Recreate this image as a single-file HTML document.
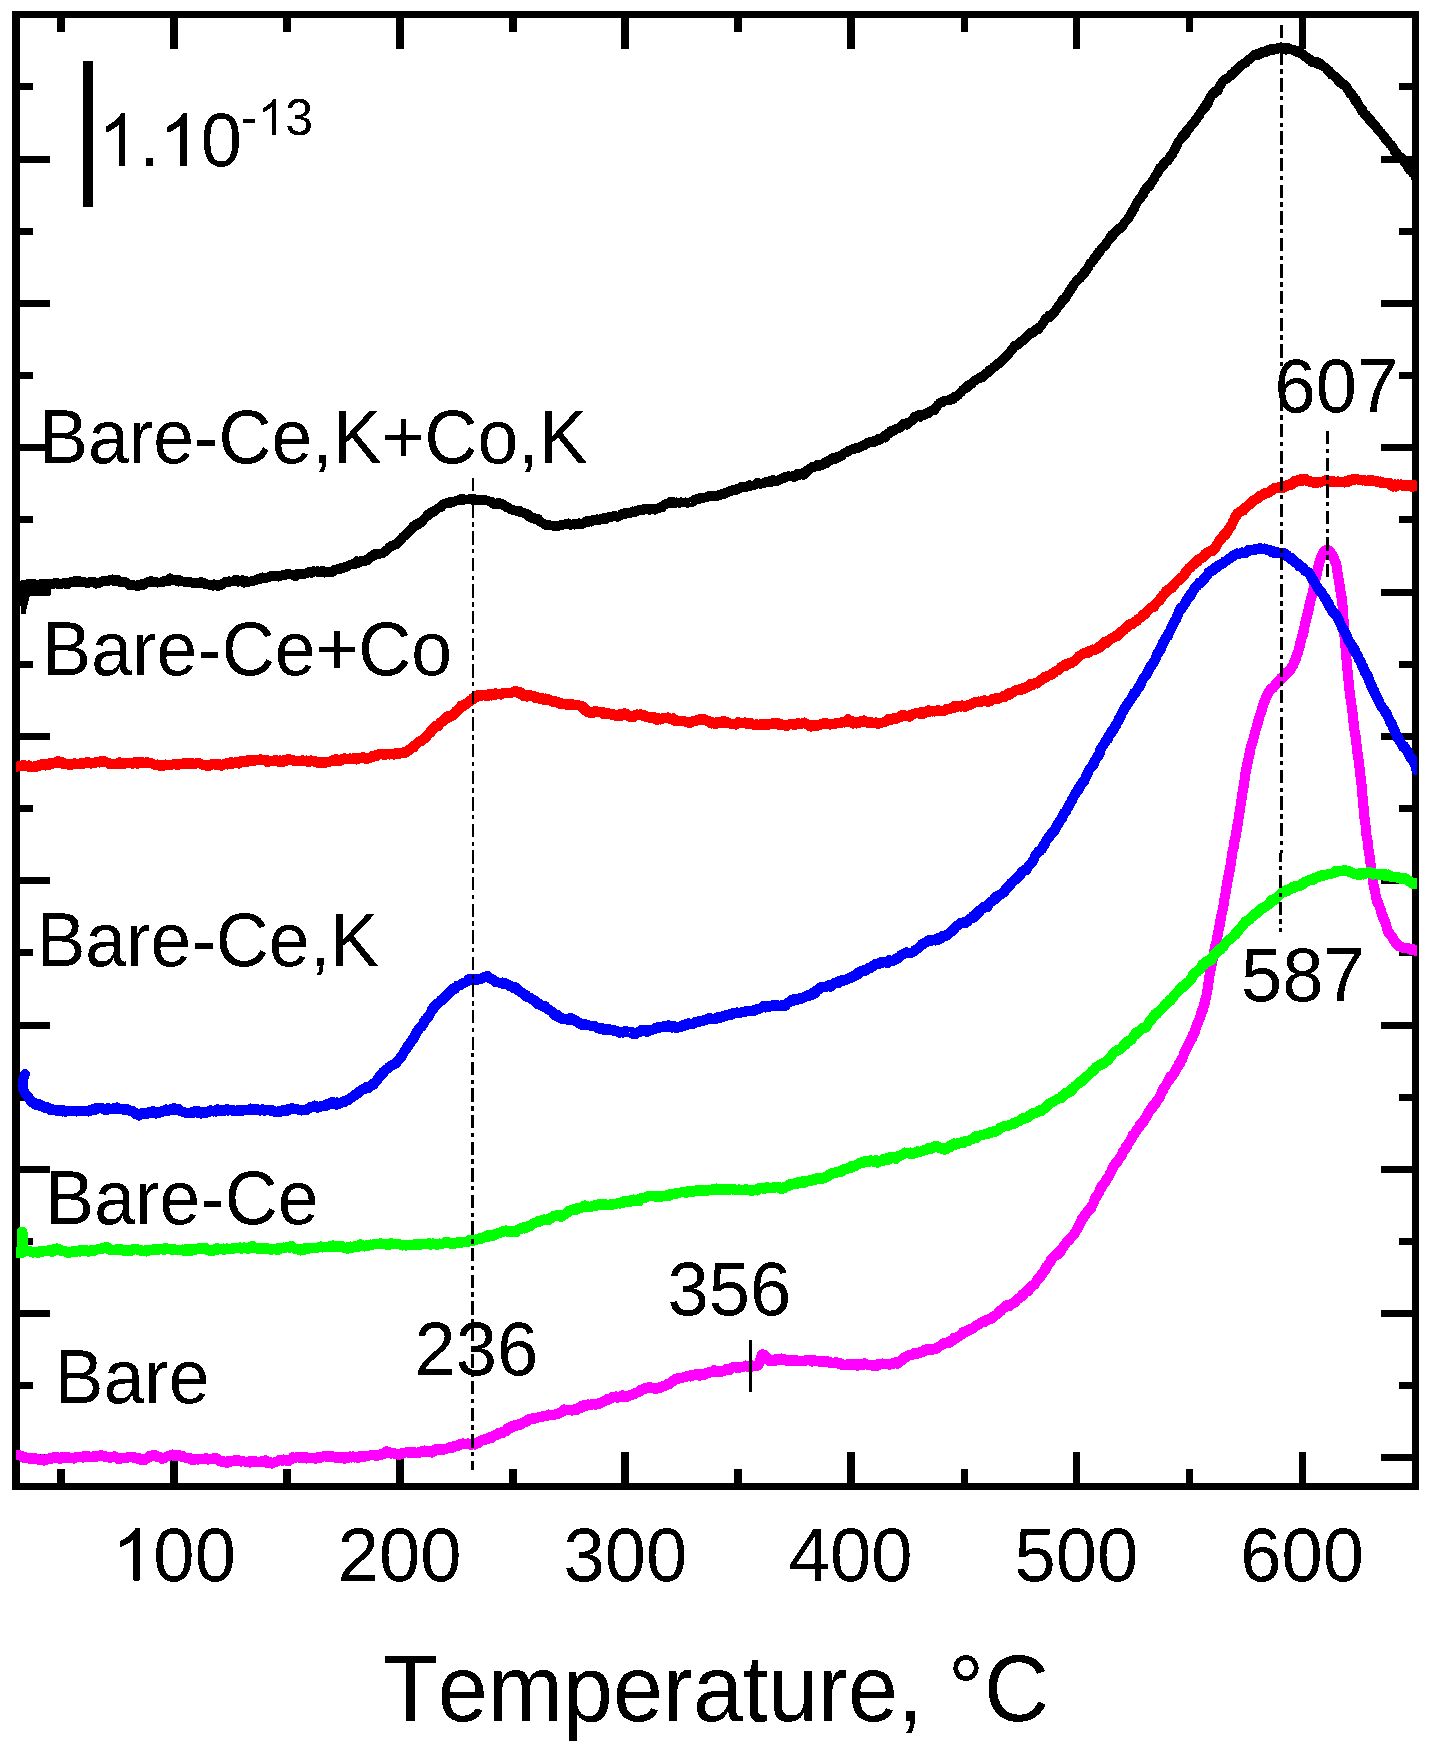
<!DOCTYPE html>
<html>
<head>
<meta charset="utf-8">
<title>TPD profiles</title>
<style>
html,body{margin:0;padding:0;background:#fff;}
body{width:1433px;height:1753px;overflow:hidden;font-family:"Liberation Sans",sans-serif;}
svg{display:block;}
svg text{font-family:"Liberation Sans",sans-serif;fill:#000;font-kerning:none;font-variant-ligatures:none;white-space:pre;}
</style>
</head>
<body>
<svg width="1433" height="1753" viewBox="0 0 1433 1753">
<rect x="0" y="0" width="1433" height="1753" fill="#fff"/>
<g fill="#000" shape-rendering="crispEdges">
<rect x="12" y="11" width="1407" height="7"/>
<rect x="12" y="1483" width="1407" height="7"/>
<rect x="12" y="11" width="8" height="1479"/>
<rect x="1412" y="11" width="7" height="1479"/>
<rect x="57" y="18" width="8" height="14"/>
<rect x="57" y="1469" width="8" height="14"/>
<rect x="170" y="18" width="8" height="31"/>
<rect x="170" y="1452" width="8" height="31"/>
<rect x="283" y="18" width="8" height="14"/>
<rect x="283" y="1469" width="8" height="14"/>
<rect x="396" y="18" width="8" height="31"/>
<rect x="396" y="1452" width="8" height="31"/>
<rect x="509" y="18" width="8" height="14"/>
<rect x="509" y="1469" width="8" height="14"/>
<rect x="621" y="18" width="8" height="31"/>
<rect x="621" y="1452" width="8" height="31"/>
<rect x="734" y="18" width="8" height="14"/>
<rect x="734" y="1469" width="8" height="14"/>
<rect x="847" y="18" width="8" height="31"/>
<rect x="847" y="1452" width="8" height="31"/>
<rect x="961" y="18" width="7" height="14"/>
<rect x="961" y="1469" width="7" height="14"/>
<rect x="1073" y="18" width="7" height="31"/>
<rect x="1073" y="1452" width="7" height="31"/>
<rect x="1186" y="18" width="7" height="14"/>
<rect x="1186" y="1469" width="7" height="14"/>
<rect x="1299" y="18" width="7" height="31"/>
<rect x="1299" y="1452" width="7" height="31"/>
<rect x="20" y="83" width="13" height="7"/>
<rect x="1399" y="83" width="13" height="7"/>
<rect x="20" y="156" width="30" height="7"/>
<rect x="1381" y="156" width="31" height="7"/>
<rect x="20" y="228" width="13" height="7"/>
<rect x="1399" y="228" width="13" height="7"/>
<rect x="20" y="300" width="30" height="7"/>
<rect x="1381" y="300" width="31" height="7"/>
<rect x="20" y="372" width="13" height="7"/>
<rect x="1399" y="372" width="13" height="7"/>
<rect x="20" y="444" width="30" height="7"/>
<rect x="1381" y="444" width="31" height="7"/>
<rect x="20" y="516" width="13" height="7"/>
<rect x="1399" y="516" width="13" height="7"/>
<rect x="20" y="589" width="30" height="7"/>
<rect x="1381" y="589" width="31" height="7"/>
<rect x="20" y="661" width="13" height="7"/>
<rect x="1399" y="661" width="13" height="7"/>
<rect x="20" y="733" width="30" height="7"/>
<rect x="1381" y="733" width="31" height="7"/>
<rect x="20" y="805" width="13" height="7"/>
<rect x="1399" y="805" width="13" height="7"/>
<rect x="20" y="877" width="30" height="7"/>
<rect x="1381" y="877" width="31" height="7"/>
<rect x="20" y="949" width="13" height="7"/>
<rect x="1399" y="949" width="13" height="7"/>
<rect x="20" y="1022" width="30" height="7"/>
<rect x="1381" y="1022" width="31" height="7"/>
<rect x="20" y="1094" width="13" height="7"/>
<rect x="1399" y="1094" width="13" height="7"/>
<rect x="20" y="1166" width="30" height="7"/>
<rect x="1381" y="1166" width="31" height="7"/>
<rect x="20" y="1238" width="13" height="7"/>
<rect x="1399" y="1238" width="13" height="7"/>
<rect x="20" y="1310" width="30" height="7"/>
<rect x="1381" y="1310" width="31" height="7"/>
<rect x="20" y="1382" width="13" height="7"/>
<rect x="1399" y="1382" width="13" height="7"/>
<rect x="20" y="1454" width="30" height="7"/>
<rect x="1381" y="1454" width="31" height="7"/>
</g>
<filter id="th" x="0" y="0" width="100%" height="100%" filterUnits="userSpaceOnUse" color-interpolation-filters="sRGB"><feComponentTransfer><feFuncA type="discrete" tableValues="0 1"/></feComponentTransfer></filter>
<g filter="url(#th)" fill="#000">
<path transform="translate(112.10 1580.6) scale(0.03623 -0.03569)" d="M763 0H583V1147Q518 1085 412.5 1023T223 930V1104Q374 1175 487 1276T647 1472H763Z"/>
<text transform="translate(153.37 1580.6) scale(1 1.025)" font-size="74.2">00</text>
<text transform="translate(337.84 1580.6) scale(1 1.025)" font-size="74.2">200</text>
<text transform="translate(563.58 1580.6) scale(1 1.025)" font-size="74.2">300</text>
<text transform="translate(788.82 1580.6) scale(1 1.025)" font-size="74.2">400</text>
<text transform="translate(1014.56 1580.6) scale(1 1.025)" font-size="74.2">500</text>
<text transform="translate(1240.30 1580.6) scale(1 1.025)" font-size="74.2">600</text>
<text transform="translate(39.10 463) scale(1 1.036)" font-size="73.4">Bare-Ce,K+Co,K</text>
<text transform="translate(42.20 674.5) scale(1 1.036)" font-size="73.4">Bare-Ce+Co</text>
<text transform="translate(36.40 965.5) scale(1 1.036)" font-size="73.4">Bare-Ce,K</text>
<text transform="translate(45.20 1223.5) scale(1 1.036)" font-size="73.4">Bare-Ce</text>
<text transform="translate(54.60 1403) scale(1 1.036)" font-size="73.4">Bare</text>
<text transform="translate(414.50 1374.5) scale(1 1.025)" font-size="74.2">236</text>
<text transform="translate(667.50 1314.5) scale(1 1.025)" font-size="74.2">356</text>
<text transform="translate(1274.50 412.5) scale(1 1.025)" font-size="74.2">607</text>
<text transform="translate(1241.00 1001) scale(1 1.025)" font-size="74.2">587</text>
<path transform="translate(97.50 166) scale(0.03623 -0.03569)" d="M763 0H583V1147Q518 1085 412.5 1023T223 930V1104Q374 1175 487 1276T647 1472H763Z"/>
<text transform="translate(138.77 166) scale(1 1.025)" font-size="74.2">.</text>
<path transform="translate(159.38 166) scale(0.03623 -0.03569)" d="M763 0H583V1147Q518 1085 412.5 1023T223 930V1104Q374 1175 487 1276T647 1472H763Z"/>
<text transform="translate(200.65 166) scale(1 1.025)" font-size="74.2">0</text>
<text transform="translate(240.91 134.5) scale(1 1.025)" font-size="50">-</text>
<path transform="translate(257.57 134.5) scale(0.02441 -0.02405)" d="M763 0H583V1147Q518 1085 412.5 1023T223 930V1104Q374 1175 487 1276T647 1472H763Z"/>
<text transform="translate(285.37 134.5) scale(1 1.025)" font-size="50">3</text>
<text transform="translate(382.89 1720.5) scale(1 1.055)" font-size="90">Temperature, °C</text>
</g>
<clipPath id="cp"><rect x="16" y="18" width="1401" height="1465"/></clipPath>
<g shape-rendering="crispEdges" clip-path="url(#cp)">
<path d="M16.2 1454.7L17.2 1455.1L18.2 1455.1L19.2 1455.1L20.2 1455.7L21.2 1455.8L22.2 1456.7L23.2 1457.7L24.2 1457.0L25.2 1457.2L26.2 1458.0L27.1 1458.1L28.1 1458.2L29.1 1457.9L30.1 1458.7L31.1 1459.3L32.1 1458.3L33.1 1458.9L34.1 1458.2L35.1 1458.6L36.1 1458.4L37.1 1459.4L38.1 1459.0L39.1 1460.1L40.1 1460.2L41.1 1460.3L42.1 1459.2L43.1 1460.3L44.1 1460.6L45.1 1460.5L46.1 1459.3L47.1 1459.6L48.1 1458.9L49.1 1458.5L50.1 1459.0L51.1 1457.5L52.1 1457.6L53.1 1457.8L54.1 1456.9L55.1 1457.3L56.1 1457.7L57.1 1458.0L58.1 1457.4L59.1 1458.2L60.1 1458.9L61.1 1457.2L62.1 1458.3L63.1 1457.7L64.1 1457.1L65.1 1458.3L66.1 1457.6L67.1 1456.5L68.1 1457.3L69.1 1457.7L70.1 1457.5L71.1 1458.1L72.1 1457.8L73.1 1458.2L74.1 1458.6L75.1 1457.3L76.1 1457.6L77.1 1457.1L78.1 1457.3L79.1 1456.5L80.1 1456.8L81.1 1456.9L82.1 1457.5L83.1 1457.6L84.1 1456.2L85.1 1456.5L86.1 1457.2L87.1 1455.8L88.1 1456.7L89.1 1456.9L90.1 1457.5L91.1 1457.1L92.0 1456.5L93.0 1456.4L94.0 1456.4L95.0 1457.3L96.0 1456.1L97.0 1456.0L98.0 1456.3L99.0 1455.9L100.0 1455.7L101.1 1455.2L102.1 1455.8L103.1 1455.7L104.1 1456.7L105.1 1456.6L106.1 1456.4L107.1 1457.0L108.1 1456.7L109.1 1457.7L110.1 1457.2L111.1 1457.6L112.1 1456.6L113.1 1457.5L114.1 1456.4L115.1 1456.3L116.1 1457.4L117.1 1457.3L118.1 1458.1L119.1 1459.4L120.1 1457.8L121.1 1457.9L122.1 1458.4L123.1 1458.5L124.1 1458.0L125.1 1457.8L126.1 1458.2L127.1 1457.9L128.1 1456.9L129.1 1457.3L130.1 1457.2L131.1 1456.6L132.1 1457.4L133.1 1456.9L134.1 1458.1L135.1 1457.9L136.1 1458.1L137.1 1458.1L138.1 1458.8L139.1 1458.2L140.1 1459.0L141.1 1460.0L142.1 1458.8L143.1 1460.4L144.1 1458.8L145.1 1459.8L146.1 1458.4L147.1 1458.6L148.1 1457.6L149.1 1456.0L150.1 1457.0L151.1 1456.5L152.1 1455.4L153.1 1455.1L154.1 1455.2L155.1 1455.0L156.1 1456.5L157.1 1456.1L158.1 1456.9L159.1 1457.0L160.1 1457.5L161.1 1457.4L162.1 1458.9L163.1 1458.1L164.1 1458.5L165.1 1457.7L166.1 1456.9L167.1 1456.6L168.1 1456.0L169.1 1456.0L170.1 1455.5L171.1 1455.3L172.1 1454.5L173.1 1454.7L174.1 1456.1L175.1 1454.8L176.1 1454.8L177.1 1455.7L178.1 1456.4L179.1 1455.1L180.1 1456.0L181.0 1456.0L182.0 1455.7L183.0 1457.4L184.0 1457.3L185.0 1457.7L186.0 1457.5L187.0 1458.5L188.0 1458.1L189.0 1458.6L190.0 1458.3L191.0 1458.4L192.0 1460.0L193.0 1459.2L194.0 1459.7L195.0 1459.6L196.0 1459.4L197.0 1459.2L198.0 1459.7L199.0 1459.0L200.0 1458.9L201.0 1458.8L202.0 1459.3L203.0 1459.0L204.0 1458.8L205.0 1458.4L206.0 1458.1L207.0 1459.5L208.0 1459.6L209.0 1459.0L210.0 1459.3L211.0 1459.3L212.0 1459.2L213.0 1459.1L214.0 1458.3L215.0 1459.3L216.0 1457.9L217.0 1459.4L218.0 1459.5L219.0 1460.2L220.0 1461.3L221.0 1461.6L221.9 1460.7L222.9 1460.8L223.9 1462.5L224.9 1461.7L225.9 1462.3L226.9 1462.8L227.9 1461.3L228.9 1461.0L229.9 1462.1L230.9 1461.7L231.9 1461.3L232.9 1461.3L233.9 1460.6L234.9 1460.1L235.9 1460.8L236.9 1460.3L237.9 1460.0L238.9 1461.3L239.9 1461.1L240.9 1461.6L241.9 1461.0L242.9 1461.4L243.9 1461.3L244.9 1461.5L245.9 1462.1L246.9 1461.5L247.9 1462.0L248.9 1461.9L249.9 1462.7L250.9 1460.8L251.9 1462.0L252.9 1461.5L253.9 1461.6L254.9 1460.8L255.9 1461.4L256.9 1462.2L257.9 1461.8L258.9 1461.9L259.9 1461.6L260.9 1462.4L261.9 1461.7L262.9 1460.5L263.9 1461.4L264.9 1460.8L265.9 1460.2L266.9 1461.9L267.9 1463.1L268.9 1462.7L269.9 1462.2L270.9 1462.4L271.9 1463.6L272.9 1462.9L273.9 1462.6L274.9 1462.2L275.8 1461.8L276.8 1461.8L277.8 1461.2L278.8 1460.7L279.8 1459.7L280.8 1460.4L281.8 1459.7L282.8 1460.8L283.8 1459.5L284.8 1460.3L285.8 1460.4L286.8 1459.7L287.8 1461.3L288.8 1460.9L289.8 1459.5L290.8 1459.8L291.8 1459.2L292.8 1457.2L293.8 1458.4L294.8 1457.9L295.8 1457.7L296.8 1456.9L297.8 1457.2L298.8 1457.2L299.8 1457.9L300.8 1457.5L301.7 1457.4L302.7 1458.3L303.7 1457.2L304.7 1457.4L305.7 1456.6L306.7 1458.5L307.7 1458.3L308.7 1458.3L309.7 1458.2L310.7 1457.9L311.7 1458.0L312.7 1457.8L313.7 1457.9L314.7 1458.0L315.7 1458.7L316.7 1458.0L317.7 1457.5L318.7 1457.0L319.7 1456.8L320.7 1457.8L321.7 1457.0L322.7 1456.6L323.7 1456.3L324.7 1455.9L325.7 1456.5L326.7 1457.0L327.7 1456.3L328.7 1456.4L329.7 1456.5L330.7 1456.8L331.7 1455.9L332.7 1456.8L333.7 1456.5L334.7 1457.5L335.7 1456.7L336.7 1457.5L337.7 1458.0L338.7 1457.1L339.7 1457.0L340.7 1457.6L341.7 1457.6L342.7 1457.1L343.7 1457.9L344.7 1458.8L345.7 1457.5L346.7 1457.5L347.7 1457.0L348.7 1457.6L349.7 1456.5L350.7 1456.4L351.7 1457.6L352.7 1456.3L353.7 1457.4L354.7 1457.6L355.7 1457.0L356.7 1457.2L357.7 1457.9L358.7 1456.7L359.7 1456.4L360.7 1455.9L361.7 1456.6L362.7 1457.3L363.7 1457.0L364.7 1455.8L365.7 1455.7L366.7 1455.8L367.7 1456.0L368.7 1455.5L369.7 1455.5L370.7 1455.3L371.7 1454.7L372.7 1454.7L373.7 1454.8L374.7 1454.7L375.7 1455.2L376.7 1456.1L377.7 1455.6L378.7 1455.3L379.7 1454.3L380.7 1455.3L381.7 1453.7L382.7 1453.5L383.7 1454.2L384.7 1453.5L385.7 1452.5L386.7 1451.2L387.7 1451.8L388.7 1451.6L389.7 1452.5L390.7 1453.7L391.7 1452.9L392.7 1452.8L393.7 1452.9L394.7 1453.9L395.7 1454.2L396.7 1453.8L397.7 1454.5L398.7 1453.7L399.7 1454.7L400.7 1454.4L401.7 1454.1L402.7 1452.9L403.7 1453.2L404.7 1452.7L405.7 1452.4L406.7 1452.3L407.7 1451.7L408.7 1451.6L409.7 1452.9L410.7 1452.4L411.7 1452.7L412.7 1453.2L413.7 1451.8L414.7 1452.3L415.7 1452.8L416.7 1452.9L417.7 1452.4L418.7 1453.1L419.7 1452.4L420.7 1451.5L421.7 1451.4L422.7 1452.2L423.7 1451.9L424.7 1450.5L425.7 1452.3L426.7 1451.9L427.7 1452.4L428.7 1451.5L429.7 1451.5L430.7 1450.8L431.7 1452.6L432.7 1450.8L433.7 1451.4L434.7 1449.8L435.6 1450.0L436.6 1448.7L437.6 1449.3L438.6 1450.0L439.6 1448.8L440.6 1450.2L441.6 1450.0L442.6 1449.3L443.5 1449.6L444.5 1449.5L445.5 1449.4L446.5 1448.8L447.5 1448.3L448.5 1448.3L449.5 1447.6L450.4 1447.1L451.4 1447.6L452.4 1447.8L453.4 1446.2L454.4 1446.8L455.4 1446.1L456.3 1445.5L457.3 1446.1L458.3 1444.9L459.3 1445.5L460.2 1443.9L461.2 1444.2L462.2 1443.7L463.2 1443.4L464.1 1444.1L465.1 1443.7L466.1 1444.2L467.0 1443.9L468.0 1443.4L469.0 1444.1L469.9 1444.3L470.9 1445.0L471.8 1444.0L472.8 1444.5L473.7 1443.6L474.7 1444.7L475.7 1443.5L476.6 1442.7L477.6 1443.2L478.5 1443.3L479.4 1441.3L480.4 1441.0L481.3 1440.7L482.3 1440.0L483.2 1440.4L484.2 1439.4L485.1 1439.1L486.0 1439.6L487.0 1438.6L487.9 1439.0L488.9 1437.9L489.8 1437.4L490.7 1436.6L491.7 1438.1L492.6 1436.3L493.5 1436.0L494.5 1435.3L495.4 1434.8L496.3 1434.3L497.3 1435.0L498.2 1433.1L499.1 1432.6L500.1 1432.7L501.0 1432.4L501.9 1433.3L502.9 1433.1L503.8 1431.7L504.7 1431.0L505.7 1431.0L506.6 1431.3L507.5 1428.2L508.4 1429.3L509.4 1427.8L510.3 1428.3L511.2 1426.6L512.2 1426.5L513.1 1425.4L514.0 1425.4L514.9 1426.5L515.8 1426.1L516.8 1425.4L517.7 1425.0L518.6 1424.3L519.5 1424.9L520.5 1424.6L521.4 1424.1L522.3 1423.5L523.2 1422.3L524.1 1422.3L525.1 1421.7L526.0 1421.8L526.9 1421.5L527.8 1419.8L528.8 1419.1L529.7 1419.2L530.6 1418.7L531.6 1418.5L532.5 1418.8L533.5 1418.2L534.4 1418.9L535.3 1418.3L536.3 1418.3L537.2 1417.9L538.2 1417.4L539.1 1417.1L540.1 1417.3L541.1 1416.8L542.0 1417.1L543.0 1416.7L543.9 1415.8L544.9 1416.4L545.9 1415.5L546.8 1415.7L547.8 1415.6L548.8 1414.4L549.8 1415.4L550.7 1415.2L551.7 1414.9L552.7 1414.7L553.7 1414.7L554.6 1414.4L555.6 1414.6L556.6 1414.3L557.6 1414.3L558.6 1413.2L559.5 1413.5L560.5 1412.8L561.5 1412.0L562.5 1411.2L563.4 1411.2L564.4 1409.4L565.4 1410.2L566.4 1409.9L567.3 1409.9L568.3 1410.0L569.3 1409.6L570.3 1410.0L571.2 1410.6L572.2 1410.6L573.2 1410.4L574.1 1409.3L575.1 1410.2L576.1 1410.3L577.1 1409.8L578.0 1408.9L579.0 1407.5L580.0 1408.4L580.9 1407.3L581.9 1405.6L582.9 1406.8L583.9 1405.3L584.8 1405.0L585.8 1404.9L586.8 1405.6L587.7 1404.4L588.7 1404.5L589.7 1405.2L590.7 1405.1L591.6 1404.2L592.6 1404.2L593.6 1403.7L594.5 1404.1L595.5 1404.7L596.5 1404.5L597.4 1404.1L598.4 1404.3L599.4 1402.8L600.3 1402.8L601.3 1402.7L602.3 1402.1L603.2 1401.9L604.2 1401.1L605.1 1400.4L606.1 1400.4L607.1 1399.3L608.0 1398.6L609.0 1399.5L609.9 1398.8L610.9 1398.7L611.8 1397.3L612.8 1397.8L613.8 1397.5L614.7 1397.2L615.7 1396.3L616.6 1397.2L617.6 1397.7L618.5 1397.3L619.5 1396.6L620.4 1396.8L621.4 1397.1L622.4 1395.1L623.3 1396.4L624.3 1396.7L625.2 1396.7L626.2 1397.2L627.2 1396.7L628.1 1396.1L629.1 1395.8L630.0 1395.7L631.0 1394.5L632.0 1394.4L632.9 1394.5L633.9 1394.6L634.9 1393.1L635.8 1392.7L636.8 1392.4L637.8 1392.6L638.8 1391.3L639.7 1391.6L640.7 1389.7L641.7 1389.7L642.6 1389.3L643.6 1389.5L644.6 1389.3L645.6 1387.6L646.5 1387.7L647.5 1388.2L648.5 1387.5L649.5 1386.9L650.4 1388.3L651.4 1388.0L652.4 1388.1L653.4 1387.7L654.3 1388.6L655.3 1388.0L656.3 1388.8L657.2 1387.6L658.2 1387.6L659.2 1388.0L660.1 1387.2L661.1 1387.6L662.1 1387.0L663.0 1386.0L664.0 1386.1L665.0 1385.4L665.9 1385.7L666.9 1384.4L667.8 1383.9L668.8 1384.2L669.8 1384.1L670.7 1383.2L671.7 1381.5L672.6 1380.9L673.6 1381.1L674.5 1379.7L675.5 1378.9L676.4 1379.2L677.4 1379.2L678.3 1378.3L679.3 1377.6L680.2 1377.6L681.2 1378.5L682.2 1377.4L683.1 1377.4L684.1 1377.2L685.0 1377.1L686.0 1376.3L686.9 1376.6L687.9 1375.7L688.9 1375.9L689.8 1375.4L690.8 1376.6L691.7 1375.8L692.7 1375.3L693.7 1375.3L694.6 1375.2L695.6 1375.4L696.6 1374.0L697.6 1374.1L698.5 1374.3L699.5 1375.8L700.5 1374.9L701.5 1374.2L702.4 1374.6L703.4 1375.2L704.4 1373.7L705.4 1373.4L706.4 1373.9L707.4 1373.1L708.3 1372.8L709.3 1371.7L710.3 1372.6L711.3 1372.2L712.3 1371.4L713.3 1371.5L714.2 1370.0L715.2 1371.7L716.2 1371.4L717.2 1371.9L718.2 1372.1L719.2 1371.6L720.2 1370.9L721.1 1371.9L722.1 1371.1L723.1 1371.1L724.1 1370.7L725.1 1370.5L726.1 1369.0L727.1 1370.5L728.0 1369.6L729.0 1369.8L730.0 1369.9L731.0 1368.5L732.0 1367.3L733.0 1367.6L734.0 1367.2L735.0 1367.4L736.0 1367.7L737.0 1366.5L737.9 1367.7L738.9 1366.7L739.9 1367.6L740.9 1367.4L741.9 1367.2L742.9 1367.2L743.9 1366.7L744.9 1366.5L745.8 1365.6L746.8 1366.3L747.8 1367.1L748.8 1367.0L749.8 1366.5L750.8 1366.1L751.8 1365.3L752.8 1366.6L753.9 1365.8L755.0 1365.9L755.9 1365.8L756.8 1366.0L757.5 1365.5L758.2 1365.2L758.7 1363.9L759.2 1363.1L759.6 1363.3L760.0 1360.5L760.4 1359.0L760.9 1357.9L761.3 1356.7L761.8 1354.6L762.3 1354.4L762.9 1354.7L763.6 1354.5L764.4 1354.9L765.2 1356.5L766.1 1356.3L767.0 1357.9L768.0 1358.7L768.9 1360.8L769.9 1359.5L770.8 1360.5L771.8 1360.6L772.7 1361.1L773.7 1360.8L774.6 1361.0L775.6 1359.2L776.6 1360.3L777.6 1359.6L778.6 1359.3L779.6 1360.0L780.6 1359.2L781.6 1358.6L782.6 1359.6L783.6 1359.0L784.6 1359.5L785.6 1360.1L786.7 1360.3L787.7 1361.3L788.7 1360.5L789.7 1360.0L790.8 1360.6L791.8 1360.6L792.8 1360.5L793.8 1361.3L794.8 1360.6L795.8 1359.8L796.8 1361.1L797.8 1360.6L798.8 1360.8L799.8 1360.6L800.8 1361.0L801.8 1360.7L802.8 1361.4L803.8 1360.9L804.8 1360.9L805.8 1360.8L806.8 1359.8L807.8 1360.5L808.8 1360.4L809.8 1360.6L810.8 1359.8L811.8 1361.6L812.8 1360.9L813.8 1360.3L814.8 1360.3L815.8 1361.3L816.8 1361.5L817.8 1361.2L818.8 1361.6L819.8 1361.0L820.8 1361.6L821.8 1360.7L822.8 1361.0L823.8 1361.5L824.8 1362.4L825.8 1360.6L826.8 1361.2L827.8 1361.3L828.8 1362.6L829.8 1361.9L830.8 1362.6L831.7 1363.1L832.7 1362.7L833.7 1362.7L834.7 1363.0L835.7 1362.1L836.7 1362.5L837.7 1363.2L838.7 1363.8L839.7 1363.9L840.6 1363.4L841.6 1364.4L842.6 1365.3L843.6 1365.4L844.6 1365.1L845.6 1364.6L846.6 1365.3L847.6 1364.5L848.6 1364.0L849.6 1364.1L850.6 1365.2L851.6 1364.5L852.6 1365.0L853.6 1364.0L854.6 1364.8L855.6 1364.0L856.6 1364.3L857.6 1365.8L858.6 1364.9L859.6 1364.1L860.6 1364.3L861.6 1364.5L862.6 1364.9L863.6 1363.9L864.6 1363.2L865.6 1364.0L866.6 1364.3L867.6 1364.4L868.6 1365.2L869.6 1364.9L870.7 1365.3L871.7 1364.5L872.7 1365.7L873.7 1366.4L874.7 1365.7L875.7 1365.3L876.7 1365.0L877.7 1365.6L878.7 1363.9L879.7 1364.1L880.7 1364.2L881.7 1364.2L882.7 1363.5L883.7 1363.9L884.7 1363.7L885.6 1364.0L886.6 1364.0L887.6 1363.6L888.6 1364.3L889.6 1364.8L890.5 1363.7L891.5 1363.9L892.5 1364.1L893.4 1362.9L894.4 1363.3L895.4 1362.3L896.3 1363.3L897.3 1363.7L898.3 1363.2L899.2 1361.5L900.2 1361.5L901.1 1360.6L902.1 1359.9L903.0 1359.9L904.0 1357.5L905.0 1358.1L905.9 1356.9L906.9 1357.1L907.8 1356.0L908.8 1355.2L909.7 1355.4L910.7 1355.4L911.7 1354.8L912.6 1354.8L913.6 1354.1L914.6 1353.0L915.5 1354.4L916.5 1354.1L917.5 1353.6L918.4 1353.2L919.4 1353.4L920.4 1352.2L921.3 1351.6L922.3 1351.5L923.2 1351.9L924.2 1350.1L925.2 1351.1L926.1 1349.8L927.1 1349.2L928.0 1350.3L929.0 1349.4L929.9 1348.6L930.8 1349.0L931.8 1349.7L932.7 1349.7L933.6 1348.8L934.6 1349.1L935.5 1349.1L936.4 1348.1L937.3 1348.3L938.2 1347.5L939.1 1346.6L940.0 1345.9L940.9 1345.5L941.8 1344.8L942.7 1343.9L943.6 1343.4L944.5 1343.8L945.4 1343.0L946.3 1343.1L947.2 1343.1L948.1 1342.5L949.0 1343.1L949.8 1341.0L950.7 1341.4L951.6 1340.3L952.5 1340.9L953.4 1340.3L954.2 1337.8L955.1 1337.8L956.0 1338.2L956.9 1337.8L957.7 1337.3L958.6 1336.3L959.5 1336.0L960.4 1335.5L961.3 1334.4L962.1 1334.3L963.0 1331.9L963.9 1332.9L964.8 1331.5L965.7 1332.1L966.5 1331.1L967.4 1330.4L968.3 1330.8L969.2 1329.9L970.1 1329.5L971.0 1328.7L971.9 1329.0L972.7 1328.6L973.6 1328.1L974.5 1326.8L975.4 1326.7L976.3 1325.6L977.2 1325.0L978.1 1324.8L978.9 1324.6L979.8 1323.4L980.7 1323.0L981.6 1322.7L982.4 1322.5L983.3 1321.5L984.2 1322.2L985.0 1320.9L985.9 1320.9L986.8 1319.8L987.6 1320.0L988.5 1319.5L989.3 1318.6L990.2 1319.5L991.0 1318.2L991.8 1318.4L992.7 1317.5L993.5 1316.1L994.4 1315.7L995.2 1315.7L996.0 1315.0L996.9 1314.5L997.7 1313.7L998.5 1312.2L999.3 1312.4L1000.2 1310.5L1001.0 1311.1L1001.8 1309.7L1002.6 1308.9L1003.4 1308.4L1004.2 1308.0L1005.0 1306.5L1005.9 1305.8L1006.7 1305.8L1007.5 1304.9L1008.3 1305.2L1009.1 1306.3L1009.9 1304.5L1010.7 1305.1L1011.5 1303.5L1012.2 1303.9L1013.0 1302.9L1013.8 1302.4L1014.6 1302.1L1015.4 1302.1L1016.2 1300.6L1016.9 1299.9L1017.7 1298.7L1018.5 1298.9L1019.2 1297.8L1020.0 1297.8L1020.8 1296.6L1021.5 1296.9L1022.3 1294.3L1023.0 1294.6L1023.8 1294.6L1024.5 1293.4L1025.3 1292.5L1026.0 1292.1L1026.8 1290.8L1027.5 1290.9L1028.2 1291.4L1029.0 1289.9L1029.7 1287.9L1030.4 1287.2L1031.1 1286.8L1031.8 1286.9L1032.5 1285.3L1033.2 1284.9L1033.8 1285.2L1034.5 1284.6L1035.1 1283.3L1035.8 1282.1L1036.4 1281.0L1037.0 1280.5L1037.7 1278.7L1038.3 1279.3L1038.9 1277.6L1039.5 1277.3L1040.1 1277.3L1040.7 1276.1L1041.3 1274.1L1042.0 1274.5L1042.6 1273.9L1043.2 1272.1L1043.8 1271.3L1044.4 1270.9L1045.0 1269.2L1045.6 1269.9L1046.2 1266.8L1046.8 1266.5L1047.5 1265.9L1048.1 1264.8L1048.7 1264.0L1049.3 1263.0L1050.0 1261.8L1050.6 1261.6L1051.2 1258.8L1051.8 1259.2L1052.4 1258.0L1053.1 1257.7L1053.7 1257.1L1054.3 1255.9L1054.9 1255.5L1055.6 1255.7L1056.2 1254.9L1056.8 1253.8L1057.4 1254.8L1058.1 1254.5L1058.7 1251.9L1059.3 1252.3L1060.0 1252.8L1060.6 1251.2L1061.2 1250.0L1061.9 1248.9L1062.5 1247.8L1063.2 1247.0L1063.8 1245.9L1064.5 1245.6L1065.1 1244.1L1065.8 1243.2L1066.5 1241.9L1067.1 1241.8L1067.8 1240.6L1068.5 1240.3L1069.1 1240.2L1069.8 1239.2L1070.4 1238.6L1071.1 1237.8L1071.7 1236.9L1072.3 1236.1L1072.9 1235.3L1073.5 1235.1L1074.1 1233.4L1074.7 1233.9L1075.2 1232.4L1075.8 1231.2L1076.3 1230.6L1076.8 1229.7L1077.3 1229.4L1077.8 1228.0L1078.2 1228.1L1078.7 1226.1L1079.2 1224.3L1079.6 1224.1L1080.1 1222.4L1080.6 1222.4L1081.1 1222.0L1081.5 1220.7L1082.0 1218.6L1082.5 1218.0L1083.1 1218.5L1083.6 1216.8L1084.1 1215.8L1084.6 1215.6L1085.1 1215.6L1085.7 1214.3L1086.2 1213.1L1086.7 1212.6L1087.3 1212.2L1087.8 1211.0L1088.3 1210.2L1088.9 1210.3L1089.4 1209.2L1090.0 1209.1L1090.5 1208.5L1091.0 1208.9L1091.6 1206.2L1092.1 1205.5L1092.7 1204.3L1093.2 1203.4L1093.8 1202.5L1094.3 1200.5L1094.8 1199.1L1095.4 1197.6L1095.9 1197.1L1096.4 1197.0L1096.9 1196.0L1097.5 1194.6L1098.0 1194.1L1098.5 1193.4L1099.0 1192.6L1099.5 1190.9L1100.0 1189.9L1100.6 1187.9L1101.1 1187.3L1101.6 1187.9L1102.1 1185.0L1102.6 1185.3L1103.1 1184.9L1103.6 1184.1L1104.1 1183.3L1104.6 1183.1L1105.1 1182.4L1105.6 1181.7L1106.1 1179.9L1106.6 1180.0L1107.1 1178.7L1107.6 1178.1L1108.1 1177.6L1108.6 1177.0L1109.1 1176.1L1109.6 1174.3L1110.1 1174.0L1110.6 1173.0L1111.1 1171.9L1111.6 1170.9L1112.1 1169.0L1112.6 1168.0L1113.2 1167.6L1113.7 1165.5L1114.2 1165.6L1114.7 1164.6L1115.2 1164.1L1115.8 1162.8L1116.3 1162.6L1116.8 1162.4L1117.3 1162.2L1117.9 1161.5L1118.4 1160.1L1118.9 1159.2L1119.4 1158.1L1120.0 1157.9L1120.5 1156.6L1121.0 1156.2L1121.6 1155.8L1122.1 1153.9L1122.6 1152.2L1123.1 1151.7L1123.7 1150.5L1124.2 1149.8L1124.7 1150.2L1125.3 1148.7L1125.8 1146.8L1126.3 1147.2L1126.9 1146.7L1127.4 1145.0L1127.9 1143.9L1128.5 1143.2L1129.0 1142.6L1129.5 1141.8L1130.1 1141.1L1130.6 1140.2L1131.1 1139.3L1131.7 1138.6L1132.2 1137.3L1132.7 1135.3L1133.3 1135.3L1133.8 1134.8L1134.4 1133.6L1134.9 1133.5L1135.4 1132.0L1136.0 1130.8L1136.5 1131.2L1137.0 1130.0L1137.6 1129.0L1138.1 1128.7L1138.7 1128.0L1139.2 1126.9L1139.7 1124.7L1140.3 1125.0L1140.8 1124.5L1141.4 1123.5L1141.9 1123.4L1142.4 1123.2L1143.0 1121.5L1143.5 1120.4L1144.1 1121.3L1144.6 1119.2L1145.2 1118.1L1145.7 1118.1L1146.3 1117.4L1146.8 1115.8L1147.3 1115.6L1147.9 1113.8L1148.4 1112.5L1149.0 1112.1L1149.5 1111.4L1150.1 1109.7L1150.7 1109.3L1151.2 1108.2L1151.8 1109.1L1152.3 1106.4L1152.9 1106.9L1153.4 1105.5L1154.0 1104.8L1154.5 1104.7L1155.1 1104.2L1155.6 1103.7L1156.2 1102.5L1156.7 1101.2L1157.2 1100.4L1157.8 1100.1L1158.3 1099.3L1158.9 1098.7L1159.4 1097.2L1160.0 1096.5L1160.5 1095.6L1161.1 1093.8L1161.6 1091.7L1162.2 1090.8L1162.7 1089.5L1163.3 1090.1L1163.8 1087.7L1164.4 1087.8L1165.0 1086.5L1165.5 1086.2L1166.1 1084.9L1166.6 1083.5L1167.2 1082.5L1167.7 1081.8L1168.3 1081.0L1168.8 1079.7L1169.3 1079.1L1169.9 1079.2L1170.4 1076.5L1170.9 1076.9L1171.5 1075.7L1172.0 1075.8L1172.5 1075.7L1173.0 1074.7L1173.5 1074.6L1174.0 1072.7L1174.5 1073.5L1175.0 1071.8L1175.5 1071.6L1175.9 1070.4L1176.4 1067.8L1176.9 1067.8L1177.3 1067.4L1177.8 1067.1L1178.3 1065.5L1178.7 1064.6L1179.2 1062.9L1179.6 1063.8L1180.1 1063.3L1180.5 1061.6L1181.0 1060.7L1181.4 1059.1L1181.9 1059.6L1182.3 1059.7L1182.8 1057.6L1183.2 1056.8L1183.6 1055.2L1184.0 1053.2L1184.5 1053.4L1184.9 1050.9L1185.3 1050.4L1185.7 1049.8L1186.2 1049.3L1186.6 1048.3L1187.0 1047.6L1187.4 1046.2L1187.8 1045.2L1188.2 1045.3L1188.7 1044.1L1189.1 1043.1L1189.5 1042.3L1189.9 1041.9L1190.3 1040.3L1190.7 1039.6L1191.1 1038.5L1191.5 1038.6L1191.9 1037.7L1192.3 1037.7L1192.7 1035.0L1193.2 1034.6L1193.6 1034.7L1194.0 1033.3L1194.4 1032.3L1194.8 1032.4L1195.2 1030.2L1195.6 1028.5L1196.0 1027.1L1196.4 1026.7L1196.8 1025.5L1197.2 1023.4L1197.6 1022.6L1198.0 1022.5L1198.4 1021.7L1198.8 1020.2L1199.1 1020.1L1199.5 1019.2L1199.9 1017.0L1200.2 1016.8L1200.6 1016.2L1200.9 1014.6L1201.2 1012.8L1201.5 1012.8L1201.8 1012.5L1202.1 1012.1L1202.4 1009.2L1202.7 1011.0L1203.0 1008.0L1203.2 1008.2L1203.5 1007.3L1203.7 1006.1L1204.0 1004.7L1204.2 1003.0L1204.4 1003.2L1204.7 1001.7L1204.9 1000.0L1205.1 1002.2L1205.3 1000.4L1205.5 1000.2L1205.7 997.9L1206.0 998.3L1206.2 997.6L1206.3 996.7L1206.5 995.0L1206.7 993.5L1206.9 993.1L1207.1 991.1L1207.3 990.4L1207.5 990.3L1207.7 988.6L1207.8 987.8L1208.0 986.5L1208.2 986.3L1208.4 984.5L1208.5 982.4L1208.7 981.8L1208.9 979.4L1209.1 978.5L1209.2 978.2L1209.4 975.9L1209.6 975.4L1209.8 973.8L1210.0 973.6L1210.1 973.3L1210.3 970.9L1210.5 970.4L1210.7 968.7L1210.9 967.5L1211.0 966.5L1211.2 967.0L1211.4 966.5L1211.6 964.6L1211.8 963.1L1212.0 963.0L1212.2 961.7L1212.4 961.4L1212.6 960.2L1212.8 959.2L1213.0 958.4L1213.2 956.7L1213.4 955.8L1213.6 954.1L1213.8 953.7L1214.0 952.0L1214.2 951.6L1214.4 950.0L1214.6 949.5L1214.8 948.7L1215.0 946.7L1215.2 946.1L1215.4 945.2L1215.6 945.3L1215.8 945.1L1216.0 943.9L1216.2 942.4L1216.4 942.6L1216.6 940.1L1216.8 940.7L1217.0 938.4L1217.2 936.2L1217.4 938.1L1217.6 936.4L1217.8 934.0L1218.0 933.6L1218.2 932.4L1218.4 931.6L1218.5 929.8L1218.7 929.2L1218.9 928.8L1219.1 927.6L1219.3 927.1L1219.5 925.5L1219.7 925.7L1219.9 923.1L1220.1 922.7L1220.3 920.5L1220.4 919.8L1220.6 920.2L1220.8 917.9L1221.0 917.7L1221.2 916.4L1221.4 915.0L1221.5 914.6L1221.7 913.8L1221.9 913.0L1222.1 912.9L1222.3 912.1L1222.4 910.7L1222.6 909.6L1222.8 909.4L1223.0 908.2L1223.1 907.8L1223.3 907.7L1223.5 905.6L1223.7 904.1L1223.8 903.0L1224.0 901.6L1224.2 900.6L1224.3 899.5L1224.5 898.8L1224.7 897.7L1224.9 897.4L1225.0 895.8L1225.2 895.0L1225.4 893.4L1225.5 893.9L1225.7 892.2L1225.9 891.9L1226.0 890.2L1226.2 889.4L1226.4 887.2L1226.6 886.6L1226.7 886.5L1226.9 883.3L1227.1 883.6L1227.2 883.0L1227.4 881.5L1227.6 880.9L1227.7 880.4L1227.9 878.6L1228.1 878.5L1228.3 877.1L1228.4 876.4L1228.6 875.5L1228.8 874.8L1228.9 873.9L1229.1 873.0L1229.3 871.0L1229.5 872.0L1229.6 870.7L1229.8 869.5L1230.0 868.0L1230.2 867.3L1230.3 866.7L1230.5 865.6L1230.7 863.4L1230.9 863.5L1231.0 863.4L1231.2 859.3L1231.4 859.4L1231.6 857.5L1231.7 855.8L1231.9 855.4L1232.1 852.9L1232.3 852.7L1232.4 852.7L1232.6 851.1L1232.8 850.4L1232.9 850.2L1233.1 849.4L1233.3 849.9L1233.5 847.8L1233.6 847.8L1233.8 845.6L1234.0 845.5L1234.2 843.8L1234.3 841.2L1234.5 841.5L1234.7 839.9L1234.9 839.3L1235.0 839.7L1235.2 837.4L1235.4 836.7L1235.5 837.4L1235.7 835.8L1235.9 835.7L1236.0 834.0L1236.2 832.2L1236.4 831.5L1236.6 831.1L1236.7 829.8L1236.9 828.3L1237.1 827.4L1237.2 826.3L1237.4 825.2L1237.6 825.6L1237.7 823.6L1237.9 821.9L1238.1 821.2L1238.2 820.8L1238.4 819.7L1238.6 818.2L1238.7 816.9L1238.9 816.2L1239.1 814.2L1239.2 813.5L1239.4 813.6L1239.6 811.9L1239.7 811.4L1239.9 810.9L1240.0 809.5L1240.2 808.1L1240.4 808.2L1240.5 806.3L1240.7 804.7L1240.9 804.2L1241.0 802.9L1241.2 801.2L1241.3 800.7L1241.5 799.5L1241.7 797.4L1241.8 797.4L1242.0 796.2L1242.2 795.1L1242.3 793.4L1242.5 793.0L1242.6 792.2L1242.8 791.2L1242.9 789.6L1243.1 789.8L1243.2 788.0L1243.4 787.8L1243.5 787.9L1243.7 786.0L1243.8 785.3L1244.0 785.3L1244.1 783.5L1244.2 782.5L1244.4 781.6L1244.5 780.8L1244.7 777.8L1244.8 777.3L1245.0 776.1L1245.1 775.0L1245.2 774.1L1245.4 773.2L1245.6 772.9L1245.7 771.3L1245.9 771.0L1246.0 770.4L1246.2 768.9L1246.4 768.6L1246.5 768.5L1246.7 766.9L1246.9 765.4L1247.1 764.8L1247.3 763.4L1247.5 763.2L1247.7 762.6L1247.9 760.7L1248.1 760.1L1248.3 759.9L1248.5 758.0L1248.7 757.4L1249.0 755.7L1249.2 754.7L1249.5 753.7L1249.7 754.0L1249.9 751.3L1250.2 749.9L1250.4 748.6L1250.7 747.6L1250.9 747.0L1251.2 745.7L1251.5 745.8L1251.7 744.0L1252.0 744.0L1252.2 742.7L1252.5 742.3L1252.8 740.4L1253.0 740.4L1253.3 739.6L1253.5 738.6L1253.8 736.5L1254.1 737.1L1254.3 735.3L1254.6 734.3L1254.8 733.4L1255.1 732.4L1255.4 731.9L1255.6 730.1L1255.9 729.4L1256.1 729.2L1256.4 728.2L1256.7 727.0L1256.9 725.9L1257.2 724.7L1257.5 724.0L1257.7 723.5L1258.0 721.3L1258.3 721.7L1258.6 720.4L1258.9 718.9L1259.1 718.7L1259.4 716.6L1259.7 715.6L1260.0 714.9L1260.3 714.5L1260.6 713.6L1261.0 712.6L1261.3 712.0L1261.6 709.7L1261.9 710.1L1262.3 707.9L1262.6 707.2L1263.0 706.2L1263.3 704.7L1263.7 703.5L1264.0 702.6L1264.4 702.1L1264.8 701.4L1265.2 700.4L1265.5 698.6L1265.9 697.7L1266.4 696.7L1266.8 696.5L1267.2 694.2L1267.6 695.0L1268.1 693.0L1268.6 691.8L1269.0 691.4L1269.5 691.0L1270.0 689.9L1270.6 689.8L1271.1 688.8L1271.7 688.9L1272.4 688.5L1273.0 687.2L1273.7 687.4L1274.4 686.1L1275.1 685.3L1275.8 684.0L1276.5 683.5L1277.2 683.2L1278.0 681.3L1278.7 681.6L1279.4 680.8L1280.1 680.1L1280.8 678.1L1281.5 678.6L1282.2 678.3L1282.9 676.8L1283.6 676.5L1284.3 674.4L1285.0 675.4L1285.7 673.9L1286.4 674.0L1287.1 671.8L1287.8 672.5L1288.4 671.4L1289.0 671.3L1289.6 669.7L1290.2 669.2L1290.7 670.1L1291.2 667.7L1291.6 667.1L1292.1 666.5L1292.6 665.3L1293.0 665.7L1293.5 665.0L1293.9 662.6L1294.3 661.0L1294.7 661.6L1295.1 660.6L1295.5 659.5L1295.9 658.8L1296.3 656.8L1296.6 656.3L1297.0 654.7L1297.3 653.6L1297.7 653.9L1298.0 651.9L1298.3 652.5L1298.6 650.2L1298.9 648.6L1299.2 648.2L1299.5 647.6L1299.7 645.7L1300.0 643.6L1300.2 643.3L1300.5 642.8L1300.7 640.8L1301.0 639.8L1301.2 640.0L1301.4 638.8L1301.7 637.4L1301.9 637.1L1302.1 636.2L1302.3 636.1L1302.6 635.2L1302.8 635.0L1303.0 633.9L1303.2 631.9L1303.4 632.1L1303.7 631.4L1303.9 630.1L1304.1 629.3L1304.4 627.3L1304.6 625.9L1304.8 625.7L1305.1 623.5L1305.3 621.7L1305.5 622.4L1305.8 620.5L1306.0 619.9L1306.2 618.6L1306.4 617.8L1306.7 617.1L1306.9 616.7L1307.1 616.2L1307.3 613.8L1307.6 614.4L1307.8 612.3L1308.0 611.3L1308.2 611.2L1308.5 609.7L1308.7 607.8L1308.9 608.6L1309.1 606.1L1309.4 605.6L1309.6 604.5L1309.8 604.1L1310.1 602.1L1310.3 601.9L1310.5 600.1L1310.7 600.3L1311.0 598.5L1311.2 598.0L1311.4 598.5L1311.7 596.9L1311.9 595.9L1312.1 596.2L1312.4 594.2L1312.6 592.5L1312.8 592.2L1313.0 590.0L1313.3 590.1L1313.5 588.9L1313.7 586.7L1314.0 585.4L1314.2 584.7L1314.5 583.6L1314.7 582.0L1314.9 581.8L1315.2 579.5L1315.4 579.4L1315.6 578.5L1315.9 577.7L1316.1 577.0L1316.3 575.2L1316.6 575.2L1316.8 573.8L1317.0 572.5L1317.3 571.0L1317.5 569.8L1317.8 569.4L1318.0 567.4L1318.3 566.7L1318.5 566.0L1318.8 564.9L1319.1 564.2L1319.3 562.2L1319.6 560.8L1319.9 561.0L1320.1 559.8L1320.4 559.4L1320.7 558.0L1321.0 557.9L1321.3 556.8L1321.6 555.9L1322.0 555.0L1322.3 554.2L1322.7 553.4L1323.2 552.8L1323.7 552.5L1324.4 550.9L1325.1 551.5L1325.8 549.9L1326.6 550.2L1327.3 549.6L1328.0 549.8L1328.8 551.7L1329.6 551.2L1330.4 551.6L1331.1 552.9L1331.8 554.1L1332.3 556.3L1332.7 556.1L1333.1 557.3L1333.5 557.1L1333.9 558.7L1334.3 559.7L1334.6 561.1L1334.9 560.4L1335.2 561.8L1335.5 562.3L1335.7 562.3L1336.0 563.6L1336.2 564.3L1336.4 564.1L1336.6 566.6L1336.8 567.6L1337.0 568.2L1337.1 568.8L1337.3 571.5L1337.5 571.9L1337.6 573.5L1337.7 574.7L1337.9 574.6L1338.0 576.1L1338.2 576.2L1338.3 577.0L1338.4 577.7L1338.6 578.5L1338.7 580.0L1338.8 580.4L1339.0 581.3L1339.2 582.5L1339.3 584.1L1339.5 584.6L1339.7 586.1L1339.9 587.5L1340.0 588.3L1340.2 589.6L1340.4 590.2L1340.6 592.5L1340.7 593.0L1340.9 593.4L1341.1 594.1L1341.2 596.2L1341.4 596.0L1341.5 596.5L1341.6 597.4L1341.8 598.0L1341.9 599.3L1342.0 599.2L1342.1 601.2L1342.2 600.5L1342.3 602.5L1342.4 602.7L1342.4 605.5L1342.5 605.6L1342.6 607.0L1342.7 608.7L1342.8 610.0L1342.9 609.6L1342.9 610.8L1343.0 611.0L1343.1 612.6L1343.1 613.4L1343.2 614.2L1343.3 615.0L1343.4 616.3L1343.4 617.3L1343.5 619.1L1343.6 620.8L1343.6 620.1L1343.7 622.2L1343.7 623.2L1343.8 624.9L1343.9 625.3L1343.9 627.0L1344.0 627.7L1344.1 629.8L1344.1 630.5L1344.2 631.4L1344.2 632.8L1344.3 633.4L1344.4 633.7L1344.4 635.8L1344.5 636.7L1344.6 637.4L1344.7 639.1L1344.7 640.3L1344.8 640.1L1344.9 641.3L1344.9 643.6L1345.0 644.4L1345.1 644.0L1345.2 644.5L1345.3 645.6L1345.4 646.4L1345.4 646.5L1345.5 648.2L1345.6 648.3L1345.7 649.2L1345.8 651.3L1345.9 651.4L1346.0 652.8L1346.1 654.3L1346.2 655.4L1346.3 655.8L1346.3 657.0L1346.4 657.6L1346.5 660.0L1346.6 660.4L1346.7 660.6L1346.8 662.3L1346.9 663.9L1347.0 665.0L1347.1 667.0L1347.2 668.1L1347.3 668.3L1347.4 669.7L1347.5 670.2L1347.6 672.2L1347.7 673.2L1347.8 675.5L1347.9 675.1L1348.0 674.8L1348.1 676.4L1348.2 677.8L1348.3 677.9L1348.4 679.0L1348.5 680.2L1348.6 681.6L1348.7 682.3L1348.8 682.9L1348.9 684.9L1349.0 685.3L1349.2 686.5L1349.3 687.2L1349.4 688.8L1349.5 690.7L1349.6 690.5L1349.7 692.3L1349.8 693.7L1349.9 693.9L1350.0 695.1L1350.2 695.2L1350.3 697.3L1350.4 698.1L1350.5 698.4L1350.6 698.2L1350.7 699.4L1350.9 701.3L1351.0 702.5L1351.1 702.5L1351.2 703.8L1351.4 703.7L1351.5 704.8L1351.6 705.7L1351.7 706.8L1351.9 706.7L1352.0 709.0L1352.1 710.3L1352.3 710.1L1352.4 711.1L1352.5 713.2L1352.6 713.8L1352.8 714.1L1352.9 717.1L1353.0 718.0L1353.2 718.9L1353.3 721.6L1353.4 721.7L1353.6 722.3L1353.7 723.9L1353.8 724.3L1354.0 725.5L1354.1 727.1L1354.2 727.5L1354.4 728.5L1354.5 730.6L1354.6 731.0L1354.7 731.8L1354.9 732.4L1355.0 733.2L1355.1 734.5L1355.3 734.4L1355.4 736.1L1355.5 735.2L1355.6 736.3L1355.8 736.5L1355.9 738.0L1356.0 739.5L1356.1 741.3L1356.3 741.4L1356.4 743.2L1356.5 744.5L1356.7 745.7L1356.8 746.8L1356.9 748.8L1357.0 749.0L1357.2 751.1L1357.3 752.1L1357.4 752.6L1357.6 753.3L1357.7 754.0L1357.8 756.6L1357.9 755.6L1358.1 758.0L1358.2 758.3L1358.3 758.6L1358.5 758.9L1358.6 761.0L1358.7 762.2L1358.8 761.7L1359.0 763.0L1359.1 764.7L1359.2 765.3L1359.3 767.2L1359.5 766.7L1359.6 768.3L1359.7 768.3L1359.8 771.1L1359.9 770.6L1360.1 770.9L1360.2 773.2L1360.3 774.3L1360.4 776.5L1360.5 776.3L1360.7 777.5L1360.8 778.8L1360.9 780.3L1361.0 780.2L1361.1 781.6L1361.2 782.1L1361.3 782.4L1361.4 783.5L1361.5 784.4L1361.6 784.9L1361.7 787.2L1361.8 786.9L1361.9 789.6L1362.0 790.7L1362.1 791.3L1362.2 792.2L1362.3 793.7L1362.4 795.2L1362.5 796.6L1362.6 797.5L1362.7 799.0L1362.8 799.2L1362.9 800.8L1363.0 801.0L1363.1 803.4L1363.2 804.1L1363.3 804.8L1363.4 806.6L1363.4 807.3L1363.5 806.3L1363.6 808.8L1363.7 809.0L1363.8 811.4L1363.9 813.2L1364.0 812.5L1364.1 813.9L1364.2 814.7L1364.3 816.0L1364.4 817.1L1364.5 818.3L1364.6 817.8L1364.7 819.8L1364.8 819.0L1364.9 820.3L1365.0 821.4L1365.1 821.8L1365.2 821.6L1365.3 822.5L1365.4 823.6L1365.5 824.8L1365.6 826.7L1365.7 826.6L1365.8 828.9L1366.0 830.3L1366.1 831.4L1366.2 832.5L1366.3 834.2L1366.4 834.6L1366.6 835.8L1366.7 836.4L1366.8 837.9L1366.9 836.6L1367.1 839.1L1367.2 839.0L1367.3 839.8L1367.5 840.2L1367.6 840.7L1367.7 842.5L1367.9 843.4L1368.0 845.2L1368.1 845.3L1368.3 848.2L1368.4 848.8L1368.5 849.7L1368.7 850.5L1368.8 851.4L1369.0 852.1L1369.1 853.3L1369.2 854.5L1369.4 855.2L1369.5 855.4L1369.7 857.0L1369.8 857.7L1370.0 859.5L1370.1 861.8L1370.3 862.4L1370.4 863.1L1370.6 863.6L1370.7 864.8L1370.8 865.7L1371.0 867.9L1371.1 868.0L1371.3 869.2L1371.4 869.6L1371.6 870.8L1371.7 872.5L1371.8 872.3L1372.0 873.6L1372.1 874.6L1372.3 876.8L1372.4 876.9L1372.6 877.9L1372.7 878.8L1372.9 879.8L1373.0 881.8L1373.2 883.9L1373.4 882.8L1373.5 884.8L1373.7 885.3L1373.9 885.4L1374.0 886.8L1374.2 887.8L1374.4 888.5L1374.6 890.8L1374.8 889.6L1375.0 891.8L1375.2 892.7L1375.4 893.2L1375.6 894.7L1375.8 896.2L1376.0 897.0L1376.3 898.3L1376.5 899.4L1376.8 898.8L1377.0 901.5L1377.3 902.7L1377.6 902.6L1377.9 903.3L1378.2 902.6L1378.6 904.0L1378.9 904.4L1379.2 905.4L1379.6 907.2L1379.9 907.3L1380.3 908.9L1380.7 909.2L1381.0 911.4L1381.4 912.7L1381.8 913.3L1382.1 914.3L1382.5 916.7L1382.9 915.9L1383.2 916.8L1383.6 917.7L1384.0 919.6L1384.3 920.9L1384.7 920.8L1385.0 921.2L1385.4 922.5L1385.8 924.4L1386.1 924.5L1386.5 927.0L1386.9 928.2L1387.2 928.7L1387.6 930.1L1388.0 931.2L1388.4 932.6L1388.8 932.0L1389.2 933.9L1389.7 933.7L1390.1 934.1L1390.6 935.2L1391.1 935.6L1391.6 935.8L1392.1 936.2L1392.7 937.3L1393.2 939.4L1393.8 940.6L1394.4 940.8L1395.0 942.1L1395.7 942.2L1396.3 943.4L1397.0 944.5L1397.7 944.5L1398.4 945.2L1399.1 946.3L1399.9 946.5L1400.7 946.4L1401.5 947.4L1402.3 947.3L1403.2 948.1L1404.2 947.7L1405.1 947.7L1406.1 948.1L1407.1 948.2L1408.1 948.3L1409.0 948.8L1410.0 949.8L1411.0 949.9L1412.0 950.5L1413.0 949.0L1414.0 950.0L1415.0 950.3L1416.0 950.9L1417.0 950.8" stroke="#ff00ff" stroke-width="10" fill="none" stroke-linejoin="round" stroke-linecap="round"/>
<path d="M17.0 1252.8L18.0 1252.1L19.0 1251.7L20.0 1253.5L21.0 1252.9L22.0 1251.8L23.0 1252.6L24.0 1251.3L25.0 1250.9L26.0 1251.4L27.0 1251.2L28.0 1250.9L29.0 1251.4L30.0 1251.2L31.0 1252.0L32.0 1252.2L33.0 1252.7L34.0 1252.1L35.0 1251.6L36.0 1251.5L37.0 1252.0L38.0 1252.8L39.0 1252.2L40.0 1251.2L41.0 1251.8L42.0 1250.5L43.0 1251.6L44.0 1250.8L45.0 1251.4L46.0 1251.3L47.0 1250.7L48.0 1250.9L49.0 1250.0L50.0 1250.3L51.0 1250.7L52.0 1252.1L53.0 1250.0L54.0 1249.5L55.0 1248.8L56.0 1249.9L57.0 1248.5L58.0 1249.1L59.0 1250.0L60.0 1249.4L61.0 1251.2L62.0 1251.4L63.0 1250.8L64.0 1251.2L65.0 1251.2L66.0 1251.4L67.0 1252.7L68.0 1252.9L69.0 1252.8L70.0 1252.7L71.0 1252.1L72.0 1252.4L73.0 1251.2L74.0 1251.7L75.0 1252.3L76.0 1252.0L77.0 1250.8L78.0 1250.7L79.0 1251.5L80.0 1251.6L81.0 1249.6L82.0 1250.1L83.0 1250.4L84.0 1250.9L85.0 1249.8L86.0 1250.7L87.0 1250.3L88.0 1251.8L89.0 1250.7L90.0 1250.4L91.0 1250.3L92.1 1251.0L93.1 1250.8L94.1 1249.8L95.1 1250.5L96.1 1249.5L97.1 1249.7L98.1 1249.2L99.1 1248.9L100.1 1248.9L101.1 1248.4L102.1 1248.8L103.1 1248.6L104.1 1247.8L105.1 1247.3L106.1 1248.4L107.1 1247.1L108.1 1247.6L109.1 1249.5L110.1 1249.9L111.1 1250.4L112.1 1250.0L113.1 1249.5L114.1 1249.9L115.1 1250.4L116.1 1249.5L117.1 1249.3L118.1 1248.8L119.1 1248.8L120.1 1250.0L121.1 1249.9L122.1 1249.3L123.1 1249.7L124.1 1250.3L125.1 1251.3L126.1 1250.6L127.1 1251.2L128.1 1250.1L129.1 1250.5L130.1 1251.1L131.1 1251.0L132.1 1249.4L133.1 1249.1L134.1 1249.6L135.1 1248.8L136.1 1248.7L137.1 1249.4L138.1 1249.5L139.1 1250.4L140.1 1250.6L141.1 1250.2L142.1 1250.8L143.1 1251.1L144.1 1250.5L145.1 1250.7L146.1 1251.6L147.1 1249.9L148.1 1251.0L149.1 1250.2L150.1 1249.7L151.1 1249.8L152.1 1249.6L153.1 1250.0L154.1 1249.0L155.1 1249.1L156.1 1249.2L157.1 1250.4L158.1 1249.9L159.1 1248.9L160.1 1249.1L161.1 1248.8L162.1 1249.1L163.1 1249.1L164.1 1250.1L165.1 1247.8L166.1 1249.4L167.1 1249.2L168.1 1248.7L169.1 1249.2L170.1 1249.1L171.1 1249.5L172.1 1250.1L173.1 1248.8L174.1 1250.3L175.1 1249.4L176.1 1250.4L177.1 1249.8L178.1 1250.3L179.1 1250.0L180.1 1250.4L181.1 1249.9L182.1 1249.5L183.1 1250.4L184.1 1250.5L185.1 1251.3L186.1 1249.0L187.1 1250.0L188.1 1250.7L189.1 1249.3L190.1 1249.8L191.1 1251.0L192.1 1250.5L193.1 1249.1L194.1 1250.2L195.1 1249.9L196.1 1249.5L197.2 1249.1L198.2 1248.9L199.2 1248.1L200.2 1248.1L201.2 1248.7L202.2 1248.4L203.2 1249.5L204.2 1248.6L205.2 1247.7L206.2 1249.3L207.2 1250.0L208.2 1250.4L209.2 1250.5L210.2 1250.1L211.2 1251.5L212.2 1250.2L213.2 1250.7L214.2 1249.9L215.2 1249.1L216.2 1250.4L217.2 1248.0L218.2 1248.8L219.2 1249.4L220.2 1248.8L221.2 1249.3L222.2 1248.7L223.2 1248.5L224.2 1250.0L225.2 1248.8L226.2 1248.9L227.2 1248.4L228.2 1248.6L229.2 1249.4L230.2 1249.3L231.2 1249.0L232.2 1248.5L233.2 1249.1L234.2 1247.6L235.2 1248.1L236.2 1248.0L237.2 1247.6L238.2 1248.1L239.2 1247.6L240.2 1247.4L241.2 1248.7L242.2 1248.0L243.2 1248.1L244.2 1247.4L245.2 1247.8L246.2 1247.7L247.2 1248.0L248.2 1248.8L249.2 1247.4L250.2 1247.8L251.2 1247.7L252.2 1245.9L253.2 1247.1L254.2 1248.0L255.2 1248.4L256.2 1247.8L257.2 1248.8L258.2 1248.9L259.2 1248.0L260.2 1249.0L261.2 1249.1L262.2 1248.5L263.2 1247.7L264.2 1249.1L265.2 1248.2L266.2 1248.2L267.2 1248.6L268.2 1248.4L269.2 1249.5L270.2 1249.5L271.2 1249.9L272.2 1249.5L273.2 1248.7L274.2 1248.9L275.2 1249.3L276.2 1248.5L277.2 1250.2L278.2 1248.3L279.2 1248.0L280.2 1248.8L281.2 1248.4L282.2 1247.7L283.2 1247.5L284.2 1247.6L285.2 1247.7L286.2 1247.5L287.2 1246.9L288.2 1247.3L289.2 1247.6L290.2 1247.7L291.2 1245.8L292.2 1247.3L293.2 1247.6L294.2 1248.2L295.2 1248.7L296.2 1249.4L297.2 1249.5L298.2 1249.3L299.2 1249.6L300.2 1250.6L301.2 1249.4L302.2 1249.8L303.2 1250.4L304.2 1249.6L305.2 1248.0L306.2 1249.0L307.3 1248.3L308.3 1248.1L309.3 1248.6L310.3 1248.2L311.3 1247.8L312.3 1248.4L313.3 1248.2L314.3 1248.0L315.3 1248.1L316.3 1248.0L317.3 1247.6L318.3 1247.4L319.3 1247.5L320.3 1246.7L321.3 1246.4L322.3 1247.6L323.3 1246.7L324.3 1246.7L325.3 1246.6L326.3 1246.7L327.3 1246.7L328.3 1246.7L329.3 1246.2L330.3 1247.1L331.3 1246.2L332.3 1247.1L333.3 1245.4L334.3 1245.8L335.3 1246.9L336.3 1246.3L337.3 1246.1L338.3 1246.8L339.3 1246.2L340.3 1247.0L341.3 1245.9L342.3 1247.1L343.3 1247.2L344.3 1248.0L345.3 1248.4L346.3 1247.5L347.3 1248.9L348.3 1247.7L349.3 1246.8L350.3 1246.5L351.3 1248.4L352.3 1247.4L353.3 1246.8L354.3 1246.5L355.3 1246.0L356.3 1247.1L357.3 1246.0L358.3 1246.8L359.3 1245.6L360.3 1244.3L361.3 1246.1L362.2 1245.4L363.2 1245.6L364.2 1246.6L365.2 1245.6L366.2 1246.3L367.2 1245.6L368.2 1245.0L369.2 1245.5L370.2 1244.6L371.2 1245.4L372.2 1245.0L373.2 1244.3L374.2 1244.4L375.2 1244.3L376.2 1243.8L377.2 1244.4L378.2 1243.8L379.2 1244.2L380.2 1243.3L381.2 1243.9L382.2 1244.1L383.2 1243.6L384.2 1243.9L385.2 1244.0L386.2 1244.7L387.2 1243.9L388.2 1244.4L389.2 1244.9L390.2 1244.2L391.2 1243.0L392.2 1243.9L393.2 1244.4L394.2 1243.7L395.2 1244.5L396.2 1244.3L397.2 1244.3L398.2 1244.2L399.2 1244.3L400.2 1244.6L401.2 1245.0L402.2 1245.5L403.2 1245.5L404.2 1245.2L405.2 1245.5L406.2 1245.7L407.2 1244.6L408.2 1245.1L409.2 1245.0L410.2 1245.2L411.2 1245.0L412.2 1244.9L413.2 1244.5L414.2 1245.2L415.2 1244.9L416.2 1243.8L417.2 1244.7L418.2 1244.0L419.2 1245.5L420.2 1244.1L421.2 1244.0L422.2 1244.1L423.2 1243.7L424.2 1243.7L425.2 1244.4L426.2 1243.6L427.2 1244.0L428.2 1244.2L429.2 1243.1L430.2 1244.7L431.2 1244.2L432.2 1244.4L433.2 1243.5L434.2 1244.4L435.2 1244.1L436.2 1243.5L437.2 1245.0L438.2 1244.0L439.2 1243.5L440.2 1243.6L441.2 1243.9L442.2 1243.8L443.1 1243.3L444.1 1243.4L445.1 1243.3L446.1 1241.7L447.1 1242.2L448.1 1242.0L449.1 1242.7L450.1 1243.7L451.1 1243.5L452.1 1242.8L453.1 1243.3L454.1 1244.0L455.1 1243.0L456.1 1243.1L457.1 1243.1L458.1 1241.8L459.0 1243.1L460.0 1242.8L461.0 1242.9L462.0 1242.0L463.0 1242.0L464.0 1241.9L465.0 1242.1L466.0 1241.6L467.0 1241.3L468.0 1241.8L469.0 1241.2L469.9 1239.8L470.9 1239.7L471.9 1240.9L472.9 1239.7L473.9 1240.6L474.9 1240.6L475.9 1239.3L476.9 1239.3L477.8 1239.3L478.8 1238.6L479.8 1238.3L480.8 1238.3L481.8 1238.7L482.8 1237.6L483.8 1237.4L484.8 1236.9L485.7 1236.1L486.7 1237.5L487.7 1235.2L488.7 1235.9L489.7 1236.3L490.7 1235.1L491.6 1236.0L492.6 1236.1L493.6 1234.7L494.6 1234.9L495.6 1233.8L496.6 1234.2L497.5 1233.4L498.5 1233.1L499.5 1233.3L500.5 1232.4L501.4 1232.6L502.4 1231.9L503.4 1230.6L504.4 1231.3L505.3 1231.3L506.3 1230.3L507.3 1231.9L508.2 1231.3L509.2 1231.7L510.2 1231.2L511.1 1231.8L512.1 1232.1L513.1 1231.8L514.0 1232.0L515.0 1230.6L516.0 1232.2L516.9 1230.4L517.9 1229.3L518.9 1229.5L519.8 1229.0L520.8 1229.2L521.7 1227.9L522.7 1228.1L523.7 1227.1L524.6 1228.6L525.6 1227.4L526.5 1228.0L527.5 1226.2L528.4 1226.9L529.4 1225.6L530.3 1226.1L531.3 1225.7L532.2 1223.9L533.2 1223.7L534.1 1223.2L535.0 1222.6L536.0 1222.5L536.9 1222.0L537.9 1221.3L538.8 1221.8L539.7 1221.7L540.6 1220.4L541.6 1220.4L542.5 1220.4L543.4 1220.0L544.3 1219.4L545.2 1220.0L546.2 1219.8L547.1 1219.6L548.0 1218.9L548.9 1219.8L549.8 1219.3L550.8 1217.6L551.7 1217.2L552.6 1217.4L553.5 1215.8L554.5 1216.1L555.4 1215.7L556.3 1215.2L557.3 1215.4L558.2 1214.8L559.1 1215.4L560.1 1214.7L561.0 1217.0L562.0 1216.4L562.9 1215.9L563.9 1214.9L564.9 1214.6L565.8 1214.0L566.8 1213.1L567.8 1212.4L568.7 1210.9L569.7 1211.2L570.7 1210.3L571.6 1209.6L572.6 1209.4L573.6 1210.0L574.6 1210.1L575.5 1208.5L576.5 1209.9L577.5 1209.4L578.5 1208.0L579.5 1207.6L580.5 1207.5L581.4 1207.8L582.4 1206.7L583.4 1206.1L584.4 1206.8L585.4 1205.4L586.4 1206.6L587.4 1207.2L588.3 1206.7L589.3 1207.0L590.3 1206.7L591.3 1206.7L592.3 1206.2L593.3 1205.5L594.3 1205.6L595.2 1205.3L596.2 1205.7L597.2 1205.6L598.2 1204.7L599.2 1203.8L600.2 1203.8L601.2 1204.1L602.2 1205.0L603.2 1204.5L604.2 1204.4L605.2 1204.1L606.2 1205.1L607.2 1204.7L608.2 1204.5L609.1 1204.5L610.1 1205.3L611.1 1204.1L612.1 1205.0L613.1 1204.7L614.1 1204.0L615.1 1204.4L616.1 1203.7L617.1 1203.3L618.1 1203.5L619.1 1203.0L620.0 1203.6L621.0 1203.2L622.0 1203.3L623.0 1203.2L624.0 1200.8L625.0 1202.5L626.0 1201.1L626.9 1201.9L627.9 1201.1L628.9 1201.4L629.9 1201.9L630.9 1200.1L631.9 1201.0L632.8 1200.7L633.8 1199.5L634.8 1200.8L635.8 1200.3L636.8 1199.8L637.8 1199.5L638.8 1201.4L639.7 1199.2L640.7 1198.1L641.7 1198.3L642.7 1198.3L643.7 1198.0L644.7 1197.8L645.7 1197.0L646.6 1197.5L647.6 1196.5L648.6 1195.7L649.6 1195.6L650.6 1195.6L651.6 1196.1L652.6 1195.9L653.6 1195.6L654.6 1196.0L655.5 1196.3L656.5 1197.5L657.5 1196.3L658.5 1197.0L659.5 1197.1L660.5 1196.2L661.5 1196.7L662.5 1196.4L663.5 1195.8L664.5 1196.1L665.4 1196.1L666.4 1195.9L667.4 1195.0L668.4 1195.0L669.4 1196.0L670.4 1193.9L671.4 1194.4L672.4 1194.6L673.4 1193.9L674.4 1193.9L675.4 1193.4L676.4 1193.5L677.3 1193.6L678.3 1192.7L679.3 1192.8L680.3 1192.5L681.3 1192.2L682.3 1192.3L683.3 1191.6L684.3 1192.4L685.3 1192.8L686.3 1192.7L687.3 1192.3L688.3 1191.0L689.3 1192.2L690.3 1190.9L691.2 1191.3L692.2 1192.3L693.2 1190.6L694.2 1191.6L695.2 1191.1L696.2 1190.8L697.2 1190.2L698.2 1190.9L699.2 1190.4L700.2 1191.2L701.2 1191.4L702.2 1190.0L703.2 1190.6L704.2 1190.8L705.2 1190.3L706.2 1190.4L707.2 1190.9L708.2 1190.6L709.2 1189.6L710.2 1190.0L711.2 1190.3L712.2 1189.2L713.2 1189.1L714.2 1190.4L715.2 1190.1L716.2 1188.5L717.2 1188.8L718.2 1189.9L719.2 1189.2L720.2 1189.8L721.2 1189.8L722.2 1190.4L723.2 1188.8L724.2 1188.9L725.2 1189.4L726.2 1190.5L727.2 1189.7L728.2 1188.7L729.2 1189.8L730.2 1189.7L731.2 1189.1L732.2 1189.0L733.2 1189.4L734.2 1189.9L735.2 1189.4L736.2 1189.7L737.2 1189.5L738.2 1189.5L739.2 1189.4L740.2 1190.1L741.2 1189.9L742.2 1189.9L743.3 1190.5L744.3 1190.2L745.3 1190.4L746.3 1189.0L747.3 1190.2L748.3 1189.7L749.3 1189.7L750.3 1189.9L751.3 1191.1L752.3 1191.0L753.3 1190.2L754.3 1189.9L755.3 1190.3L756.3 1189.8L757.2 1190.6L758.2 1188.5L759.2 1187.8L760.2 1188.3L761.2 1188.1L762.2 1188.0L763.2 1188.2L764.2 1188.9L765.2 1187.7L766.2 1187.6L767.2 1187.0L768.2 1188.1L769.2 1188.4L770.2 1187.7L771.2 1188.4L772.2 1187.6L773.2 1188.3L774.2 1187.5L775.1 1186.7L776.1 1186.9L777.1 1186.5L778.1 1186.6L779.1 1187.9L780.1 1188.5L781.1 1189.2L782.1 1188.1L783.1 1187.9L784.0 1187.1L785.0 1187.9L786.0 1187.1L787.0 1186.1L788.0 1186.2L789.0 1185.6L790.0 1183.8L790.9 1184.8L791.9 1184.1L792.9 1183.6L793.9 1183.4L794.9 1184.4L795.9 1184.1L796.8 1184.0L797.8 1182.2L798.8 1182.3L799.8 1182.9L800.8 1181.6L801.8 1181.7L802.7 1181.0L803.7 1182.9L804.7 1182.4L805.7 1181.9L806.7 1181.6L807.6 1181.0L808.6 1180.8L809.6 1181.1L810.6 1180.0L811.5 1180.8L812.5 1179.5L813.5 1179.1L814.5 1180.0L815.4 1179.0L816.4 1179.2L817.4 1178.5L818.3 1177.5L819.3 1179.0L820.2 1178.0L821.2 1179.3L822.2 1177.8L823.1 1177.5L824.1 1178.5L825.0 1178.1L826.0 1177.4L826.9 1176.0L827.8 1176.5L828.8 1174.5L829.7 1174.3L830.6 1173.5L831.6 1173.3L832.5 1173.7L833.4 1172.7L834.4 1173.2L835.3 1173.2L836.2 1171.8L837.2 1171.9L838.1 1172.1L839.0 1171.8L839.9 1172.0L840.9 1170.5L841.8 1171.6L842.7 1171.2L843.7 1170.2L844.6 1169.1L845.5 1169.4L846.5 1168.6L847.4 1168.8L848.4 1168.0L849.3 1168.1L850.3 1167.1L851.2 1167.9L852.2 1165.6L853.1 1166.0L854.1 1166.6L855.1 1165.2L856.0 1165.9L857.0 1164.3L858.0 1164.4L858.9 1163.2L859.9 1162.9L860.9 1162.8L861.8 1162.2L862.8 1161.7L863.8 1162.8L864.8 1161.4L865.7 1160.7L866.7 1161.6L867.7 1161.4L868.7 1161.5L869.7 1161.8L870.7 1160.2L871.6 1161.4L872.6 1161.6L873.6 1161.2L874.6 1161.6L875.6 1160.0L876.5 1161.4L877.5 1162.7L878.5 1160.6L879.5 1161.0L880.5 1161.1L881.4 1160.9L882.4 1161.2L883.4 1159.0L884.4 1159.7L885.3 1160.0L886.3 1158.5L887.3 1159.0L888.3 1159.8L889.2 1159.3L890.2 1158.6L891.2 1156.5L892.2 1157.7L893.1 1157.8L894.1 1157.3L895.1 1157.3L896.1 1158.9L897.0 1157.0L898.0 1156.3L899.0 1156.6L900.0 1155.8L900.9 1155.2L901.9 1154.7L902.9 1154.6L903.9 1153.7L904.8 1152.5L905.8 1152.9L906.8 1153.1L907.8 1152.6L908.7 1153.6L909.7 1153.5L910.7 1152.6L911.7 1153.3L912.7 1154.2L913.6 1153.8L914.6 1152.8L915.6 1153.1L916.6 1152.0L917.6 1151.4L918.6 1152.3L919.6 1151.8L920.5 1151.7L921.5 1151.1L922.5 1151.0L923.5 1150.2L924.5 1150.4L925.5 1150.3L926.5 1149.4L927.5 1149.6L928.5 1147.9L929.5 1148.1L930.5 1149.0L931.5 1148.8L932.4 1147.7L933.4 1147.2L934.4 1146.3L935.4 1147.1L936.4 1147.3L937.4 1146.2L938.4 1147.6L939.4 1148.0L940.3 1148.3L941.3 1147.9L942.3 1149.1L943.3 1148.2L944.2 1149.8L945.2 1148.9L946.2 1147.8L947.2 1148.7L948.1 1148.0L949.1 1146.4L950.1 1147.4L951.0 1145.1L952.0 1145.4L952.9 1145.6L953.9 1143.4L954.9 1144.9L955.8 1144.1L956.8 1143.9L957.7 1143.1L958.7 1143.7L959.7 1142.7L960.6 1142.5L961.6 1142.5L962.5 1141.9L963.5 1143.2L964.4 1141.3L965.4 1141.4L966.3 1141.3L967.3 1141.1L968.2 1141.2L969.2 1140.8L970.1 1139.8L971.1 1139.3L972.0 1139.1L973.0 1139.0L973.9 1138.5L974.9 1137.3L975.8 1136.0L976.8 1137.9L977.7 1136.9L978.7 1136.2L979.6 1135.9L980.6 1135.1L981.5 1134.6L982.5 1134.8L983.4 1134.7L984.4 1134.3L985.3 1133.7L986.2 1134.1L987.2 1134.3L988.1 1133.4L989.1 1133.3L990.0 1131.9L990.9 1132.7L991.9 1132.6L992.8 1131.7L993.8 1131.2L994.7 1132.1L995.6 1131.0L996.6 1131.3L997.5 1130.2L998.4 1130.2L999.4 1129.0L1000.3 1127.6L1001.2 1127.7L1002.2 1127.0L1003.1 1127.1L1004.0 1126.1L1005.0 1125.9L1005.9 1126.4L1006.8 1126.3L1007.8 1125.8L1008.7 1125.6L1009.6 1124.9L1010.6 1124.7L1011.5 1124.3L1012.4 1123.6L1013.4 1123.0L1014.3 1122.7L1015.2 1123.7L1016.2 1122.2L1017.1 1121.8L1018.0 1121.5L1019.0 1121.3L1019.9 1121.1L1020.8 1119.8L1021.7 1118.8L1022.7 1119.5L1023.6 1117.8L1024.5 1118.3L1025.4 1117.8L1026.4 1117.9L1027.3 1117.8L1028.2 1116.6L1029.1 1115.7L1030.0 1114.9L1030.9 1114.7L1031.8 1114.8L1032.7 1113.2L1033.6 1113.9L1034.5 1113.4L1035.4 1113.3L1036.2 1112.3L1037.1 1112.2L1038.0 1111.4L1038.9 1111.2L1039.7 1110.1L1040.6 1110.8L1041.5 1111.1L1042.3 1109.8L1043.2 1109.3L1044.1 1107.9L1044.9 1108.5L1045.8 1106.6L1046.6 1106.6L1047.5 1105.4L1048.3 1104.0L1049.2 1104.4L1050.0 1103.2L1050.9 1102.8L1051.7 1102.5L1052.5 1101.8L1053.4 1101.2L1054.2 1101.3L1055.0 1100.4L1055.9 1100.3L1056.7 1099.5L1057.5 1098.6L1058.3 1098.7L1059.2 1098.4L1060.0 1098.2L1060.8 1098.4L1061.6 1096.3L1062.4 1096.8L1063.2 1095.0L1064.1 1095.0L1064.9 1094.6L1065.7 1093.0L1066.5 1092.6L1067.3 1093.1L1068.1 1092.5L1068.9 1091.8L1069.6 1090.9L1070.4 1091.8L1071.2 1089.9L1072.0 1088.8L1072.8 1089.4L1073.6 1088.0L1074.3 1086.6L1075.1 1086.7L1075.9 1085.3L1076.6 1084.9L1077.4 1084.0L1078.2 1082.8L1078.9 1083.4L1079.7 1082.5L1080.4 1081.4L1081.2 1081.0L1082.0 1081.4L1082.7 1080.0L1083.5 1079.6L1084.2 1079.2L1085.0 1078.2L1085.7 1076.5L1086.5 1076.9L1087.2 1076.3L1088.0 1075.4L1088.7 1075.0L1089.5 1073.6L1090.2 1073.1L1091.0 1072.9L1091.7 1071.2L1092.5 1071.6L1093.3 1070.9L1094.0 1069.7L1094.8 1069.5L1095.5 1068.3L1096.3 1066.6L1097.0 1067.1L1097.8 1066.1L1098.6 1065.8L1099.3 1065.2L1100.1 1065.6L1100.9 1064.8L1101.6 1063.9L1102.4 1064.2L1103.2 1064.0L1103.9 1062.7L1104.7 1062.4L1105.5 1061.8L1106.2 1061.1L1107.0 1060.9L1107.8 1060.4L1108.5 1060.0L1109.3 1058.6L1110.1 1057.6L1110.8 1056.6L1111.6 1055.8L1112.4 1053.9L1113.2 1053.7L1113.9 1052.8L1114.7 1051.9L1115.4 1051.3L1116.2 1050.9L1117.0 1050.8L1117.7 1049.9L1118.5 1050.5L1119.3 1049.7L1120.0 1049.2L1120.8 1048.7L1121.5 1048.3L1122.3 1046.9L1123.1 1046.4L1123.8 1044.9L1124.6 1043.7L1125.3 1043.1L1126.1 1044.2L1126.8 1041.6L1127.6 1042.2L1128.3 1042.0L1129.1 1040.3L1129.8 1040.8L1130.5 1040.3L1131.3 1039.2L1132.0 1039.3L1132.8 1037.5L1133.5 1036.0L1134.2 1035.8L1135.0 1034.4L1135.7 1033.1L1136.5 1032.4L1137.2 1033.7L1137.9 1031.5L1138.7 1031.3L1139.4 1030.5L1140.1 1030.6L1140.9 1029.9L1141.6 1029.3L1142.3 1028.4L1143.0 1027.8L1143.8 1027.6L1144.5 1027.6L1145.2 1028.0L1145.9 1026.8L1146.7 1026.6L1147.4 1025.1L1148.1 1024.0L1148.8 1022.4L1149.6 1022.1L1150.3 1019.8L1151.0 1019.7L1151.7 1019.7L1152.4 1017.9L1153.1 1017.4L1153.9 1015.6L1154.6 1014.3L1155.3 1014.1L1156.0 1013.5L1156.7 1013.9L1157.4 1013.8L1158.1 1011.7L1158.8 1011.4L1159.5 1010.9L1160.3 1010.2L1161.0 1009.0L1161.7 1009.0L1162.4 1008.4L1163.1 1007.7L1163.8 1006.0L1164.5 1005.9L1165.2 1004.3L1165.9 1005.1L1166.5 1003.3L1167.2 1003.1L1167.9 1002.3L1168.6 1001.5L1169.3 1000.5L1170.0 999.3L1170.7 1000.4L1171.4 998.8L1172.1 998.0L1172.7 998.2L1173.4 996.2L1174.1 995.7L1174.8 994.6L1175.5 994.5L1176.2 993.4L1176.9 992.5L1177.5 991.5L1178.2 991.1L1178.9 990.9L1179.6 988.5L1180.3 989.0L1181.0 988.3L1181.6 987.8L1182.3 986.4L1183.0 987.4L1183.7 986.0L1184.4 985.8L1185.1 985.0L1185.8 983.8L1186.4 983.8L1187.1 982.3L1187.8 982.1L1188.5 981.6L1189.2 981.0L1189.9 980.2L1190.6 979.1L1191.3 979.3L1192.0 977.3L1192.6 975.3L1193.3 974.7L1194.0 973.9L1194.7 973.4L1195.4 972.4L1196.1 971.7L1196.8 972.4L1197.5 970.9L1198.2 970.1L1198.9 969.5L1199.5 968.9L1200.2 969.1L1200.9 967.9L1201.6 967.4L1202.3 964.2L1203.0 965.3L1203.7 964.9L1204.4 964.8L1205.1 963.2L1205.8 961.8L1206.5 962.7L1207.2 961.7L1207.9 960.7L1208.6 961.0L1209.2 961.6L1209.9 961.2L1210.6 960.3L1211.3 958.5L1212.0 959.5L1212.7 956.4L1213.4 955.9L1214.1 954.2L1214.8 954.8L1215.5 953.5L1216.3 953.0L1217.0 951.9L1217.7 951.2L1218.4 950.8L1219.1 949.2L1219.8 950.2L1220.5 949.6L1221.2 948.2L1221.9 947.7L1222.6 947.1L1223.3 947.0L1224.0 945.6L1224.8 944.5L1225.5 943.3L1226.2 941.9L1226.9 941.6L1227.6 941.1L1228.3 940.2L1229.0 939.7L1229.7 939.5L1230.4 938.8L1231.1 938.2L1231.8 937.9L1232.6 937.1L1233.3 936.4L1234.0 936.0L1234.7 934.1L1235.4 935.0L1236.1 932.7L1236.8 933.0L1237.5 931.7L1238.2 931.4L1238.9 929.9L1239.6 928.4L1240.3 928.7L1241.0 927.3L1241.7 926.3L1242.4 925.4L1243.1 925.1L1243.8 924.2L1244.5 923.1L1245.3 921.4L1246.0 921.4L1246.7 921.1L1247.4 921.5L1248.2 920.3L1248.9 919.5L1249.6 919.7L1250.4 918.4L1251.1 917.8L1251.8 917.2L1252.6 915.6L1253.3 916.3L1254.1 915.4L1254.8 914.4L1255.6 913.3L1256.3 913.5L1257.1 913.6L1257.8 911.9L1258.6 911.0L1259.3 911.2L1260.1 909.5L1260.8 908.6L1261.6 909.0L1262.4 908.4L1263.2 908.1L1263.9 907.5L1264.7 907.4L1265.5 906.6L1266.3 905.7L1267.1 905.1L1267.9 905.0L1268.7 904.5L1269.4 903.8L1270.2 903.0L1271.1 900.1L1271.9 900.8L1272.7 900.6L1273.5 900.4L1274.3 898.8L1275.1 899.9L1275.9 898.6L1276.8 897.4L1277.6 897.1L1278.4 896.1L1279.3 895.0L1280.1 895.0L1281.0 893.7L1281.8 892.5L1282.7 892.3L1283.6 892.0L1284.4 890.9L1285.3 891.8L1286.2 890.1L1287.1 891.3L1288.0 890.5L1288.9 889.1L1289.8 889.2L1290.7 889.3L1291.6 888.1L1292.5 887.1L1293.4 887.4L1294.3 888.0L1295.2 885.8L1296.2 886.7L1297.1 886.1L1298.0 885.8L1298.9 885.4L1299.8 885.2L1300.7 885.6L1301.6 884.9L1302.5 883.4L1303.4 884.3L1304.3 882.1L1305.2 882.5L1306.1 881.7L1307.0 881.8L1307.9 880.8L1308.8 880.8L1309.7 879.8L1310.6 880.1L1311.6 879.5L1312.5 880.3L1313.4 878.4L1314.3 879.2L1315.2 878.5L1316.2 878.0L1317.1 877.2L1318.0 877.4L1319.0 876.0L1319.9 875.7L1320.9 876.5L1321.8 875.0L1322.8 876.3L1323.7 875.1L1324.7 875.2L1325.7 874.8L1326.6 874.8L1327.6 874.2L1328.6 873.8L1329.6 873.7L1330.6 874.0L1331.6 873.8L1332.6 873.5L1333.5 872.7L1334.5 872.1L1335.5 870.9L1336.5 871.9L1337.5 871.8L1338.5 870.9L1339.5 871.4L1340.5 871.5L1341.5 870.8L1342.5 871.3L1343.5 870.9L1344.4 869.8L1345.4 870.6L1346.4 870.7L1347.4 871.5L1348.4 871.0L1349.4 871.6L1350.4 871.7L1351.4 872.6L1352.4 873.0L1353.4 873.9L1354.4 874.2L1355.4 874.2L1356.4 874.5L1357.4 874.6L1358.4 874.7L1359.3 875.5L1360.3 873.1L1361.3 874.2L1362.3 874.2L1363.3 874.5L1364.3 873.0L1365.3 873.6L1366.3 873.6L1367.3 872.7L1368.3 871.8L1369.3 872.7L1370.3 872.3L1371.4 873.5L1372.4 872.9L1373.4 874.6L1374.4 873.9L1375.4 873.5L1376.4 873.8L1377.4 873.6L1378.4 874.5L1379.4 875.2L1380.4 874.2L1381.4 874.9L1382.4 873.9L1383.3 874.7L1384.3 875.9L1385.3 874.1L1386.3 875.8L1387.3 876.0L1388.3 874.6L1389.3 875.2L1390.3 875.7L1391.3 877.0L1392.3 876.5L1393.3 876.9L1394.3 877.5L1395.2 877.4L1396.2 877.5L1397.2 877.3L1398.2 878.3L1399.2 877.3L1400.1 878.8L1401.1 877.8L1402.0 877.7L1403.0 878.7L1404.0 878.8L1404.9 877.8L1405.9 879.5L1406.8 879.1L1407.7 879.9L1408.7 881.3L1409.6 880.9L1410.6 882.0L1411.5 882.0L1412.4 883.7L1413.3 882.9L1414.3 882.6L1415.2 883.0L1416.1 883.5L1417.0 884.5" stroke="#00ff00" stroke-width="10" fill="none" stroke-linejoin="round" stroke-linecap="round"/>
<path d="M22 1232V1250" stroke="#00ff00" stroke-width="11" stroke-linecap="round" fill="none"/>
<path d="M25.0 1074.2L24.5 1075.3L24.1 1077.2L23.7 1077.4L23.4 1078.8L23.1 1080.2L22.9 1081.0L22.8 1082.3L22.6 1083.7L22.6 1084.3L22.5 1085.8L22.5 1085.5L22.5 1086.8L22.7 1086.7L22.9 1088.1L23.2 1088.6L23.6 1090.5L24.1 1091.2L24.6 1092.0L25.2 1093.8L25.8 1094.6L26.4 1095.2L27.0 1095.4L27.5 1095.8L28.1 1097.4L28.7 1098.0L29.3 1098.6L29.9 1099.6L30.6 1099.7L31.3 1102.1L32.1 1101.4L32.8 1102.3L33.6 1103.5L34.4 1102.8L35.2 1104.5L36.1 1104.8L36.9 1104.4L37.7 1104.2L38.6 1104.7L39.4 1104.2L40.3 1106.1L41.2 1105.8L42.2 1105.8L43.1 1106.1L44.1 1107.3L45.1 1108.2L46.1 1107.1L47.1 1107.8L48.1 1107.5L49.1 1109.0L50.2 1109.0L51.2 1110.4L52.2 1109.4L53.3 1109.5L54.3 1109.6L55.3 1110.6L56.3 1109.5L57.3 1110.9L58.3 1110.7L59.3 1110.3L60.3 1110.1L61.3 1111.1L62.3 1111.5L63.3 1110.4L64.3 1111.0L65.3 1111.7L66.3 1110.7L67.3 1111.0L68.3 1110.7L69.3 1111.3L70.3 1111.5L71.3 1111.3L72.3 1111.1L73.3 1110.6L74.3 1110.6L75.3 1110.7L76.3 1111.5L77.3 1110.9L78.3 1110.7L79.3 1111.5L80.3 1111.4L81.3 1110.7L82.3 1110.7L83.3 1111.3L84.3 1111.2L85.3 1110.6L86.3 1111.1L87.3 1110.9L88.3 1111.4L89.3 1110.1L90.3 1110.8L91.3 1110.4L92.3 1109.4L93.3 1110.1L94.3 1109.7L95.3 1108.2L96.3 1109.6L97.3 1107.7L98.3 1107.6L99.3 1107.8L100.3 1108.3L101.3 1108.3L102.3 1108.0L103.3 1108.9L104.2 1108.6L105.2 1109.3L106.2 1110.4L107.2 1109.3L108.2 1108.0L109.2 1109.2L110.2 1108.8L111.2 1109.3L112.2 1109.2L113.2 1108.3L114.2 1108.1L115.2 1108.5L116.2 1108.5L117.2 1107.4L118.2 1109.4L119.2 1109.1L120.2 1109.3L121.2 1109.5L122.2 1108.9L123.2 1109.4L124.2 1109.9L125.1 1109.9L126.1 1109.5L127.1 1109.2L128.1 1109.2L129.1 1110.7L130.1 1110.8L131.1 1111.0L132.1 1110.7L133.1 1112.1L134.1 1112.0L135.1 1114.1L136.1 1113.9L137.1 1113.6L138.0 1114.0L139.0 1115.6L140.0 1114.9L141.0 1113.5L142.0 1114.0L143.0 1113.3L144.0 1112.8L145.0 1113.5L146.0 1114.4L147.0 1113.7L148.0 1112.6L149.0 1112.1L150.0 1112.3L150.9 1112.7L151.9 1111.4L152.9 1111.3L153.9 1113.5L154.9 1112.8L155.9 1113.6L156.9 1112.8L157.9 1113.3L158.9 1111.9L159.9 1112.2L160.9 1112.4L161.9 1111.8L162.9 1110.7L163.9 1111.1L164.8 1110.1L165.8 1109.5L166.8 1110.6L167.8 1111.0L168.8 1110.7L169.8 1109.4L170.8 1110.4L171.8 1110.2L172.8 1109.4L173.8 1108.1L174.8 1109.9L175.8 1109.8L176.8 1109.6L177.8 1108.6L178.8 1109.0L179.8 1110.7L180.8 1111.0L181.8 1111.4L182.8 1111.6L183.8 1112.4L184.8 1112.3L185.7 1112.8L186.7 1112.7L187.7 1113.3L188.7 1112.9L189.7 1113.5L190.7 1113.2L191.7 1112.1L192.7 1113.3L193.7 1111.4L194.7 1112.1L195.7 1112.4L196.7 1112.6L197.7 1110.9L198.7 1112.9L199.7 1113.2L200.7 1113.6L201.7 1111.7L202.7 1112.5L203.7 1112.8L204.7 1112.4L205.7 1113.1L206.7 1111.6L207.7 1112.4L208.7 1111.7L209.7 1110.3L210.7 1110.4L211.7 1110.6L212.7 1110.9L213.7 1111.5L214.7 1110.9L215.7 1111.5L216.7 1110.1L217.7 1109.3L218.7 1110.7L219.7 1111.1L220.7 1110.5L221.7 1110.0L222.7 1110.6L223.7 1111.3L224.7 1110.0L225.7 1109.5L226.7 1109.3L227.7 1110.7L228.7 1109.6L229.7 1110.1L230.7 1110.5L231.7 1110.6L232.7 1109.6L233.7 1110.8L234.7 1110.8L235.7 1110.7L236.7 1111.0L237.7 1110.1L238.7 1110.4L239.7 1110.2L240.7 1110.9L241.7 1110.1L242.7 1110.7L243.7 1109.8L244.7 1110.3L245.7 1110.0L246.7 1110.0L247.7 1110.0L248.7 1109.6L249.7 1109.5L250.7 1108.4L251.7 1110.1L252.7 1109.1L253.7 1109.3L254.7 1109.0L255.7 1110.1L256.7 1109.1L257.7 1109.9L258.7 1110.3L259.7 1110.6L260.7 1110.4L261.7 1110.2L262.7 1109.2L263.7 1110.6L264.7 1110.6L265.7 1110.4L266.7 1110.4L267.7 1110.0L268.7 1109.6L269.7 1110.5L270.7 1110.8L271.7 1109.8L272.7 1111.1L273.7 1111.0L274.7 1111.7L275.7 1111.6L276.7 1112.2L277.7 1112.3L278.7 1112.2L279.7 1110.8L280.7 1111.8L281.7 1111.1L282.7 1110.2L283.7 1111.0L284.7 1109.6L285.7 1110.7L286.7 1110.9L287.7 1109.4L288.7 1109.9L289.7 1109.4L290.7 1109.3L291.7 1108.0L292.7 1109.0L293.7 1108.7L294.7 1109.0L295.7 1108.6L296.6 1109.3L297.6 1109.1L298.6 1109.6L299.6 1110.3L300.6 1109.9L301.6 1110.5L302.6 1110.2L303.6 1110.3L304.6 1109.6L305.6 1110.1L306.6 1110.0L307.6 1108.8L308.6 1108.7L309.6 1108.0L310.6 1106.7L311.6 1107.1L312.6 1107.4L313.6 1106.3L314.6 1105.6L315.6 1106.7L316.6 1106.3L317.6 1107.7L318.6 1106.7L319.6 1106.6L320.6 1106.2L321.6 1106.5L322.6 1105.9L323.6 1105.4L324.5 1105.6L325.5 1104.9L326.5 1105.7L327.5 1104.0L328.5 1104.2L329.4 1103.5L330.4 1102.8L331.4 1104.2L332.4 1102.0L333.3 1103.9L334.3 1102.4L335.2 1103.3L336.2 1104.7L337.1 1102.4L338.1 1102.8L339.0 1104.2L340.0 1103.4L340.9 1102.7L341.9 1102.6L342.8 1101.6L343.8 1101.6L344.7 1101.9L345.6 1100.4L346.6 1100.2L347.5 1100.3L348.4 1100.3L349.4 1098.6L350.3 1098.6L351.2 1097.7L352.1 1097.2L353.0 1096.8L353.9 1096.1L354.8 1094.9L355.7 1094.1L356.6 1094.1L357.5 1093.8L358.4 1093.5L359.2 1091.7L360.1 1091.1L360.9 1090.7L361.8 1090.1L362.6 1089.1L363.4 1088.8L364.2 1089.5L365.0 1088.0L365.8 1087.7L366.6 1086.8L367.4 1087.7L368.2 1087.1L369.0 1087.9L369.7 1086.2L370.5 1086.3L371.3 1085.8L372.0 1085.7L372.8 1083.6L373.5 1084.7L374.2 1083.4L375.0 1082.9L375.7 1082.1L376.5 1081.3L377.2 1080.4L377.9 1078.2L378.6 1078.5L379.4 1077.1L380.1 1075.4L380.8 1074.7L381.6 1074.9L382.3 1073.0L383.0 1071.9L383.8 1072.4L384.5 1070.6L385.2 1070.4L386.0 1069.6L386.7 1069.1L387.5 1068.9L388.2 1068.1L389.0 1066.8L389.7 1066.5L390.5 1066.1L391.2 1065.5L392.0 1065.3L392.7 1064.7L393.5 1064.4L394.2 1064.4L394.9 1063.4L395.7 1063.7L396.4 1062.7L397.1 1061.6L397.8 1060.9L398.4 1060.0L399.1 1059.3L399.8 1058.5L400.4 1057.4L401.0 1056.2L401.7 1056.5L402.3 1055.3L402.9 1053.9L403.5 1053.3L404.1 1051.9L404.7 1050.6L405.3 1049.7L405.8 1050.1L406.4 1048.3L407.0 1047.4L407.6 1045.7L408.1 1045.5L408.7 1045.6L409.2 1043.9L409.8 1043.5L410.3 1042.9L410.9 1041.9L411.4 1041.7L412.0 1040.2L412.5 1039.6L413.1 1038.2L413.6 1039.1L414.2 1037.0L414.7 1035.8L415.3 1035.5L415.8 1033.4L416.4 1032.7L416.9 1031.3L417.5 1030.9L418.0 1030.0L418.6 1029.8L419.2 1028.9L419.7 1028.0L420.3 1027.6L420.9 1027.1L421.5 1026.2L422.1 1026.1L422.7 1025.0L423.3 1023.7L423.8 1022.0L424.4 1022.0L425.0 1020.1L425.6 1020.1L426.2 1019.3L426.8 1018.3L427.4 1017.5L428.0 1016.8L428.6 1017.4L429.2 1015.1L429.8 1014.1L430.4 1013.5L431.0 1012.1L431.6 1011.3L432.2 1009.0L432.8 1008.1L433.4 1009.5L434.0 1007.0L434.6 1006.2L435.3 1005.8L435.9 1005.7L436.5 1004.0L437.2 1004.3L437.8 1003.6L438.4 1003.4L439.1 1002.6L439.8 1001.8L440.4 1001.1L441.1 999.7L441.8 1000.8L442.4 998.8L443.1 998.7L443.8 999.0L444.5 997.2L445.2 997.1L445.9 996.0L446.6 995.8L447.3 994.8L448.0 993.8L448.8 994.1L449.5 992.4L450.2 991.1L451.0 990.9L451.7 990.6L452.5 989.0L453.2 989.4L454.0 988.9L454.8 989.1L455.6 987.2L456.4 987.5L457.2 985.8L458.0 986.0L458.8 985.8L459.7 985.5L460.5 984.7L461.4 984.1L462.3 983.3L463.2 983.0L464.1 982.9L465.0 982.5L465.9 982.0L466.9 981.6L467.8 981.2L468.7 979.2L469.7 979.5L470.6 979.4L471.6 979.0L472.5 979.9L473.5 979.8L474.5 979.3L475.5 979.5L476.5 980.0L477.5 979.1L478.5 978.9L479.5 979.3L480.5 978.7L481.5 978.8L482.6 977.9L483.6 977.8L484.6 976.9L485.5 976.6L486.5 977.2L487.5 975.9L488.5 977.7L489.4 978.4L490.4 978.3L491.3 978.6L492.3 979.8L493.2 979.7L494.2 980.7L495.1 981.8L496.0 981.5L497.0 982.1L497.9 982.3L498.8 982.5L499.8 982.8L500.7 982.9L501.7 983.6L502.6 982.4L503.6 983.3L504.5 984.0L505.5 983.4L506.4 984.1L507.3 984.2L508.3 985.2L509.2 985.8L510.1 986.6L511.0 986.6L512.0 986.4L512.9 987.3L513.7 987.9L514.6 988.7L515.5 987.2L516.3 989.0L517.2 988.4L518.0 990.3L518.9 990.8L519.7 991.5L520.5 992.3L521.3 992.6L522.2 992.6L523.0 993.7L523.8 994.8L524.6 994.7L525.4 995.4L526.2 995.3L527.0 997.2L527.9 996.8L528.7 997.2L529.5 997.8L530.4 998.0L531.2 998.7L532.1 999.8L532.9 999.8L533.8 1000.6L534.6 1001.1L535.5 1000.5L536.4 1001.9L537.2 1003.2L538.1 1004.5L539.0 1003.4L539.8 1004.1L540.7 1005.7L541.6 1005.8L542.4 1005.8L543.3 1006.8L544.2 1006.4L545.1 1005.9L545.9 1007.4L546.8 1007.9L547.7 1008.8L548.5 1009.6L549.4 1009.9L550.2 1010.4L551.1 1011.0L551.9 1011.3L552.8 1012.7L553.6 1014.1L554.5 1014.5L555.4 1015.8L556.2 1015.1L557.1 1014.9L557.9 1016.8L558.8 1017.6L559.7 1017.0L560.5 1017.2L561.4 1018.6L562.3 1019.3L563.2 1018.6L564.1 1019.3L565.0 1019.3L565.9 1019.2L566.8 1019.1L567.8 1019.8L568.7 1019.3L569.7 1019.0L570.6 1017.9L571.5 1020.3L572.5 1019.0L573.5 1019.7L574.4 1019.6L575.4 1020.9L576.4 1020.5L577.3 1022.0L578.3 1022.5L579.3 1023.6L580.2 1023.0L581.2 1023.6L582.2 1024.1L583.1 1025.5L584.1 1023.7L585.1 1024.7L586.0 1024.3L587.0 1025.0L588.0 1025.4L589.0 1025.4L590.0 1025.7L591.0 1025.9L591.9 1025.7L592.9 1026.2L593.9 1025.7L594.9 1026.7L595.9 1026.8L596.9 1027.4L597.9 1028.2L598.9 1028.4L599.9 1028.7L600.8 1029.4L601.8 1027.8L602.8 1029.6L603.8 1029.5L604.8 1029.6L605.8 1029.0L606.8 1030.0L607.8 1030.2L608.7 1030.0L609.7 1029.3L610.7 1029.7L611.7 1029.9L612.7 1030.6L613.7 1030.6L614.7 1030.3L615.7 1030.7L616.7 1031.1L617.7 1031.6L618.6 1031.6L619.6 1032.7L620.6 1032.1L621.6 1032.1L622.6 1032.6L623.6 1032.0L624.6 1032.0L625.6 1031.0L626.6 1032.4L627.6 1032.1L628.6 1032.1L629.5 1032.5L630.5 1032.5L631.5 1032.1L632.5 1033.8L633.5 1032.7L634.5 1033.5L635.5 1033.9L636.5 1032.5L637.5 1032.5L638.5 1031.5L639.4 1032.0L640.4 1030.8L641.4 1030.0L642.4 1031.0L643.4 1030.6L644.4 1029.6L645.4 1030.8L646.4 1030.4L647.4 1031.9L648.3 1031.5L649.3 1030.3L650.3 1030.4L651.3 1029.8L652.3 1030.0L653.3 1029.5L654.3 1029.4L655.3 1028.6L656.3 1027.4L657.3 1027.4L658.2 1028.3L659.2 1028.0L660.2 1027.2L661.2 1027.1L662.2 1026.9L663.2 1026.9L664.2 1025.9L665.2 1027.2L666.2 1026.4L667.2 1026.8L668.1 1025.3L669.1 1026.8L670.1 1027.4L671.1 1025.6L672.1 1027.7L673.1 1027.2L674.1 1026.7L675.1 1026.4L676.1 1027.9L677.1 1027.5L678.1 1027.6L679.0 1027.0L680.0 1026.5L681.0 1027.1L682.0 1025.8L683.0 1026.5L684.0 1024.7L685.0 1024.7L686.0 1024.1L686.9 1025.1L687.9 1023.2L688.9 1023.3L689.9 1024.0L690.9 1023.7L691.9 1024.5L692.9 1024.2L693.8 1023.4L694.8 1023.3L695.8 1021.8L696.8 1022.1L697.8 1022.1L698.8 1021.9L699.7 1021.0L700.7 1020.9L701.7 1020.6L702.7 1021.3L703.7 1020.6L704.6 1019.9L705.6 1019.7L706.6 1019.7L707.6 1018.9L708.6 1018.9L709.5 1018.0L710.5 1019.1L711.5 1019.1L712.5 1018.7L713.5 1018.6L714.4 1018.5L715.4 1019.2L716.4 1018.1L717.4 1017.2L718.3 1017.1L719.3 1017.8L720.3 1017.7L721.2 1017.3L722.2 1017.1L723.2 1016.6L724.2 1015.5L725.1 1015.8L726.1 1015.0L727.1 1015.6L728.0 1014.9L729.0 1015.4L730.0 1014.9L730.9 1013.6L731.9 1014.7L732.9 1014.3L733.8 1012.7L734.8 1013.1L735.8 1013.2L736.8 1012.4L737.7 1012.9L738.7 1012.5L739.7 1012.9L740.6 1012.5L741.6 1012.2L742.6 1012.5L743.6 1012.4L744.6 1011.9L745.5 1011.3L746.5 1011.0L747.5 1011.0L748.5 1010.8L749.5 1011.0L750.5 1010.9L751.5 1010.6L752.4 1010.5L753.4 1010.4L754.4 1010.9L755.4 1010.5L756.4 1009.3L757.4 1009.5L758.4 1008.8L759.4 1008.7L760.4 1008.3L761.4 1007.8L762.3 1007.1L763.3 1006.2L764.3 1007.3L765.3 1007.5L766.3 1006.2L767.3 1006.8L768.3 1006.3L769.2 1006.7L770.2 1006.1L771.2 1006.3L772.2 1006.3L773.2 1005.0L774.2 1006.3L775.1 1005.9L776.1 1004.6L777.1 1006.1L778.1 1005.7L779.1 1005.9L780.0 1006.0L781.0 1005.6L782.0 1005.2L783.0 1005.5L783.9 1005.2L784.9 1006.2L785.9 1005.4L786.8 1003.4L787.8 1002.7L788.7 1002.4L789.7 1001.8L790.6 1000.6L791.5 1000.0L792.5 1001.3L793.4 1000.6L794.3 999.1L795.2 998.8L796.2 999.2L797.1 999.7L798.0 999.7L798.9 999.0L799.8 998.2L800.7 998.8L801.6 998.7L802.6 998.0L803.5 997.3L804.4 997.5L805.3 996.9L806.2 995.9L807.1 996.2L808.0 995.1L808.9 996.0L809.8 995.4L810.8 994.3L811.7 994.5L812.6 994.6L813.5 992.3L814.4 992.8L815.4 993.0L816.3 990.6L817.2 990.6L818.1 989.2L819.1 989.2L820.0 987.3L821.0 987.1L821.9 987.2L822.8 987.2L823.8 987.1L824.7 986.9L825.7 987.1L826.6 986.7L827.5 986.4L828.5 985.2L829.4 985.3L830.4 986.7L831.3 985.7L832.3 984.5L833.2 984.1L834.2 983.8L835.1 982.7L836.0 983.6L837.0 982.0L837.9 982.0L838.8 983.1L839.8 980.6L840.7 981.7L841.6 980.3L842.6 980.6L843.5 980.7L844.4 980.3L845.3 980.3L846.2 979.5L847.2 979.5L848.1 978.5L849.0 978.4L849.9 977.4L850.8 977.9L851.7 976.4L852.6 977.0L853.5 976.0L854.4 975.7L855.3 976.0L856.2 975.0L857.1 973.5L858.0 974.3L858.9 971.9L859.8 973.0L860.7 972.0L861.6 970.9L862.5 971.1L863.4 970.3L864.3 971.2L865.2 969.5L866.1 970.4L867.0 969.7L868.0 968.3L868.9 967.8L869.8 968.6L870.7 967.5L871.6 967.2L872.5 966.6L873.4 965.5L874.3 965.4L875.3 964.5L876.2 963.6L877.1 963.6L878.0 964.3L878.9 963.8L879.8 962.5L880.8 962.4L881.7 962.5L882.6 962.9L883.5 962.4L884.4 962.0L885.4 962.0L886.3 962.6L887.2 963.2L888.1 961.2L889.1 960.1L890.0 961.4L890.9 960.8L891.8 960.8L892.7 961.3L893.7 960.6L894.6 959.6L895.5 959.0L896.4 959.6L897.3 958.3L898.3 958.4L899.2 956.7L900.1 956.3L901.0 954.9L901.9 954.7L902.8 953.9L903.8 953.9L904.7 953.9L905.6 952.7L906.5 952.1L907.4 953.5L908.3 952.6L909.2 952.7L910.2 952.6L911.1 953.0L912.0 952.6L912.9 952.1L913.8 951.8L914.7 950.3L915.6 949.8L916.6 949.3L917.5 948.6L918.4 947.7L919.3 947.0L920.2 946.1L921.1 945.2L922.0 943.9L922.9 944.7L923.8 944.0L924.7 942.7L925.6 942.9L926.5 942.4L927.5 941.7L928.4 940.2L929.3 940.1L930.2 940.1L931.1 941.1L932.0 939.6L932.9 939.9L933.8 939.6L934.7 939.9L935.6 940.4L936.6 938.9L937.5 938.3L938.4 939.9L939.3 939.1L940.2 938.2L941.1 938.5L942.0 937.9L942.9 935.7L943.8 936.2L944.7 936.5L945.6 935.1L946.5 934.9L947.4 935.2L948.3 934.0L949.2 932.9L950.1 932.5L950.9 931.5L951.8 931.7L952.7 929.7L953.5 930.4L954.4 928.0L955.2 928.0L956.1 926.2L956.9 925.9L957.8 925.8L958.6 925.0L959.4 924.4L960.2 923.1L961.1 922.7L961.9 922.6L962.7 922.7L963.5 922.2L964.3 923.1L965.1 922.6L965.9 922.9L966.8 922.2L967.6 921.7L968.4 920.3L969.1 919.7L969.9 918.4L970.7 918.2L971.5 917.5L972.3 917.4L973.1 915.7L973.9 917.7L974.7 915.4L975.5 915.7L976.2 915.1L977.0 912.5L977.8 913.0L978.6 913.1L979.4 910.1L980.2 911.0L980.9 909.4L981.7 908.9L982.5 908.7L983.3 907.0L984.1 907.7L984.8 906.7L985.6 906.2L986.4 906.4L987.2 907.4L988.0 904.9L988.8 904.4L989.5 903.3L990.3 902.1L991.1 901.9L991.9 901.8L992.7 900.4L993.4 900.0L994.2 898.7L995.0 899.6L995.8 896.7L996.6 897.4L997.3 896.9L998.1 896.3L998.9 895.1L999.6 894.7L1000.4 894.8L1001.1 894.5L1001.9 893.2L1002.7 892.6L1003.4 892.7L1004.2 892.1L1004.9 890.2L1005.6 889.1L1006.4 888.0L1007.1 888.8L1007.9 886.8L1008.6 885.8L1009.3 885.7L1010.0 885.7L1010.7 884.6L1011.4 882.6L1012.1 882.8L1012.8 882.0L1013.5 881.5L1014.2 880.3L1014.9 880.1L1015.6 879.1L1016.3 879.2L1017.0 878.4L1017.7 876.9L1018.4 876.0L1019.1 876.0L1019.8 875.9L1020.4 875.0L1021.1 873.9L1021.8 871.4L1022.5 872.2L1023.1 871.4L1023.8 871.0L1024.5 870.0L1025.1 869.8L1025.8 869.1L1026.4 870.4L1027.1 868.6L1027.8 867.3L1028.4 866.6L1029.1 865.7L1029.7 865.1L1030.3 864.0L1031.0 863.4L1031.6 863.1L1032.2 862.1L1032.9 860.8L1033.5 860.3L1034.1 858.6L1034.7 856.7L1035.4 855.1L1036.0 854.6L1036.6 854.0L1037.2 853.4L1037.8 853.1L1038.4 851.6L1039.0 851.0L1039.6 851.4L1040.2 851.1L1040.8 849.6L1041.4 849.4L1041.9 849.2L1042.5 847.7L1043.1 846.6L1043.7 844.5L1044.3 845.3L1044.8 843.9L1045.4 842.6L1046.0 841.3L1046.5 839.9L1047.1 839.6L1047.6 838.8L1048.2 838.6L1048.7 836.7L1049.3 837.4L1049.8 836.0L1050.4 835.9L1050.9 834.0L1051.5 834.1L1052.0 834.0L1052.6 832.8L1053.1 831.4L1053.6 831.5L1054.2 831.3L1054.7 829.4L1055.2 828.5L1055.8 828.5L1056.3 826.9L1056.8 826.7L1057.3 824.6L1057.9 823.2L1058.4 822.8L1058.9 823.2L1059.4 821.0L1060.0 820.8L1060.5 820.2L1061.0 818.9L1061.5 819.4L1062.1 818.1L1062.6 817.4L1063.1 815.3L1063.6 814.3L1064.1 812.8L1064.6 813.4L1065.2 812.4L1065.7 812.0L1066.2 811.5L1066.7 809.6L1067.2 808.6L1067.7 808.1L1068.3 807.7L1068.8 805.5L1069.3 805.4L1069.8 804.0L1070.3 803.1L1070.8 802.8L1071.3 801.0L1071.8 799.9L1072.3 799.9L1072.8 798.5L1073.3 797.3L1073.8 796.3L1074.3 795.6L1074.8 794.2L1075.3 793.9L1075.8 792.9L1076.2 792.8L1076.7 792.0L1077.2 791.0L1077.7 789.7L1078.2 789.2L1078.7 788.0L1079.2 789.2L1079.7 786.7L1080.2 786.4L1080.7 786.1L1081.2 783.9L1081.7 783.5L1082.2 783.1L1082.7 782.1L1083.2 781.3L1083.7 781.0L1084.2 781.2L1084.7 779.9L1085.2 778.5L1085.7 777.4L1086.2 775.4L1086.7 775.6L1087.2 774.3L1087.7 772.4L1088.2 772.1L1088.7 770.9L1089.2 769.9L1089.7 768.8L1090.2 768.3L1090.7 767.5L1091.2 767.7L1091.7 766.9L1092.2 766.1L1092.7 765.0L1093.2 763.9L1093.7 764.3L1094.2 761.2L1094.7 761.9L1095.2 760.6L1095.7 759.6L1096.3 758.4L1096.8 757.9L1097.3 756.7L1097.8 755.8L1098.3 755.8L1098.8 754.1L1099.3 754.4L1099.8 753.4L1100.3 749.5L1100.8 749.2L1101.3 748.9L1101.8 747.6L1102.3 746.4L1102.8 745.6L1103.3 744.9L1103.8 744.2L1104.3 744.1L1104.8 742.5L1105.3 742.4L1105.8 740.4L1106.3 740.5L1106.7 739.1L1107.2 739.7L1107.7 739.4L1108.2 737.6L1108.7 735.8L1109.2 735.7L1109.7 735.0L1110.2 734.3L1110.7 734.0L1111.1 733.2L1111.6 730.4L1112.1 731.9L1112.6 730.1L1113.1 729.3L1113.6 729.6L1114.1 727.9L1114.6 726.5L1115.1 725.8L1115.6 725.6L1116.1 725.2L1116.6 724.5L1117.1 722.5L1117.6 721.3L1118.1 721.5L1118.6 719.4L1119.1 719.5L1119.7 717.9L1120.2 717.0L1120.7 715.7L1121.2 715.1L1121.8 713.7L1122.3 712.6L1122.9 711.8L1123.4 710.5L1124.0 709.9L1124.5 708.7L1125.1 707.5L1125.6 706.6L1126.2 705.6L1126.8 705.8L1127.3 704.1L1127.9 702.9L1128.4 702.3L1129.0 702.1L1129.6 700.8L1130.1 700.1L1130.7 699.3L1131.2 698.8L1131.7 698.1L1132.3 697.3L1132.8 695.3L1133.3 694.8L1133.8 693.1L1134.4 694.2L1134.9 693.5L1135.4 692.9L1135.9 691.5L1136.4 691.4L1136.9 690.0L1137.4 689.3L1138.0 687.8L1138.5 687.5L1139.0 686.8L1139.5 686.8L1140.0 686.3L1140.5 684.2L1141.0 683.7L1141.5 682.7L1142.0 681.2L1142.5 679.7L1143.0 679.4L1143.5 678.2L1144.0 678.0L1144.5 677.4L1145.0 676.7L1145.4 676.0L1145.9 675.7L1146.4 674.3L1146.9 674.5L1147.4 672.3L1147.9 672.3L1148.4 671.5L1148.9 669.8L1149.4 668.3L1149.8 668.5L1150.3 666.8L1150.8 666.8L1151.3 666.0L1151.8 665.0L1152.3 664.4L1152.7 664.3L1153.2 663.4L1153.7 661.9L1154.2 661.7L1154.7 660.9L1155.1 659.6L1155.6 658.5L1156.1 657.1L1156.6 655.9L1157.0 654.3L1157.5 653.1L1158.0 653.6L1158.5 651.8L1158.9 651.4L1159.4 649.7L1159.8 649.8L1160.3 648.5L1160.8 649.7L1161.2 646.6L1161.7 645.7L1162.2 645.8L1162.6 644.9L1163.1 642.1L1163.5 642.5L1164.0 641.9L1164.4 639.9L1164.9 640.1L1165.4 638.7L1165.8 637.7L1166.3 637.3L1166.8 636.4L1167.2 635.2L1167.7 636.4L1168.2 634.1L1168.6 633.1L1169.1 633.1L1169.6 631.6L1170.1 631.4L1170.5 629.5L1171.0 628.8L1171.5 627.7L1172.0 626.7L1172.4 625.5L1172.9 624.5L1173.4 624.5L1173.9 622.3L1174.4 621.5L1174.8 620.8L1175.3 620.5L1175.8 619.5L1176.3 619.0L1176.8 616.7L1177.2 616.5L1177.7 615.1L1178.2 613.9L1178.7 613.0L1179.2 610.7L1179.7 610.9L1180.2 609.9L1180.7 608.2L1181.2 608.2L1181.7 608.6L1182.2 607.0L1182.7 607.1L1183.2 606.1L1183.8 605.1L1184.3 604.3L1184.8 603.6L1185.4 603.5L1185.9 602.2L1186.4 600.3L1187.0 600.2L1187.5 598.7L1188.1 597.6L1188.6 597.5L1189.2 596.2L1189.7 595.2L1190.3 596.1L1190.8 593.7L1191.4 594.2L1192.0 592.3L1192.5 592.2L1193.1 591.1L1193.7 590.0L1194.2 588.1L1194.8 588.4L1195.4 587.6L1196.0 586.3L1196.6 586.1L1197.2 586.0L1197.8 584.4L1198.4 584.3L1199.0 582.9L1199.7 583.1L1200.3 582.7L1200.9 583.1L1201.6 581.7L1202.2 580.9L1202.9 580.8L1203.6 578.8L1204.2 579.1L1204.9 577.4L1205.6 576.4L1206.3 576.4L1207.0 575.1L1207.7 574.8L1208.5 572.6L1209.2 572.8L1210.0 571.8L1210.8 571.4L1211.6 570.0L1212.4 571.0L1213.2 570.1L1214.1 568.8L1214.9 567.9L1215.8 567.4L1216.6 567.9L1217.5 566.4L1218.3 565.6L1219.2 565.4L1220.1 564.5L1221.0 564.2L1221.8 563.9L1222.7 563.3L1223.6 563.1L1224.5 561.4L1225.3 561.6L1226.2 560.8L1227.1 560.4L1227.9 559.7L1228.8 558.8L1229.7 558.4L1230.5 558.5L1231.4 557.0L1232.3 556.0L1233.2 556.3L1234.0 555.9L1234.9 554.6L1235.8 554.3L1236.7 553.4L1237.6 553.4L1238.5 554.0L1239.4 553.7L1240.3 553.3L1241.2 553.1L1242.1 552.3L1243.1 553.3L1244.0 553.1L1244.9 553.0L1245.9 553.0L1246.9 551.5L1247.8 551.3L1248.8 549.7L1249.8 550.6L1250.8 550.1L1251.8 550.2L1252.8 549.7L1253.8 549.5L1254.8 550.0L1255.8 548.7L1256.8 549.3L1257.8 549.5L1258.8 548.4L1259.8 548.1L1260.8 549.0L1261.8 548.8L1262.8 549.1L1263.8 549.1L1264.8 548.5L1265.8 549.3L1266.8 550.1L1267.8 549.6L1268.8 550.1L1269.8 550.0L1270.8 551.5L1271.8 552.5L1272.8 551.1L1273.7 552.6L1274.7 553.0L1275.7 552.4L1276.6 552.6L1277.6 552.3L1278.6 552.5L1279.5 553.0L1280.5 553.3L1281.5 553.2L1282.4 553.8L1283.4 553.7L1284.3 553.3L1285.3 555.2L1286.2 555.5L1287.1 555.1L1288.0 557.1L1288.9 557.1L1289.8 557.7L1290.7 559.3L1291.5 557.6L1292.3 558.6L1293.1 560.4L1293.9 560.5L1294.7 560.8L1295.5 562.9L1296.3 563.1L1297.0 562.9L1297.8 563.9L1298.5 565.4L1299.2 566.5L1300.0 565.1L1300.7 566.9L1301.4 567.2L1302.1 567.0L1302.8 568.4L1303.5 568.1L1304.1 569.1L1304.8 570.8L1305.5 570.6L1306.1 571.3L1306.8 571.7L1307.4 572.1L1308.1 573.0L1308.7 572.5L1309.3 573.7L1310.0 575.2L1310.6 575.3L1311.2 576.5L1311.8 578.4L1312.4 579.6L1313.0 579.4L1313.6 580.2L1314.1 581.9L1314.7 582.7L1315.3 583.2L1315.9 584.7L1316.4 585.5L1317.0 586.0L1317.6 588.4L1318.1 588.3L1318.7 588.8L1319.2 589.7L1319.8 591.6L1320.3 591.4L1320.9 591.2L1321.4 592.5L1322.0 593.1L1322.5 593.6L1323.1 594.9L1323.6 595.8L1324.2 596.6L1324.7 597.3L1325.2 598.9L1325.8 598.5L1326.3 600.8L1326.8 601.3L1327.3 602.4L1327.9 601.9L1328.4 605.0L1328.9 604.1L1329.4 605.6L1329.9 607.4L1330.4 607.7L1330.9 608.8L1331.5 608.8L1332.0 610.7L1332.5 611.8L1333.0 612.7L1333.5 612.7L1334.0 613.5L1334.5 613.9L1335.0 613.7L1335.5 614.0L1336.0 616.0L1336.5 615.0L1337.0 616.9L1337.5 617.2L1338.0 619.0L1338.5 619.0L1339.0 620.8L1339.5 621.9L1340.0 622.9L1340.5 624.4L1341.0 625.0L1341.5 626.5L1342.0 627.3L1342.5 628.8L1343.0 629.1L1343.5 629.1L1344.0 630.4L1344.5 631.4L1345.0 631.8L1345.4 633.9L1345.9 634.4L1346.4 635.7L1346.9 636.1L1347.4 637.5L1347.9 639.4L1348.3 639.2L1348.8 641.1L1349.3 641.8L1349.8 642.3L1350.2 643.3L1350.7 643.4L1351.2 644.9L1351.7 644.9L1352.1 645.7L1352.6 648.1L1353.1 647.8L1353.5 648.0L1354.0 650.5L1354.4 650.3L1354.9 649.5L1355.3 652.0L1355.8 653.1L1356.2 653.3L1356.7 654.7L1357.1 654.5L1357.6 655.8L1358.0 656.0L1358.4 657.6L1358.9 659.4L1359.3 659.9L1359.8 660.7L1360.2 660.5L1360.7 662.4L1361.1 662.8L1361.5 664.7L1362.0 664.8L1362.4 666.3L1362.9 666.4L1363.3 668.9L1363.8 668.2L1364.2 669.8L1364.7 672.1L1365.1 671.8L1365.5 672.1L1366.0 673.7L1366.4 674.8L1366.9 675.7L1367.3 675.1L1367.8 677.2L1368.2 676.8L1368.7 680.0L1369.1 679.9L1369.6 680.6L1370.0 682.3L1370.4 683.3L1370.9 683.6L1371.3 686.3L1371.8 686.4L1372.2 686.6L1372.7 689.3L1373.1 690.3L1373.6 691.0L1374.0 691.4L1374.5 691.4L1374.9 693.2L1375.4 694.7L1375.8 695.1L1376.3 696.6L1376.7 696.4L1377.2 698.5L1377.6 699.6L1378.1 699.3L1378.5 700.3L1379.0 701.7L1379.4 703.1L1379.9 704.1L1380.3 704.5L1380.8 705.3L1381.2 706.0L1381.7 706.8L1382.1 707.8L1382.6 708.5L1383.0 708.8L1383.5 709.5L1383.9 709.7L1384.4 710.9L1384.8 710.7L1385.3 712.5L1385.7 712.3L1386.2 713.3L1386.6 713.6L1387.1 714.7L1387.5 716.0L1388.0 716.9L1388.4 717.6L1388.8 718.3L1389.3 720.0L1389.7 721.0L1390.1 722.0L1390.6 723.3L1391.0 723.3L1391.4 723.2L1391.9 725.1L1392.3 725.1L1392.8 726.4L1393.2 728.6L1393.6 729.3L1394.1 729.6L1394.5 730.6L1395.0 731.9L1395.5 731.9L1395.9 734.1L1396.4 734.5L1396.9 736.6L1397.3 736.0L1397.8 738.0L1398.3 738.0L1398.8 739.8L1399.3 739.6L1399.9 741.5L1400.4 741.8L1400.9 742.6L1401.4 743.9L1402.0 745.1L1402.5 745.9L1403.1 747.2L1403.6 747.3L1404.2 745.9L1404.7 747.7L1405.3 747.5L1405.8 749.0L1406.3 750.2L1406.9 749.9L1407.4 750.9L1408.0 752.6L1408.5 753.4L1409.0 755.4L1409.5 755.7L1410.0 756.7L1410.5 758.2L1411.0 757.6L1411.5 758.5L1412.1 758.5L1412.6 759.9L1413.1 761.1L1413.6 762.2L1414.1 762.5L1414.5 763.4L1415.0 764.7L1415.5 765.8L1416.0 768.1L1416.5 770.2L1417.0 769.4" stroke="#0000ff" stroke-width="10" fill="none" stroke-linejoin="round" stroke-linecap="round"/>
<path d="M16.7 766.8L17.7 766.5L18.7 766.3L19.7 766.4L20.7 765.8L21.7 766.2L22.7 765.5L23.7 765.0L24.7 765.2L25.7 765.8L26.7 765.8L27.7 766.5L28.7 765.3L29.7 766.4L30.7 767.0L31.7 766.5L32.7 767.3L33.7 766.9L34.7 766.3L35.7 767.3L36.7 765.6L37.7 766.5L38.7 765.3L39.7 764.7L40.7 764.5L41.7 764.4L42.7 764.2L43.7 764.8L44.7 763.7L45.7 765.5L46.7 765.3L47.7 765.5L48.7 764.1L49.7 763.2L50.7 763.8L51.7 763.8L52.7 763.6L53.7 762.8L54.7 762.6L55.7 762.4L56.7 761.3L57.7 763.0L58.7 761.4L59.7 762.3L60.7 763.0L61.7 762.2L62.7 763.0L63.7 764.2L64.7 763.5L65.7 764.5L66.7 764.4L67.7 764.5L68.7 764.8L69.7 764.3L70.7 764.2L71.7 764.8L72.7 764.3L73.7 764.3L74.7 763.2L75.7 763.8L76.7 764.4L77.7 764.2L78.7 763.9L79.7 763.4L80.7 763.1L81.7 763.5L82.7 763.8L83.7 762.9L84.7 763.4L85.7 762.5L86.7 763.3L87.7 762.2L88.7 763.0L89.7 762.5L90.7 763.6L91.7 763.6L92.7 762.8L93.7 762.9L94.7 762.9L95.7 762.2L96.7 762.2L97.7 761.9L98.7 762.5L99.7 762.5L100.7 761.2L101.7 761.2L102.7 761.4L103.7 761.1L104.7 761.4L105.7 762.3L106.7 762.4L107.7 762.6L108.7 762.8L109.7 764.3L110.7 763.6L111.7 764.2L112.7 763.7L113.7 763.9L114.7 764.2L115.7 763.7L116.7 764.0L117.7 763.6L118.7 762.7L119.7 762.1L120.7 763.9L121.7 763.0L122.7 764.1L123.7 763.3L124.7 762.8L125.7 763.5L126.7 763.0L127.7 763.2L128.7 762.6L129.7 763.3L130.7 763.5L131.7 762.5L132.7 763.8L133.7 762.5L134.7 762.9L135.7 761.9L136.7 761.7L137.7 763.8L138.7 763.3L139.7 763.2L140.7 761.6L141.7 762.7L142.7 762.9L143.7 762.8L144.7 763.0L145.7 762.4L146.7 762.9L147.7 762.4L148.7 763.0L149.7 763.5L150.7 763.1L151.7 763.6L152.7 763.7L153.7 764.2L154.7 765.0L155.7 765.0L156.7 765.3L157.7 764.5L158.7 765.2L159.7 765.9L160.7 765.0L161.7 765.1L162.7 764.7L163.7 765.8L164.7 764.7L165.7 764.5L166.7 765.1L167.7 765.3L168.7 765.0L169.7 765.2L170.7 764.8L171.7 764.6L172.7 764.4L173.7 764.3L174.7 764.2L175.7 764.6L176.7 764.3L177.7 764.4L178.7 764.7L179.8 764.4L180.8 763.7L181.8 764.0L182.8 763.8L183.8 763.2L184.8 764.2L185.8 763.3L186.8 763.1L187.8 763.0L188.8 763.9L189.8 763.2L190.8 763.9L191.8 763.3L192.8 763.2L193.8 763.8L194.8 763.9L195.8 763.7L196.8 763.1L197.8 763.4L198.8 763.0L199.8 763.5L200.8 763.8L201.8 764.7L202.8 764.8L203.8 764.6L204.8 764.9L205.8 764.6L206.8 766.1L207.8 765.4L208.8 765.9L209.8 764.6L210.8 764.5L211.8 764.7L212.8 764.2L213.8 764.3L214.8 763.6L215.8 764.9L216.8 764.6L217.8 765.3L218.8 764.9L219.8 764.2L220.8 765.5L221.8 765.8L222.8 764.4L223.8 764.3L224.8 764.4L225.8 764.2L226.8 763.1L227.8 764.6L228.8 763.9L229.8 762.7L230.8 761.9L231.8 763.0L232.8 763.8L233.8 763.1L234.8 763.3L235.7 762.1L236.7 762.8L237.7 761.8L238.7 763.6L239.7 762.8L240.7 761.1L241.7 761.1L242.7 762.1L243.7 761.7L244.7 761.2L245.7 761.5L246.7 762.1L247.7 761.1L248.7 759.8L249.7 760.7L250.7 760.1L251.7 760.4L252.7 761.0L253.7 760.7L254.7 760.1L255.7 760.5L256.7 759.8L257.7 760.3L258.7 759.6L259.7 759.7L260.7 759.3L261.7 759.9L262.7 759.6L263.7 759.9L264.7 759.8L265.7 760.5L266.7 759.7L267.7 762.3L268.7 760.6L269.7 761.1L270.6 760.8L271.6 760.7L272.6 761.0L273.6 760.4L274.6 760.4L275.6 759.9L276.6 760.3L277.6 760.3L278.6 762.0L279.6 760.4L280.6 760.6L281.6 761.4L282.6 762.0L283.6 760.2L284.6 760.1L285.6 760.8L286.6 760.6L287.6 759.4L288.6 759.0L289.6 759.3L290.6 760.3L291.6 760.0L292.6 760.6L293.6 760.3L294.6 760.5L295.6 761.1L296.6 760.9L297.6 761.2L298.6 760.6L299.6 760.7L300.6 761.2L301.6 760.7L302.6 760.3L303.6 761.0L304.6 761.0L305.6 760.7L306.6 760.4L307.6 761.4L308.6 762.4L309.6 760.7L310.6 760.4L311.6 761.0L312.6 761.0L313.7 760.9L314.7 760.9L315.7 762.1L316.7 762.2L317.7 762.8L318.7 762.6L319.7 762.1L320.7 763.1L321.7 762.2L322.7 762.4L323.7 761.8L324.7 763.0L325.7 762.8L326.7 761.8L327.7 761.7L328.7 761.6L329.7 761.5L330.7 761.6L331.7 761.0L332.7 761.1L333.7 759.8L334.7 760.2L335.7 759.1L336.7 760.9L337.7 760.5L338.7 760.0L339.7 760.2L340.7 760.7L341.7 760.1L342.7 758.8L343.7 759.6L344.7 758.4L345.7 759.1L346.6 758.8L347.6 759.3L348.6 759.3L349.6 758.4L350.6 758.7L351.6 759.0L352.6 758.8L353.6 759.0L354.6 757.8L355.6 758.9L356.6 759.5L357.6 759.1L358.6 758.0L359.6 758.4L360.6 758.4L361.6 757.5L362.6 758.2L363.6 757.3L364.6 757.6L365.6 757.8L366.6 759.2L367.6 757.8L368.5 757.7L369.5 758.3L370.5 757.4L371.5 757.4L372.5 755.7L373.5 756.7L374.5 756.2L375.5 755.1L376.5 756.2L377.5 755.0L378.5 754.8L379.4 754.0L380.4 753.8L381.4 754.3L382.4 753.8L383.4 754.9L384.4 755.1L385.4 754.3L386.4 753.8L387.4 754.4L388.4 754.0L389.4 754.6L390.4 754.4L391.3 753.9L392.3 754.0L393.3 754.4L394.3 754.6L395.3 753.2L396.2 753.8L397.2 753.2L398.2 752.7L399.2 754.0L400.1 753.6L401.1 753.4L402.0 753.5L403.0 753.0L404.0 752.2L404.9 753.3L405.9 752.3L406.8 751.4L407.7 751.2L408.5 750.7L409.4 749.3L410.3 749.2L411.1 748.1L411.9 748.0L412.7 746.9L413.5 747.7L414.3 745.5L415.1 745.3L415.9 744.5L416.7 743.3L417.5 743.3L418.3 742.2L419.0 741.5L419.8 741.2L420.6 740.4L421.3 741.2L422.1 740.5L422.8 740.3L423.6 738.5L424.3 738.9L425.1 737.6L425.9 737.3L426.6 737.0L427.4 735.5L428.2 734.3L428.9 734.1L429.7 733.1L430.5 732.7L431.3 729.8L432.0 730.2L432.8 729.1L433.6 728.1L434.4 728.1L435.1 726.7L435.9 725.6L436.7 725.7L437.5 725.5L438.2 726.1L439.0 724.2L439.8 723.4L440.5 722.4L441.3 722.6L442.1 722.0L442.9 721.6L443.6 720.0L444.4 719.7L445.2 718.1L446.0 718.9L446.7 717.3L447.5 716.2L448.3 717.9L449.1 717.2L449.9 716.8L450.7 716.4L451.5 715.1L452.3 715.8L453.1 714.0L453.9 715.0L454.7 713.3L455.5 711.4L456.3 712.1L457.1 711.8L457.9 709.8L458.7 709.7L459.5 708.2L460.3 707.3L461.1 705.6L461.9 707.1L462.7 705.7L463.5 705.7L464.3 704.4L465.2 704.1L466.0 704.8L466.8 703.5L467.6 703.0L468.5 701.9L469.3 702.0L470.2 701.5L471.0 700.0L471.9 699.4L472.8 698.1L473.7 698.9L474.5 697.2L475.5 696.9L476.4 697.4L477.3 695.9L478.2 694.8L479.2 694.8L480.1 694.8L481.0 695.8L482.0 694.9L483.0 694.6L483.9 695.3L484.9 695.7L485.8 694.8L486.8 696.1L487.8 695.9L488.7 695.6L489.7 693.9L490.7 695.0L491.7 695.5L492.7 694.3L493.7 695.5L494.6 694.1L495.6 693.4L496.6 694.2L497.6 694.0L498.6 694.3L499.6 693.7L500.6 694.5L501.6 693.5L502.6 693.8L503.6 692.9L504.6 692.9L505.6 693.3L506.6 692.7L507.6 692.7L508.6 692.7L509.6 692.8L510.6 692.8L511.6 692.6L512.6 692.6L513.6 692.0L514.6 691.5L515.6 690.9L516.6 691.7L517.5 691.8L518.5 691.6L519.5 693.9L520.5 692.4L521.5 694.1L522.5 694.7L523.4 694.7L524.4 696.5L525.4 695.3L526.4 695.1L527.4 696.6L528.3 695.2L529.3 695.0L530.3 695.3L531.3 695.7L532.2 696.3L533.2 696.7L534.2 696.0L535.1 697.2L536.1 698.5L537.1 697.1L538.0 697.7L539.0 698.4L540.0 698.9L541.0 698.1L541.9 698.2L542.9 698.4L543.9 699.8L544.8 700.0L545.8 698.5L546.8 698.7L547.8 699.3L548.7 699.3L549.7 700.4L550.7 700.4L551.7 701.5L552.6 701.1L553.6 701.0L554.6 702.0L555.5 701.3L556.5 701.5L557.5 702.7L558.5 703.5L559.4 702.4L560.4 704.0L561.4 704.1L562.4 703.5L563.3 703.9L564.3 703.8L565.3 704.1L566.3 704.6L567.2 703.9L568.2 705.0L569.2 705.1L570.2 705.2L571.1 703.8L572.1 703.9L573.1 705.5L574.1 704.8L575.1 704.8L576.0 704.9L577.0 704.7L578.0 705.4L579.0 705.3L579.9 705.6L580.9 706.6L581.9 706.2L582.9 708.1L583.9 706.9L584.8 710.4L585.8 709.2L586.8 711.1L587.8 712.1L588.8 712.2L589.7 712.9L590.7 712.6L591.7 711.6L592.7 712.6L593.7 712.8L594.6 711.6L595.6 710.7L596.6 711.2L597.6 711.7L598.6 711.7L599.6 712.4L600.6 712.4L601.5 712.7L602.5 711.6L603.5 714.3L604.5 713.2L605.5 713.7L606.5 713.1L607.5 713.2L608.5 713.3L609.5 714.2L610.5 714.3L611.5 714.0L612.5 715.1L613.5 714.1L614.5 715.0L615.5 714.8L616.5 716.0L617.5 715.3L618.5 715.8L619.5 716.1L620.5 713.7L621.5 715.9L622.5 714.6L623.5 714.1L624.5 713.3L625.5 714.4L626.5 713.6L627.5 715.3L628.5 715.5L629.5 717.0L630.5 715.9L631.5 716.8L632.5 716.8L633.4 717.1L634.4 715.6L635.4 715.9L636.4 714.4L637.4 714.4L638.4 714.7L639.4 714.8L640.4 714.2L641.4 714.9L642.4 715.7L643.4 715.3L644.4 715.7L645.4 715.5L646.4 717.0L647.4 717.4L648.3 716.7L649.3 716.7L650.3 717.9L651.3 717.4L652.3 716.9L653.3 716.7L654.3 717.3L655.3 719.1L656.3 717.8L657.3 719.9L658.3 718.4L659.3 718.5L660.3 719.4L661.3 718.5L662.3 718.8L663.3 718.0L664.3 717.8L665.3 718.0L666.3 718.5L667.3 718.0L668.3 717.3L669.2 718.8L670.2 718.6L671.2 718.8L672.2 718.9L673.2 718.3L674.2 720.7L675.2 719.8L676.2 720.5L677.2 721.1L678.2 721.1L679.2 720.6L680.2 720.5L681.2 720.8L682.2 721.3L683.2 721.2L684.2 720.9L685.2 721.6L686.2 721.9L687.2 722.3L688.2 722.2L689.2 723.0L690.2 722.3L691.2 722.6L692.2 721.9L693.2 721.3L694.2 720.7L695.2 720.7L696.2 720.7L697.2 720.7L698.2 719.7L699.2 719.3L700.2 719.2L701.2 720.1L702.2 719.5L703.2 719.3L704.2 720.2L705.2 719.4L706.2 720.6L707.2 720.9L708.2 721.3L709.2 721.2L710.2 722.9L711.2 723.6L712.2 722.2L713.2 723.1L714.2 723.4L715.2 724.2L716.2 722.5L717.2 722.0L718.2 722.3L719.2 723.3L720.2 722.1L721.2 722.1L722.2 723.0L723.2 720.9L724.2 721.0L725.2 723.0L726.2 723.1L727.2 722.1L728.2 723.4L729.2 723.4L730.2 723.8L731.2 723.5L732.2 723.9L733.2 723.7L734.2 724.2L735.2 723.8L736.2 724.6L737.2 723.7L738.2 722.1L739.2 723.0L740.2 723.4L741.2 722.7L742.2 723.1L743.2 722.6L744.2 723.2L745.2 722.4L746.2 723.6L747.2 722.6L748.2 724.3L749.2 723.0L750.2 722.8L751.2 724.5L752.2 724.3L753.2 724.6L754.2 724.9L755.2 724.7L756.2 724.2L757.2 724.8L758.2 724.8L759.2 724.7L760.2 725.5L761.2 723.9L762.2 724.4L763.2 724.8L764.2 724.3L765.2 724.0L766.2 724.4L767.2 725.3L768.2 724.4L769.2 724.7L770.2 723.8L771.2 724.2L772.2 723.4L773.2 723.1L774.2 723.6L775.2 723.5L776.2 724.3L777.2 722.7L778.2 724.1L779.2 724.9L780.2 725.0L781.2 724.3L782.2 724.4L783.2 724.8L784.2 725.5L785.2 725.6L786.2 725.7L787.2 725.8L788.2 724.7L789.2 724.4L790.2 724.0L791.2 723.6L792.2 724.0L793.2 724.1L794.2 725.2L795.2 724.0L796.2 723.6L797.2 724.4L798.2 723.1L799.2 723.6L800.2 723.9L801.2 723.7L802.2 723.4L803.2 722.9L804.2 722.5L805.2 723.4L806.2 723.5L807.2 724.7L808.2 724.8L809.2 725.7L810.2 724.9L811.2 726.6L812.2 725.7L813.2 725.3L814.2 725.3L815.2 725.6L816.2 726.4L817.2 725.9L818.2 724.6L819.2 725.1L820.2 724.8L821.2 723.8L822.2 724.0L823.2 723.3L824.2 723.9L825.2 722.8L826.2 723.8L827.2 723.6L828.1 723.7L829.1 723.6L830.1 724.7L831.1 723.8L832.1 724.0L833.1 724.2L834.1 724.2L835.1 724.0L836.1 723.2L837.1 722.7L838.1 722.7L839.1 722.6L840.1 722.7L841.1 722.3L842.1 722.7L843.1 721.7L844.1 722.5L845.1 721.8L846.1 720.8L847.1 721.4L848.1 719.2L849.1 721.7L850.1 721.4L851.1 721.7L852.1 720.9L853.1 723.6L854.1 722.4L855.1 722.7L856.1 723.5L857.1 722.8L858.1 722.2L859.1 722.8L860.1 721.5L861.1 722.1L862.1 721.5L863.1 721.8L864.1 720.4L865.1 721.9L866.1 721.5L867.1 722.7L868.1 721.5L869.1 723.2L870.1 722.9L871.1 723.2L872.1 722.5L873.1 723.4L874.1 723.5L875.0 722.6L876.0 722.4L877.0 722.7L878.0 723.9L879.0 723.1L880.0 723.5L881.0 723.0L882.0 722.7L883.0 722.5L884.0 721.8L884.9 722.3L885.9 721.3L886.9 720.8L887.9 719.4L888.9 720.0L889.9 719.2L890.9 719.1L891.8 719.8L892.8 718.4L893.8 718.7L894.8 719.0L895.8 719.1L896.8 717.9L897.8 718.1L898.7 717.7L899.7 716.5L900.7 715.6L901.7 715.3L902.7 716.5L903.7 716.1L904.6 715.2L905.6 715.6L906.6 715.7L907.6 715.7L908.6 715.8L909.5 716.9L910.5 715.0L911.5 715.2L912.5 714.3L913.5 714.0L914.4 713.4L915.4 713.5L916.4 713.0L917.4 713.3L918.4 713.1L919.3 712.4L920.3 714.0L921.3 712.2L922.3 712.9L923.3 713.8L924.3 712.0L925.2 712.9L926.2 712.7L927.2 711.8L928.2 710.3L929.2 711.9L930.2 711.0L931.2 710.6L932.2 711.6L933.1 710.6L934.1 711.6L935.1 710.7L936.1 711.3L937.1 710.4L938.1 710.8L939.1 710.4L940.1 710.5L941.1 710.9L942.1 710.6L943.1 710.7L944.0 711.2L945.0 710.3L946.0 709.1L947.0 709.6L948.0 709.4L949.0 709.5L950.0 709.0L951.0 708.5L952.0 707.4L953.0 707.5L953.9 706.1L954.9 707.5L955.9 706.9L956.9 706.9L957.9 706.3L958.9 706.5L959.9 706.0L960.9 706.5L961.8 705.3L962.8 706.4L963.8 706.1L964.8 706.8L965.8 705.6L966.8 705.5L967.8 705.6L968.8 705.4L969.7 705.1L970.7 704.2L971.7 703.7L972.7 703.6L973.7 703.2L974.6 702.2L975.6 701.7L976.6 701.9L977.6 702.2L978.6 701.5L979.5 701.8L980.5 701.9L981.5 701.8L982.4 701.1L983.4 701.1L984.4 700.3L985.3 701.0L986.3 701.5L987.2 700.6L988.2 701.8L989.1 701.7L990.1 700.4L991.1 700.8L992.0 699.1L993.0 698.9L993.9 698.9L994.8 698.7L995.8 698.2L996.7 697.5L997.7 698.9L998.6 697.8L999.6 697.6L1000.5 697.7L1001.4 697.2L1002.4 696.8L1003.3 696.3L1004.3 695.4L1005.2 696.8L1006.1 695.1L1007.1 694.2L1008.0 694.2L1008.9 693.2L1009.9 694.6L1010.8 693.2L1011.7 693.2L1012.6 692.8L1013.6 691.8L1014.5 691.4L1015.4 690.3L1016.3 690.4L1017.3 689.9L1018.2 690.1L1019.1 689.5L1020.0 690.4L1020.9 689.9L1021.9 689.2L1022.8 688.1L1023.7 689.1L1024.6 688.9L1025.5 687.9L1026.4 686.8L1027.3 687.2L1028.2 687.0L1029.2 684.8L1030.1 685.6L1031.0 683.7L1031.9 684.3L1032.8 684.8L1033.7 683.5L1034.6 683.4L1035.5 682.7L1036.4 682.6L1037.3 683.6L1038.2 682.5L1039.1 681.0L1040.0 680.2L1040.9 679.8L1041.7 680.3L1042.6 678.6L1043.5 678.6L1044.4 677.3L1045.3 676.5L1046.2 677.7L1047.1 676.7L1047.9 676.0L1048.8 675.8L1049.7 675.4L1050.6 674.8L1051.4 673.7L1052.3 674.5L1053.2 673.3L1054.1 672.9L1054.9 671.5L1055.8 671.3L1056.7 670.6L1057.5 670.6L1058.4 669.8L1059.3 669.0L1060.2 667.9L1061.0 667.0L1061.9 666.7L1062.8 666.2L1063.7 665.8L1064.5 665.0L1065.4 666.2L1066.3 665.1L1067.2 663.5L1068.0 663.7L1068.9 663.2L1069.8 663.7L1070.7 663.7L1071.6 662.1L1072.5 662.4L1073.3 661.3L1074.2 661.3L1075.1 660.7L1076.0 659.3L1076.9 658.7L1077.8 657.5L1078.7 656.5L1079.6 655.4L1080.4 655.6L1081.3 654.8L1082.2 654.1L1083.1 653.9L1084.0 653.5L1084.9 652.8L1085.7 652.7L1086.6 653.3L1087.5 652.2L1088.4 652.8L1089.2 651.0L1090.1 650.5L1091.0 650.9L1091.8 650.8L1092.7 649.6L1093.6 650.0L1094.4 649.9L1095.3 649.8L1096.1 648.9L1096.9 648.6L1097.8 647.4L1098.6 647.9L1099.5 647.5L1100.3 647.5L1101.1 645.3L1102.0 644.8L1102.8 644.0L1103.6 644.3L1104.4 641.7L1105.2 641.9L1106.1 643.2L1106.9 642.0L1107.7 640.4L1108.5 640.6L1109.3 640.6L1110.1 639.8L1111.0 638.8L1111.8 638.0L1112.6 638.4L1113.4 637.5L1114.2 637.5L1115.0 636.9L1115.8 636.0L1116.6 636.6L1117.4 635.1L1118.2 635.0L1119.0 633.8L1119.9 633.2L1120.7 632.3L1121.5 631.2L1122.3 630.8L1123.1 630.6L1123.9 630.1L1124.7 629.2L1125.5 627.6L1126.4 627.8L1127.2 626.6L1128.0 626.7L1128.8 624.4L1129.6 625.4L1130.5 623.9L1131.3 624.5L1132.1 623.3L1132.9 623.8L1133.8 622.8L1134.6 621.5L1135.4 621.6L1136.2 621.5L1137.0 621.1L1137.8 619.1L1138.7 618.9L1139.5 618.4L1140.3 617.9L1141.1 617.4L1141.9 616.1L1142.7 615.1L1143.5 615.4L1144.2 614.4L1145.0 614.3L1145.8 612.7L1146.6 612.6L1147.4 610.9L1148.1 610.7L1148.9 609.9L1149.6 609.4L1150.4 608.0L1151.1 607.9L1151.8 607.0L1152.6 606.8L1153.3 606.6L1154.0 607.2L1154.7 604.9L1155.4 604.4L1156.1 603.3L1156.8 603.0L1157.5 601.9L1158.2 601.5L1158.8 600.5L1159.5 600.9L1160.2 599.7L1160.9 597.4L1161.5 597.9L1162.2 597.0L1162.9 595.0L1163.5 594.9L1164.2 594.3L1164.8 593.2L1165.5 592.8L1166.2 590.8L1166.8 591.5L1167.5 590.8L1168.2 590.0L1168.8 589.2L1169.5 588.9L1170.2 588.2L1170.8 588.6L1171.5 587.7L1172.2 588.0L1172.9 586.0L1173.6 586.4L1174.3 584.5L1174.9 583.9L1175.6 582.6L1176.3 582.7L1177.0 581.6L1177.7 581.2L1178.4 581.0L1179.1 579.6L1179.8 579.2L1180.5 579.0L1181.2 577.8L1181.9 576.9L1182.6 576.7L1183.3 575.9L1184.1 575.1L1184.8 574.1L1185.5 572.3L1186.2 571.9L1186.9 571.3L1187.6 569.5L1188.3 569.1L1189.0 567.8L1189.8 567.6L1190.5 567.8L1191.2 566.4L1191.9 565.2L1192.7 565.4L1193.4 564.7L1194.1 564.6L1194.9 562.7L1195.6 562.3L1196.4 562.2L1197.1 560.8L1197.9 561.6L1198.7 559.2L1199.5 559.3L1200.3 558.3L1201.1 558.1L1201.9 558.2L1202.7 557.4L1203.5 556.8L1204.4 556.0L1205.2 553.8L1206.0 554.4L1206.8 552.6L1207.6 552.7L1208.4 552.1L1209.3 551.5L1210.0 551.6L1210.8 550.5L1211.6 551.5L1212.4 550.4L1213.1 550.2L1213.9 549.3L1214.6 548.6L1215.3 547.2L1216.0 547.3L1216.7 544.5L1217.3 544.2L1218.0 542.9L1218.6 541.7L1219.2 541.0L1219.8 539.6L1220.4 539.8L1221.0 539.2L1221.6 538.3L1222.2 538.1L1222.7 536.5L1223.3 535.4L1223.9 535.4L1224.4 534.8L1225.0 535.6L1225.5 533.3L1226.1 533.2L1226.6 532.4L1227.2 532.4L1227.7 530.6L1228.3 530.2L1228.8 529.1L1229.3 528.1L1229.8 527.3L1230.3 526.6L1230.8 526.9L1231.3 525.4L1231.8 524.2L1232.3 523.3L1232.8 521.9L1233.3 521.1L1233.9 520.0L1234.4 519.2L1234.9 518.2L1235.5 515.8L1236.0 515.9L1236.6 515.7L1237.2 513.6L1237.8 513.3L1238.5 512.8L1239.1 512.7L1239.8 512.0L1240.5 511.1L1241.3 511.1L1242.0 510.9L1242.8 510.1L1243.6 510.4L1244.3 509.0L1245.1 507.5L1245.9 507.0L1246.7 506.6L1247.5 505.8L1248.3 505.5L1249.0 504.6L1249.8 504.5L1250.6 503.3L1251.4 503.0L1252.2 501.1L1253.1 500.7L1253.9 500.7L1254.7 499.8L1255.6 499.5L1256.4 498.8L1257.3 497.8L1258.1 498.5L1259.0 497.7L1259.8 495.6L1260.7 495.6L1261.6 495.4L1262.5 495.3L1263.4 494.4L1264.2 493.2L1265.1 494.0L1266.0 493.0L1267.0 493.4L1267.9 492.5L1268.8 492.4L1269.7 491.8L1270.6 491.2L1271.5 489.8L1272.5 490.0L1273.4 489.0L1274.3 487.8L1275.3 487.9L1276.2 487.8L1277.1 488.1L1278.1 488.2L1279.0 487.2L1280.0 488.3L1280.9 487.8L1281.8 487.2L1282.8 488.0L1283.7 486.8L1284.7 486.1L1285.7 486.8L1286.6 486.4L1287.6 485.1L1288.6 485.6L1289.5 485.1L1290.5 483.8L1291.5 484.7L1292.4 483.2L1293.4 482.9L1294.4 481.0L1295.4 482.2L1296.4 481.1L1297.3 481.3L1298.3 479.8L1299.3 481.1L1300.3 481.1L1301.3 481.2L1302.2 478.5L1303.2 480.5L1304.2 480.4L1305.2 478.6L1306.2 480.0L1307.2 480.5L1308.2 481.6L1309.2 480.7L1310.2 481.6L1311.2 481.8L1312.2 482.3L1313.2 482.1L1314.2 483.0L1315.2 483.1L1316.2 481.8L1317.2 483.1L1318.2 481.9L1319.2 481.9L1320.2 482.5L1321.2 481.6L1322.2 481.6L1323.2 481.5L1324.2 481.2L1325.2 480.4L1326.2 480.1L1327.2 481.0L1328.2 481.2L1329.2 481.1L1330.2 481.0L1331.2 481.9L1332.2 481.6L1333.2 481.0L1334.2 482.0L1335.2 482.2L1336.2 482.3L1337.2 481.4L1338.2 481.4L1339.2 482.0L1340.2 481.6L1341.2 481.8L1342.2 482.3L1343.2 481.9L1344.2 482.5L1345.2 481.4L1346.2 481.9L1347.2 481.3L1348.2 481.8L1349.2 480.1L1350.2 479.8L1351.2 480.4L1352.2 479.2L1353.2 479.2L1354.2 479.6L1355.2 479.7L1356.2 478.7L1357.2 479.6L1358.2 479.4L1359.2 479.6L1360.2 479.8L1361.2 479.7L1362.2 480.6L1363.2 480.5L1364.2 480.3L1365.2 480.5L1366.2 481.1L1367.2 480.8L1368.2 481.0L1369.2 480.1L1370.2 480.1L1371.2 481.1L1372.2 480.0L1373.2 481.1L1374.2 481.0L1375.2 480.6L1376.2 480.5L1377.2 482.1L1378.2 481.8L1379.2 482.1L1380.2 481.6L1381.2 483.2L1382.1 482.6L1383.1 482.5L1384.1 482.7L1385.1 482.8L1386.1 482.9L1387.1 483.5L1388.1 483.5L1389.1 482.8L1390.1 485.1L1391.1 485.4L1392.1 485.6L1393.1 486.7L1394.1 485.2L1395.1 484.4L1396.1 486.6L1397.1 485.8L1398.1 484.5L1399.1 485.0L1400.1 485.4L1401.1 484.3L1402.1 485.3L1403.1 486.2L1404.1 485.9L1405.1 485.3L1406.1 485.6L1407.1 485.1L1408.1 485.8L1409.1 485.7L1410.1 485.3L1411.0 485.1L1412.0 486.8L1413.0 485.8L1414.0 485.1L1415.0 485.4L1416.0 486.5" stroke="#ff0000" stroke-width="10" fill="none" stroke-linejoin="round" stroke-linecap="round"/>
<path d="M16.0 585.3L17.0 585.6L18.0 585.9L19.0 586.6L20.0 585.2L21.0 585.9L22.0 585.5L23.0 584.7L24.0 584.3L25.0 585.3L26.0 584.6L27.0 584.1L28.0 584.1L29.0 584.5L30.0 583.9L31.0 584.8L32.0 583.9L33.0 583.8L34.0 584.4L35.0 584.1L36.0 584.6L37.0 585.5L38.0 585.8L39.0 585.1L40.0 584.7L41.0 584.0L42.0 583.9L43.0 584.6L44.0 584.4L45.0 583.9L46.0 583.9L47.0 584.9L48.0 584.5L49.0 584.0L50.0 584.1L51.0 584.6L52.0 584.1L53.0 584.1L54.0 583.1L55.0 583.1L56.0 583.1L57.0 582.9L58.0 584.2L59.0 584.3L60.0 583.6L61.0 584.1L62.0 583.9L63.0 583.4L64.0 582.5L65.0 583.9L66.0 583.8L67.0 582.7L68.0 584.0L69.0 582.9L70.0 582.3L71.0 582.3L72.0 581.3L73.0 581.9L73.9 581.0L74.9 582.3L75.9 581.7L76.9 580.8L77.9 581.9L78.9 580.7L79.9 581.8L80.9 582.1L81.9 582.1L82.9 581.6L83.9 582.2L84.9 582.2L85.9 582.4L86.9 583.1L87.9 583.1L89.0 583.0L90.0 581.7L91.0 581.7L92.0 582.3L93.0 582.7L94.0 581.5L95.0 582.5L96.0 583.9L97.0 582.3L98.0 582.6L99.0 582.5L100.0 582.9L101.0 582.2L102.0 581.7L103.0 580.6L104.0 581.4L105.0 580.8L106.0 580.4L107.0 580.8L108.0 581.3L108.9 580.1L109.9 580.1L110.9 580.4L111.9 580.4L112.9 579.2L113.9 580.6L114.8 581.6L115.8 580.9L116.8 581.7L117.8 579.6L118.7 581.1L119.7 582.0L120.7 582.3L121.6 581.3L122.6 581.3L123.6 582.3L124.5 581.7L125.5 582.5L126.5 582.2L127.4 583.6L128.4 584.0L129.4 585.3L130.4 584.9L131.3 584.6L132.3 585.1L133.3 584.7L134.3 585.5L135.3 585.5L136.3 586.0L137.3 586.3L138.2 584.6L139.2 585.7L140.2 585.7L141.2 584.2L142.2 585.4L143.2 583.5L144.2 584.8L145.2 583.4L146.2 583.0L147.2 582.3L148.2 582.5L149.2 581.3L150.2 581.4L151.2 580.8L152.2 582.3L153.2 581.7L154.2 582.6L155.2 582.7L156.2 581.6L157.2 582.8L158.2 582.5L159.2 582.4L160.2 582.4L161.2 582.0L162.2 581.9L163.2 582.2L164.2 580.8L165.2 580.4L166.2 580.4L167.2 581.2L168.2 580.2L169.2 581.2L170.2 578.2L171.2 579.4L172.2 579.5L173.2 580.0L174.2 580.7L175.2 580.0L176.2 579.8L177.2 581.1L178.2 581.8L179.2 579.7L180.2 581.7L181.2 581.7L182.2 581.2L183.2 581.5L184.2 582.0L185.2 581.9L186.1 581.8L187.1 581.4L188.1 582.2L189.1 581.8L190.1 582.3L191.1 582.1L192.1 582.6L193.1 583.1L194.1 582.9L195.1 583.2L196.1 582.2L197.1 583.3L198.1 583.2L199.1 582.8L200.1 583.2L201.1 581.8L202.1 583.6L203.1 583.5L204.1 582.6L205.1 584.3L206.1 583.8L207.1 584.4L208.1 584.3L209.1 585.0L210.1 585.0L211.1 585.0L212.1 585.6L213.1 585.9L214.1 584.2L215.1 585.5L216.1 585.2L217.1 584.9L218.1 586.2L219.1 585.8L220.1 584.5L221.1 584.1L222.1 584.7L223.1 583.5L224.1 583.1L225.1 581.7L226.1 582.2L227.1 582.5L228.1 581.2L229.1 581.1L230.1 581.9L231.1 581.4L232.0 581.6L233.0 581.2L234.0 581.5L235.0 579.8L236.0 580.3L237.0 579.8L238.0 582.0L239.0 581.0L240.0 580.9L241.0 580.7L242.0 580.8L243.0 580.0L244.0 582.9L245.0 581.8L246.0 581.9L247.0 581.1L248.0 581.8L249.0 582.0L250.0 581.6L250.9 581.7L251.9 580.7L252.9 581.0L253.9 581.0L254.9 580.5L255.9 580.1L256.9 579.5L257.9 578.7L258.9 579.3L259.9 578.5L260.8 578.0L261.8 578.8L262.8 577.3L263.8 577.7L264.8 578.2L265.8 578.2L266.8 577.3L267.8 577.3L268.8 577.3L269.7 576.7L270.7 576.1L271.7 576.5L272.7 576.1L273.7 575.9L274.7 576.3L275.7 575.9L276.7 575.5L277.7 575.9L278.7 576.9L279.7 575.4L280.6 575.6L281.6 575.2L282.6 575.6L283.6 574.4L284.6 575.0L285.6 575.0L286.6 574.0L287.6 574.0L288.6 573.7L289.6 574.7L290.6 574.3L291.6 574.8L292.6 575.0L293.6 575.0L294.6 575.9L295.6 576.2L296.6 574.0L297.6 574.5L298.6 574.8L299.6 573.8L300.6 573.9L301.6 574.2L302.6 574.6L303.6 574.3L304.6 573.3L305.6 573.4L306.5 573.0L307.5 573.0L308.5 572.3L309.5 571.8L310.5 572.4L311.5 573.0L312.5 572.6L313.5 570.9L314.5 571.7L315.5 571.3L316.5 571.8L317.5 571.0L318.5 572.1L319.5 571.5L320.5 571.9L321.5 572.1L322.5 570.6L323.4 571.6L324.4 572.6L325.4 571.8L326.4 572.4L327.4 572.1L328.4 571.7L329.4 572.1L330.4 572.4L331.3 572.4L332.3 572.2L333.3 570.5L334.3 571.1L335.2 569.4L336.2 569.6L337.2 569.2L338.2 569.3L339.1 568.9L340.1 569.2L341.1 568.0L342.1 568.6L343.0 568.1L344.0 567.6L345.0 566.6L345.9 567.1L346.9 566.5L347.9 566.3L348.8 565.3L349.8 564.8L350.7 564.7L351.7 564.4L352.7 564.2L353.6 564.6L354.6 563.0L355.5 564.1L356.5 561.1L357.4 562.9L358.4 561.6L359.3 562.9L360.3 561.1L361.2 562.0L362.1 560.7L363.1 560.4L364.0 561.2L364.9 560.8L365.9 559.6L366.8 560.8L367.8 558.7L368.7 559.2L369.6 557.1L370.6 556.6L371.5 556.6L372.4 555.5L373.4 555.9L374.3 554.1L375.2 555.0L376.2 554.4L377.1 553.9L378.0 554.3L378.9 553.8L379.8 553.4L380.7 553.8L381.6 553.2L382.5 552.9L383.4 553.0L384.2 551.8L385.1 551.7L386.0 550.5L386.8 550.3L387.7 549.5L388.5 548.2L389.3 547.0L390.1 546.5L390.9 546.0L391.7 546.3L392.5 545.5L393.3 545.0L394.1 545.1L394.9 544.9L395.6 544.9L396.4 543.4L397.2 543.6L397.9 543.1L398.7 541.5L399.4 541.4L400.2 540.0L400.9 539.6L401.7 539.2L402.4 537.2L403.1 536.9L403.9 536.2L404.6 535.9L405.3 534.7L406.1 534.6L406.8 533.3L407.6 532.7L408.3 532.6L409.0 531.6L409.8 530.7L410.5 529.7L411.3 529.3L412.1 528.7L412.8 526.9L413.6 526.0L414.3 525.3L415.1 526.3L415.9 524.5L416.7 523.9L417.5 524.4L418.3 524.5L419.0 522.9L419.8 523.1L420.6 521.8L421.4 521.6L422.2 522.1L423.0 520.5L423.8 519.4L424.6 518.6L425.4 517.8L426.2 516.7L427.0 515.2L427.8 514.4L428.6 515.4L429.4 513.2L430.2 513.7L431.1 512.2L431.9 512.9L432.7 512.1L433.6 511.2L434.4 511.9L435.3 509.9L436.1 509.8L437.0 508.9L437.9 508.4L438.7 508.1L439.6 507.1L440.5 506.8L441.4 507.2L442.3 504.7L443.1 504.3L444.0 503.8L444.9 503.5L445.8 503.7L446.8 503.2L447.7 502.7L448.6 502.5L449.5 503.6L450.4 501.7L451.4 501.7L452.3 502.3L453.2 502.3L454.2 501.9L455.1 501.3L456.1 500.7L457.0 500.8L458.0 500.1L459.0 499.8L460.0 499.1L461.0 500.2L462.0 499.5L463.0 500.2L464.0 499.0L465.0 499.4L466.0 499.4L467.0 499.7L468.1 499.6L469.1 499.7L470.1 498.7L471.1 499.6L472.1 500.0L473.1 498.5L474.1 499.3L475.1 499.7L476.1 500.1L477.1 499.3L478.1 499.7L479.1 500.5L480.1 500.3L481.1 499.4L482.1 499.3L483.1 500.3L484.1 500.0L485.2 499.7L486.2 500.1L487.1 500.7L488.1 500.8L489.1 501.2L490.1 501.6L491.1 501.4L492.1 503.5L493.0 503.6L494.0 504.1L495.0 503.3L495.9 503.6L496.9 503.9L497.8 504.1L498.7 502.6L499.7 503.9L500.6 503.3L501.5 504.0L502.5 503.9L503.4 505.6L504.3 505.5L505.2 505.8L506.1 507.3L507.0 507.2L508.0 507.4L508.9 508.3L509.8 508.6L510.7 509.2L511.6 509.9L512.5 509.6L513.4 509.8L514.4 510.6L515.3 510.4L516.2 511.0L517.1 510.8L518.1 510.3L519.0 510.8L519.9 510.8L520.8 512.7L521.7 512.6L522.7 512.3L523.6 512.3L524.5 513.4L525.4 513.5L526.3 514.2L527.3 514.1L528.2 514.6L529.1 516.7L530.0 516.0L531.0 517.1L531.9 518.4L532.8 517.2L533.8 518.9L534.7 518.9L535.6 519.1L536.6 519.6L537.5 519.2L538.4 519.0L539.3 521.6L540.3 520.9L541.2 522.1L542.2 522.9L543.1 523.1L544.0 523.8L545.0 524.5L545.9 525.4L546.9 525.1L547.8 525.7L548.8 525.0L549.7 525.0L550.7 525.2L551.6 525.4L552.6 525.4L553.6 526.2L554.6 525.6L555.5 525.3L556.5 526.4L557.5 525.6L558.5 525.7L559.5 525.8L560.5 525.3L561.5 524.7L562.5 525.2L563.5 524.7L564.5 524.2L565.5 524.6L566.5 524.3L567.5 523.9L568.5 523.2L569.6 524.0L570.6 525.0L571.6 524.5L572.6 524.7L573.6 524.1L574.6 524.7L575.6 523.7L576.6 523.8L577.6 524.2L578.5 523.1L579.5 523.9L580.5 524.0L581.5 524.7L582.5 523.3L583.5 523.8L584.5 522.9L585.5 522.6L586.4 521.0L587.4 521.5L588.4 522.2L589.4 521.4L590.4 520.8L591.4 521.8L592.3 520.5L593.3 519.3L594.3 519.7L595.3 519.7L596.3 520.5L597.3 519.1L598.2 519.8L599.2 520.1L600.2 519.0L601.2 519.4L602.2 518.2L603.1 519.1L604.1 517.6L605.1 518.2L606.1 518.9L607.1 517.7L608.0 517.1L609.0 516.8L610.0 517.6L611.0 516.7L612.0 517.0L612.9 516.2L613.9 516.3L614.9 516.1L615.9 516.5L616.9 516.2L617.9 517.0L618.8 516.6L619.8 515.9L620.8 515.3L621.8 513.7L622.8 514.5L623.8 514.7L624.7 514.6L625.7 512.3L626.7 512.4L627.7 513.6L628.7 512.7L629.6 512.9L630.6 512.5L631.6 512.8L632.6 511.3L633.6 511.8L634.5 512.3L635.5 511.6L636.5 510.7L637.5 511.1L638.5 510.8L639.4 509.8L640.4 510.4L641.4 510.1L642.4 509.4L643.3 509.9L644.3 508.6L645.3 509.7L646.3 509.2L647.2 508.8L648.2 509.0L649.2 509.9L650.2 508.9L651.1 508.9L652.1 508.6L653.1 508.4L654.1 509.2L655.0 509.8L656.0 509.2L657.0 508.7L658.0 508.7L658.9 507.9L659.9 507.6L660.9 506.8L661.9 507.7L662.8 506.1L663.8 505.3L664.8 504.6L665.8 504.4L666.8 503.4L667.7 503.2L668.7 502.8L669.7 503.2L670.7 501.6L671.7 502.4L672.7 501.8L673.6 502.0L674.6 503.2L675.6 502.7L676.6 502.2L677.6 502.7L678.6 502.4L679.6 503.1L680.6 502.2L681.6 502.7L682.5 502.3L683.5 502.4L684.5 502.4L685.5 502.2L686.5 502.7L687.5 503.2L688.5 502.3L689.5 502.3L690.5 502.5L691.4 501.6L692.4 502.1L693.4 501.6L694.4 499.5L695.4 499.9L696.3 499.1L697.3 499.7L698.3 499.4L699.3 497.9L700.2 497.9L701.2 498.0L702.2 497.7L703.2 498.0L704.1 497.9L705.1 497.4L706.1 497.4L707.0 497.0L708.0 496.2L709.0 495.8L710.0 495.6L710.9 496.4L711.9 496.5L712.9 496.6L713.8 495.9L714.8 495.8L715.8 496.1L716.7 496.6L717.7 495.9L718.7 495.6L719.6 494.7L720.6 495.0L721.6 494.7L722.5 493.6L723.5 494.7L724.5 492.9L725.4 493.5L726.4 492.5L727.4 492.3L728.3 491.4L729.3 491.1L730.3 491.4L731.2 490.6L732.2 490.1L733.2 490.4L734.1 490.0L735.1 489.4L736.1 489.2L737.0 489.8L738.0 488.6L739.0 488.6L739.9 488.3L740.9 487.1L741.9 486.5L742.8 487.4L743.8 487.6L744.8 487.0L745.7 486.4L746.7 486.1L747.7 486.7L748.6 485.9L749.6 485.0L750.6 486.0L751.5 485.5L752.5 485.3L753.5 485.3L754.5 485.1L755.4 484.4L756.4 483.8L757.4 482.5L758.4 483.7L759.3 483.3L760.3 483.9L761.3 483.8L762.3 483.2L763.2 483.5L764.2 482.6L765.2 482.5L766.2 481.9L767.1 482.0L768.1 482.0L769.1 482.1L770.1 480.8L771.0 481.4L772.0 481.9L773.0 479.7L773.9 480.2L774.9 480.2L775.9 480.7L776.9 481.1L777.8 480.7L778.8 479.9L779.8 479.2L780.8 479.3L781.7 478.8L782.7 478.4L783.7 477.2L784.6 478.1L785.6 476.5L786.6 477.0L787.5 476.7L788.5 475.9L789.5 476.4L790.4 476.4L791.4 476.2L792.3 476.6L793.3 475.8L794.2 477.2L795.2 476.1L796.1 474.8L797.1 473.7L798.0 475.6L799.0 474.9L799.9 474.7L800.8 474.0L801.8 473.6L802.7 473.0L803.7 475.0L804.6 473.9L805.5 472.1L806.5 472.7L807.4 470.0L808.3 470.6L809.2 469.8L810.2 468.3L811.1 467.8L812.0 466.8L813.0 466.9L813.9 467.1L814.8 466.6L815.7 466.0L816.6 466.3L817.6 464.6L818.5 466.6L819.4 465.5L820.3 464.7L821.2 465.1L822.2 464.8L823.1 464.9L824.0 464.5L824.9 462.4L825.8 463.7L826.7 463.2L827.6 461.0L828.5 461.7L829.4 460.9L830.3 460.3L831.2 460.2L832.1 458.2L833.0 459.0L833.9 457.8L834.8 459.5L835.7 457.4L836.6 457.0L837.5 457.9L838.4 457.2L839.3 456.3L840.2 455.9L841.1 455.6L842.0 455.8L842.9 453.9L843.8 453.5L844.7 453.1L845.6 452.8L846.5 452.4L847.4 451.2L848.3 451.5L849.2 450.2L850.1 450.1L851.1 449.6L852.0 449.1L852.9 449.5L853.8 449.2L854.7 448.5L855.7 448.6L856.6 447.5L857.5 448.3L858.5 447.3L859.4 447.3L860.3 447.1L861.3 445.9L862.2 445.9L863.1 445.7L864.1 445.5L865.0 444.6L866.0 443.6L866.9 442.9L867.8 443.1L868.8 442.1L869.7 441.9L870.6 442.3L871.6 442.4L872.5 441.7L873.4 441.0L874.4 441.9L875.3 441.9L876.2 440.8L877.1 440.4L878.0 438.8L878.9 440.2L879.8 438.6L880.7 439.1L881.6 438.0L882.5 437.8L883.4 437.3L884.3 435.9L885.2 437.8L886.1 434.7L887.0 434.8L887.8 433.6L888.7 433.1L889.6 433.4L890.5 431.1L891.3 431.6L892.2 431.5L893.1 431.0L894.0 430.8L894.8 429.8L895.7 428.9L896.6 428.6L897.4 428.6L898.3 428.6L899.2 427.6L900.1 427.7L900.9 426.2L901.8 425.7L902.7 425.2L903.5 423.7L904.4 424.6L905.3 423.4L906.2 423.6L907.0 424.9L907.9 422.6L908.8 422.9L909.7 422.4L910.5 421.6L911.4 420.8L912.3 419.6L913.2 420.0L914.1 416.9L914.9 416.6L915.8 417.3L916.7 416.3L917.6 415.3L918.5 415.1L919.3 415.5L920.2 417.1L921.1 415.8L922.0 414.8L922.8 415.2L923.7 414.3L924.6 415.0L925.5 413.8L926.4 413.9L927.2 412.8L928.1 413.4L929.0 412.2L929.8 411.8L930.7 410.8L931.6 410.8L932.5 410.9L933.3 409.8L934.2 410.7L935.1 408.4L935.9 406.9L936.8 406.8L937.7 404.9L938.5 404.4L939.4 403.3L940.3 402.3L941.2 402.9L942.0 401.8L942.9 402.2L943.8 401.2L944.6 400.5L945.5 400.5L946.4 400.7L947.2 400.7L948.1 400.6L949.0 400.6L949.8 399.2L950.7 399.6L951.6 398.3L952.4 398.0L953.3 399.2L954.1 397.9L955.0 396.3L955.8 396.9L956.7 396.2L957.5 395.3L958.4 395.1L959.2 393.5L960.1 393.0L960.9 391.9L961.7 391.9L962.6 390.0L963.4 389.6L964.2 389.3L965.1 387.9L965.9 387.6L966.7 387.7L967.5 385.6L968.4 386.4L969.2 384.8L970.0 384.2L970.8 384.3L971.6 384.2L972.4 382.6L973.3 381.9L974.1 381.3L974.9 380.5L975.7 380.4L976.5 379.3L977.3 379.0L978.1 378.9L978.9 378.1L979.7 378.5L980.5 377.1L981.3 376.5L982.1 377.5L982.9 376.7L983.6 375.2L984.4 375.0L985.2 374.1L986.0 373.0L986.8 373.1L987.5 372.3L988.3 372.4L989.1 370.2L989.9 371.2L990.6 370.4L991.4 369.3L992.1 368.9L992.9 368.2L993.6 367.0L994.4 366.8L995.1 366.9L995.9 365.1L996.6 365.1L997.3 363.4L998.1 363.8L998.8 363.7L999.5 362.8L1000.2 362.3L1001.0 360.9L1001.7 361.2L1002.4 359.6L1003.1 359.9L1003.8 358.8L1004.5 357.7L1005.2 358.0L1006.0 356.2L1006.7 356.2L1007.4 354.9L1008.1 354.0L1008.8 353.7L1009.5 352.6L1010.2 351.5L1011.0 350.6L1011.7 350.0L1012.4 349.1L1013.1 348.1L1013.8 346.9L1014.6 345.4L1015.3 346.0L1016.0 345.3L1016.7 345.5L1017.5 344.5L1018.2 344.3L1019.0 344.1L1019.7 342.6L1020.4 341.7L1021.2 342.0L1022.0 340.7L1022.7 340.4L1023.5 340.7L1024.3 339.5L1025.1 339.1L1025.8 337.0L1026.6 337.0L1027.4 336.9L1028.2 334.8L1029.0 335.0L1029.8 334.5L1030.5 332.4L1031.3 333.9L1032.1 332.1L1032.9 331.9L1033.7 332.5L1034.5 330.1L1035.3 330.9L1036.0 330.0L1036.8 329.8L1037.6 328.8L1038.4 329.4L1039.1 327.4L1039.9 327.4L1040.6 326.6L1041.4 325.3L1042.1 324.1L1042.9 322.9L1043.6 322.5L1044.3 321.1L1045.1 319.8L1045.8 318.3L1046.5 318.3L1047.2 317.9L1047.8 317.1L1048.5 317.5L1049.2 315.3L1049.9 317.4L1050.5 315.6L1051.2 314.7L1051.9 313.9L1052.5 314.8L1053.2 314.0L1053.8 312.8L1054.5 312.0L1055.1 311.2L1055.7 309.9L1056.4 309.8L1057.0 308.5L1057.6 307.3L1058.3 305.6L1058.9 306.4L1059.5 304.6L1060.1 303.5L1060.7 304.0L1061.4 302.8L1062.0 300.6L1062.6 300.0L1063.2 299.9L1063.8 298.6L1064.4 298.4L1065.0 299.1L1065.6 298.6L1066.2 296.2L1066.8 295.8L1067.4 295.0L1068.0 293.6L1068.7 291.8L1069.3 292.3L1069.9 290.6L1070.5 290.0L1071.1 289.2L1071.7 287.3L1072.3 287.7L1072.9 285.9L1073.5 285.0L1074.1 283.7L1074.7 283.5L1075.3 282.9L1075.9 281.3L1076.5 281.2L1077.1 280.1L1077.7 279.1L1078.3 279.1L1078.9 279.2L1079.5 278.6L1080.1 278.4L1080.7 276.8L1081.3 276.3L1081.9 275.9L1082.5 275.5L1083.0 274.4L1083.6 273.2L1084.2 272.1L1084.8 272.8L1085.4 271.9L1086.0 270.1L1086.5 270.5L1087.1 268.8L1087.7 268.3L1088.3 267.8L1088.9 265.9L1089.4 264.8L1090.0 263.4L1090.6 263.7L1091.2 263.1L1091.8 262.5L1092.4 261.6L1093.0 260.4L1093.6 260.1L1094.1 258.1L1094.7 258.0L1095.3 257.2L1095.9 256.0L1096.5 256.1L1097.1 254.5L1097.7 254.1L1098.3 253.0L1099.0 251.6L1099.6 252.1L1100.2 251.0L1100.8 249.8L1101.4 249.0L1102.1 247.9L1102.7 247.7L1103.3 247.1L1104.0 246.7L1104.6 245.7L1105.3 245.5L1105.9 244.4L1106.6 242.7L1107.3 242.3L1108.0 241.1L1108.7 239.8L1109.3 239.3L1110.0 238.9L1110.7 236.7L1111.4 235.2L1112.1 235.2L1112.8 236.1L1113.5 233.2L1114.2 232.9L1114.9 231.8L1115.6 231.8L1116.3 231.6L1117.0 230.2L1117.6 230.6L1118.3 228.9L1119.0 229.2L1119.6 228.0L1120.3 228.3L1120.9 227.3L1121.6 227.2L1122.2 225.8L1122.8 225.8L1123.4 224.9L1124.0 223.6L1124.6 222.6L1125.2 221.6L1125.8 221.3L1126.4 220.9L1126.9 219.9L1127.5 219.2L1128.1 219.0L1128.6 217.3L1129.2 216.7L1129.7 216.2L1130.3 215.2L1130.8 214.2L1131.4 213.1L1131.9 213.2L1132.4 211.2L1133.0 210.0L1133.5 209.6L1134.0 209.2L1134.6 208.0L1135.1 206.2L1135.6 205.5L1136.1 204.2L1136.7 203.0L1137.2 202.3L1137.7 201.5L1138.2 200.5L1138.7 200.7L1139.3 198.9L1139.8 199.2L1140.3 199.0L1140.8 198.4L1141.4 196.7L1141.9 195.6L1142.4 194.0L1143.0 193.9L1143.5 194.3L1144.0 191.1L1144.6 190.2L1145.1 190.7L1145.7 189.9L1146.2 187.8L1146.8 188.2L1147.4 187.9L1147.9 186.3L1148.5 187.1L1149.0 185.3L1149.6 186.0L1150.2 184.8L1150.7 183.6L1151.3 182.3L1151.8 182.2L1152.4 181.4L1153.0 180.5L1153.5 179.4L1154.1 178.6L1154.7 178.2L1155.2 176.1L1155.8 175.4L1156.4 174.7L1157.0 173.4L1157.5 173.0L1158.1 172.5L1158.7 170.7L1159.2 170.2L1159.8 167.7L1160.4 168.4L1161.0 168.2L1161.5 166.5L1162.1 167.1L1162.7 164.6L1163.3 165.7L1163.8 164.0L1164.4 163.2L1165.0 162.9L1165.6 162.5L1166.1 161.6L1166.7 160.8L1167.3 160.7L1167.9 160.7L1168.4 159.6L1169.0 159.2L1169.6 157.3L1170.2 156.5L1170.7 155.7L1171.3 155.1L1171.9 154.4L1172.5 154.2L1173.1 152.7L1173.6 151.5L1174.2 151.1L1174.8 148.9L1175.4 147.5L1176.0 147.5L1176.5 146.0L1177.1 144.7L1177.7 143.9L1178.3 142.1L1178.9 141.2L1179.5 140.6L1180.1 139.9L1180.7 139.2L1181.3 138.0L1181.9 137.4L1182.5 135.3L1183.1 136.6L1183.7 134.4L1184.3 134.5L1185.0 135.1L1185.6 132.8L1186.2 131.3L1186.8 132.2L1187.4 130.2L1188.1 129.6L1188.7 128.8L1189.3 128.4L1189.9 127.6L1190.5 126.2L1191.2 126.1L1191.8 124.2L1192.4 124.4L1193.0 122.9L1193.6 123.0L1194.2 121.5L1194.8 120.9L1195.4 121.2L1196.0 118.9L1196.6 118.1L1197.2 118.1L1197.8 116.7L1198.4 115.7L1198.9 115.0L1199.5 115.4L1200.1 112.9L1200.6 112.5L1201.2 112.0L1201.7 110.7L1202.3 110.4L1202.8 110.0L1203.4 108.5L1203.9 108.9L1204.5 106.9L1205.0 106.7L1205.6 106.2L1206.1 106.9L1206.7 103.4L1207.2 103.6L1207.8 103.9L1208.3 101.2L1208.9 101.1L1209.5 99.6L1210.0 97.6L1210.6 97.6L1211.2 95.9L1211.8 95.6L1212.4 93.9L1213.0 94.5L1213.6 92.1L1214.2 92.9L1214.8 93.2L1215.5 92.3L1216.1 91.3L1216.7 90.8L1217.4 90.0L1218.0 90.9L1218.6 88.4L1219.3 87.3L1220.0 85.8L1220.6 84.8L1221.3 84.3L1221.9 82.6L1222.6 81.6L1223.3 80.9L1224.0 80.4L1224.6 80.1L1225.3 79.2L1226.0 79.0L1226.7 78.2L1227.4 78.9L1228.1 77.8L1228.8 77.0L1229.5 76.7L1230.2 75.9L1230.9 74.5L1231.6 74.6L1232.3 75.0L1233.0 73.7L1233.7 73.4L1234.5 71.6L1235.2 70.4L1235.9 70.1L1236.7 70.5L1237.4 68.4L1238.1 67.8L1238.9 68.0L1239.6 66.5L1240.4 65.8L1241.2 65.5L1241.9 64.8L1242.7 64.1L1243.5 63.9L1244.3 63.0L1245.1 62.8L1245.9 62.7L1246.7 61.1L1247.5 60.9L1248.3 59.6L1249.1 59.8L1250.0 58.9L1250.8 58.2L1251.7 57.5L1252.5 56.8L1253.4 56.1L1254.2 54.8L1255.1 55.5L1256.0 54.2L1256.9 55.7L1257.8 54.3L1258.7 54.2L1259.6 52.9L1260.5 53.9L1261.4 53.6L1262.3 51.7L1263.3 51.9L1264.2 51.7L1265.1 51.2L1266.1 52.0L1267.0 52.0L1268.0 49.9L1269.0 50.8L1270.0 49.9L1271.0 50.6L1272.0 48.3L1273.0 49.2L1274.0 49.9L1275.0 48.5L1276.0 49.4L1277.0 48.2L1278.0 48.8L1279.0 48.3L1280.0 47.5L1281.0 47.2L1282.0 47.4L1283.0 48.1L1284.0 47.6L1285.0 47.4L1286.0 49.8L1287.0 47.4L1288.0 48.3L1289.0 49.1L1290.0 48.5L1291.0 49.5L1292.0 49.6L1293.0 49.4L1294.0 50.8L1294.9 50.2L1295.9 50.7L1296.8 52.1L1297.7 51.1L1298.6 52.5L1299.5 53.2L1300.4 53.6L1301.3 53.9L1302.2 54.1L1303.1 54.1L1303.9 55.6L1304.8 56.4L1305.7 56.6L1306.5 57.0L1307.4 58.6L1308.2 58.2L1309.1 59.6L1309.9 59.7L1310.7 59.6L1311.6 62.0L1312.4 62.0L1313.2 62.3L1314.1 61.5L1314.9 62.4L1315.8 62.8L1316.6 62.5L1317.4 64.0L1318.3 62.2L1319.1 64.0L1319.9 63.0L1320.8 63.7L1321.6 64.4L1322.4 66.0L1323.2 66.0L1324.0 66.7L1324.8 67.3L1325.7 67.7L1326.5 68.9L1327.2 69.7L1328.0 70.9L1328.8 71.6L1329.6 71.3L1330.4 72.9L1331.1 74.5L1331.9 74.2L1332.6 74.9L1333.4 75.1L1334.1 75.8L1334.8 76.8L1335.6 76.8L1336.3 78.3L1337.0 78.3L1337.7 80.2L1338.5 80.0L1339.2 81.9L1339.9 82.7L1340.6 81.8L1341.3 83.5L1342.0 83.2L1342.7 84.5L1343.3 84.0L1344.0 84.6L1344.7 85.2L1345.4 86.8L1346.0 85.9L1346.7 88.3L1347.3 88.8L1348.0 89.4L1348.6 90.4L1349.3 91.9L1349.9 92.8L1350.5 94.1L1351.1 93.6L1351.7 93.7L1352.3 95.1L1352.9 96.1L1353.5 96.7L1354.1 98.4L1354.7 99.9L1355.3 99.7L1355.9 99.5L1356.4 102.0L1357.0 101.9L1357.6 103.2L1358.2 104.6L1358.8 105.3L1359.3 106.1L1359.9 107.3L1360.5 108.5L1361.1 109.4L1361.7 111.2L1362.3 109.3L1362.9 111.3L1363.5 112.2L1364.1 113.7L1364.7 114.1L1365.3 115.1L1366.0 114.5L1366.6 115.9L1367.2 117.1L1367.8 117.4L1368.5 118.0L1369.1 119.1L1369.7 120.7L1370.3 119.3L1371.0 122.1L1371.6 122.0L1372.2 122.0L1372.9 123.4L1373.5 123.7L1374.1 125.0L1374.8 124.7L1375.4 126.5L1376.0 126.3L1376.7 127.9L1377.3 129.0L1378.0 129.4L1378.6 130.6L1379.2 130.7L1379.9 132.3L1380.5 132.2L1381.1 132.8L1381.8 133.8L1382.4 134.6L1383.0 135.0L1383.7 136.8L1384.3 137.2L1384.9 138.5L1385.6 138.2L1386.2 139.1L1386.8 140.4L1387.5 140.6L1388.1 141.6L1388.7 142.6L1389.4 143.5L1390.0 144.4L1390.6 144.8L1391.3 144.9L1391.9 146.5L1392.6 147.0L1393.2 148.6L1393.8 148.7L1394.5 151.0L1395.1 151.5L1395.7 152.0L1396.4 152.3L1397.0 154.0L1397.6 154.3L1398.2 155.4L1398.9 155.6L1399.5 156.3L1400.1 157.6L1400.8 158.6L1401.4 157.6L1402.0 158.8L1402.6 159.7L1403.3 160.1L1403.9 160.7L1404.5 162.9L1405.1 162.2L1405.8 163.8L1406.4 164.4L1407.0 165.5L1407.6 165.2L1408.3 167.8L1408.9 168.0L1409.5 168.4L1410.1 170.5L1410.7 170.1L1411.4 170.6L1412.0 171.2L1412.6 173.1L1413.2 173.4L1413.9 174.1L1414.5 174.6L1415.1 176.0L1415.7 177.8L1416.4 178.8L1417.0 178.9" stroke="#000000" stroke-width="9.5" fill="none" stroke-linejoin="round" stroke-linecap="round"/>
<path d="M20 588H51V595H30L27.5 605L25.5 614H21.5L20 602Z" fill="#000"/>
</g>
<g shape-rendering="crispEdges">
<rect x="472" y="478.0" width="2" height="13.4"/>
<rect x="472" y="495.8" width="2" height="4.3"/>
<rect x="472" y="504.6" width="2" height="13.4"/>
<rect x="472" y="522.4" width="2" height="4.3"/>
<rect x="472" y="531.2" width="2" height="13.4"/>
<rect x="472" y="549.0" width="2" height="4.3"/>
<rect x="472" y="557.8" width="2" height="13.4"/>
<rect x="472" y="575.6" width="2" height="4.3"/>
<rect x="472" y="584.4" width="2" height="13.4"/>
<rect x="472" y="602.2" width="2" height="4.3"/>
<rect x="472" y="611.0" width="2" height="13.4"/>
<rect x="472" y="628.8" width="2" height="4.3"/>
<rect x="472" y="637.6" width="2" height="13.4"/>
<rect x="472" y="655.4" width="2" height="4.3"/>
<rect x="472" y="664.2" width="2" height="13.4"/>
<rect x="472" y="682.0" width="2" height="4.3"/>
<rect x="472" y="690.8" width="2" height="13.4"/>
<rect x="472" y="708.6" width="2" height="4.3"/>
<rect x="472" y="717.4" width="2" height="13.4"/>
<rect x="472" y="735.2" width="2" height="4.3"/>
<rect x="472" y="744.0" width="2" height="13.4"/>
<rect x="472" y="761.8" width="2" height="4.3"/>
<rect x="472" y="770.6" width="2" height="13.4"/>
<rect x="472" y="788.4" width="2" height="4.3"/>
<rect x="472" y="797.2" width="2" height="13.4"/>
<rect x="472" y="815.0" width="2" height="4.3"/>
<rect x="472" y="823.8" width="2" height="13.4"/>
<rect x="472" y="841.6" width="2" height="4.3"/>
<rect x="472" y="850.4" width="2" height="13.4"/>
<rect x="472" y="868.2" width="2" height="4.3"/>
<rect x="472" y="877.0" width="2" height="13.4"/>
<rect x="472" y="894.8" width="2" height="4.3"/>
<rect x="472" y="903.6" width="2" height="13.4"/>
<rect x="472" y="921.4" width="2" height="4.3"/>
<rect x="472" y="930.2" width="2" height="13.4"/>
<rect x="472" y="948.0" width="2" height="4.3"/>
<rect x="472" y="956.8" width="2" height="13.4"/>
<rect x="472" y="974.6" width="2" height="4.3"/>
<rect x="472" y="983.4" width="2" height="13.4"/>
<rect x="472" y="1001.2" width="2" height="4.3"/>
<rect x="472" y="1010.0" width="2" height="13.4"/>
<rect x="472" y="1027.8" width="2" height="4.3"/>
<rect x="472" y="1036.6" width="2" height="13.4"/>
<rect x="471" y="1053.0" width="3" height="4.3"/>
<rect x="471" y="1061.8" width="3" height="13.4"/>
<rect x="471" y="1079.6" width="3" height="4.3"/>
<rect x="471" y="1088.4" width="3" height="13.4"/>
<rect x="471" y="1106.2" width="3" height="4.3"/>
<rect x="471" y="1115.0" width="3" height="13.4"/>
<rect x="471" y="1132.8" width="3" height="4.3"/>
<rect x="471" y="1141.6" width="3" height="13.4"/>
<rect x="471" y="1159.4" width="3" height="4.3"/>
<rect x="471" y="1168.2" width="3" height="13.4"/>
<rect x="471" y="1186.0" width="3" height="4.3"/>
<rect x="471" y="1194.8" width="3" height="13.4"/>
<rect x="471" y="1212.6" width="3" height="4.3"/>
<rect x="471" y="1221.4" width="3" height="13.4"/>
<rect x="471" y="1239.2" width="3" height="4.3"/>
<rect x="471" y="1248.0" width="3" height="13.4"/>
<rect x="471" y="1265.8" width="3" height="4.3"/>
<rect x="471" y="1274.6" width="3" height="13.4"/>
<rect x="471" y="1292.4" width="3" height="4.3"/>
<rect x="471" y="1301.2" width="3" height="13.4"/>
<rect x="471" y="1319.0" width="3" height="4.3"/>
<rect x="471" y="1327.8" width="3" height="13.4"/>
<rect x="471" y="1345.6" width="3" height="4.3"/>
<rect x="471" y="1354.4" width="3" height="13.4"/>
<rect x="471" y="1372.2" width="3" height="4.3"/>
<rect x="471" y="1381.0" width="3" height="13.4"/>
<rect x="471" y="1398.8" width="3" height="4.3"/>
<rect x="471" y="1407.6" width="3" height="13.4"/>
<rect x="471" y="1425.4" width="3" height="4.3"/>
<rect x="471" y="1434.2" width="3" height="13.4"/>
<rect x="471" y="1452.0" width="3" height="4.3"/>
<rect x="471" y="1460.8" width="3" height="9.2"/>
<rect x="1280" y="25.0" width="3" height="13.4"/>
<rect x="1280" y="42.8" width="3" height="4.3"/>
<rect x="1280" y="51.6" width="3" height="13.4"/>
<rect x="1280" y="69.4" width="3" height="4.3"/>
<rect x="1280" y="78.2" width="3" height="13.4"/>
<rect x="1280" y="96.0" width="3" height="4.3"/>
<rect x="1280" y="104.8" width="3" height="13.4"/>
<rect x="1280" y="122.6" width="3" height="4.3"/>
<rect x="1280" y="131.4" width="3" height="13.4"/>
<rect x="1280" y="149.2" width="3" height="4.3"/>
<rect x="1280" y="158.0" width="3" height="13.4"/>
<rect x="1280" y="175.8" width="3" height="4.3"/>
<rect x="1280" y="184.6" width="3" height="13.4"/>
<rect x="1280" y="202.4" width="3" height="4.3"/>
<rect x="1280" y="211.2" width="3" height="13.4"/>
<rect x="1280" y="229.0" width="3" height="4.3"/>
<rect x="1280" y="237.8" width="3" height="13.4"/>
<rect x="1280" y="255.6" width="3" height="4.3"/>
<rect x="1280" y="264.4" width="3" height="13.4"/>
<rect x="1280" y="282.2" width="3" height="4.3"/>
<rect x="1280" y="291.0" width="3" height="13.4"/>
<rect x="1280" y="308.8" width="3" height="4.3"/>
<rect x="1280" y="317.6" width="3" height="13.4"/>
<rect x="1280" y="335.4" width="3" height="4.3"/>
<rect x="1280" y="344.2" width="3" height="13.4"/>
<rect x="1280" y="362.0" width="3" height="4.3"/>
<rect x="1280" y="370.8" width="3" height="13.4"/>
<rect x="1280" y="388.6" width="3" height="4.3"/>
<rect x="1280" y="397.4" width="3" height="13.4"/>
<rect x="1280" y="415.2" width="3" height="4.3"/>
<rect x="1280" y="424.0" width="3" height="13.4"/>
<rect x="1280" y="441.8" width="3" height="4.3"/>
<rect x="1280" y="450.6" width="3" height="13.4"/>
<rect x="1280" y="468.4" width="3" height="4.3"/>
<rect x="1280" y="477.2" width="3" height="13.4"/>
<rect x="1280" y="495.0" width="3" height="4.3"/>
<rect x="1280" y="503.8" width="3" height="13.4"/>
<rect x="1280" y="521.6" width="3" height="4.3"/>
<rect x="1280" y="530.4" width="3" height="13.4"/>
<rect x="1280" y="548.2" width="3" height="4.3"/>
<rect x="1280" y="557.0" width="3" height="13.4"/>
<rect x="1280" y="574.8" width="3" height="4.3"/>
<rect x="1280" y="583.6" width="3" height="13.4"/>
<rect x="1280" y="601.4" width="3" height="4.3"/>
<rect x="1280" y="610.2" width="3" height="13.4"/>
<rect x="1280" y="628.0" width="3" height="4.3"/>
<rect x="1280" y="636.8" width="3" height="13.4"/>
<rect x="1280" y="654.6" width="3" height="4.3"/>
<rect x="1280" y="663.4" width="3" height="13.4"/>
<rect x="1280" y="681.2" width="3" height="4.3"/>
<rect x="1280" y="690.0" width="3" height="13.4"/>
<rect x="1280" y="707.8" width="3" height="4.3"/>
<rect x="1280" y="716.6" width="3" height="13.4"/>
<rect x="1280" y="734.4" width="3" height="4.3"/>
<rect x="1280" y="743.2" width="3" height="13.4"/>
<rect x="1280" y="761.0" width="3" height="4.3"/>
<rect x="1280" y="769.8" width="3" height="13.4"/>
<rect x="1280" y="787.6" width="3" height="4.3"/>
<rect x="1280" y="796.4" width="3" height="13.4"/>
<rect x="1280" y="814.2" width="3" height="4.3"/>
<rect x="1280" y="823.0" width="3" height="13.4"/>
<rect x="1280" y="840.8" width="3" height="4.3"/>
<rect x="1280" y="849.6" width="3" height="3.4"/>
<rect x="1279" y="853.0" width="3" height="8.7"/>
<rect x="1279" y="866.1" width="3" height="4.3"/>
<rect x="1279" y="874.9" width="3" height="13.4"/>
<rect x="1279" y="892.7" width="3" height="4.3"/>
<rect x="1279" y="901.5" width="3" height="13.4"/>
<rect x="1279" y="919.3" width="3" height="4.3"/>
<rect x="1279" y="928.1" width="3" height="3.9"/>
<rect x="1326" y="431.0" width="3" height="13.4"/>
<rect x="1326" y="448.8" width="3" height="4.3"/>
<rect x="1326" y="457.6" width="3" height="13.4"/>
<rect x="1326" y="475.4" width="3" height="4.3"/>
<rect x="1326" y="484.2" width="3" height="13.4"/>
<rect x="1326" y="502.0" width="3" height="4.3"/>
<rect x="1326" y="510.8" width="3" height="13.4"/>
<rect x="1326" y="528.6" width="3" height="4.3"/>
<rect x="1326" y="537.4" width="3" height="13.4"/>
<rect x="1326" y="555.2" width="3" height="4.3"/>
<rect x="1326" y="564.0" width="3" height="13.4"/>
<rect x="749" y="1340" width="3" height="52"/>
<rect x="83" y="61" width="10" height="146"/>
</g>
</svg>
</body>
</html>
